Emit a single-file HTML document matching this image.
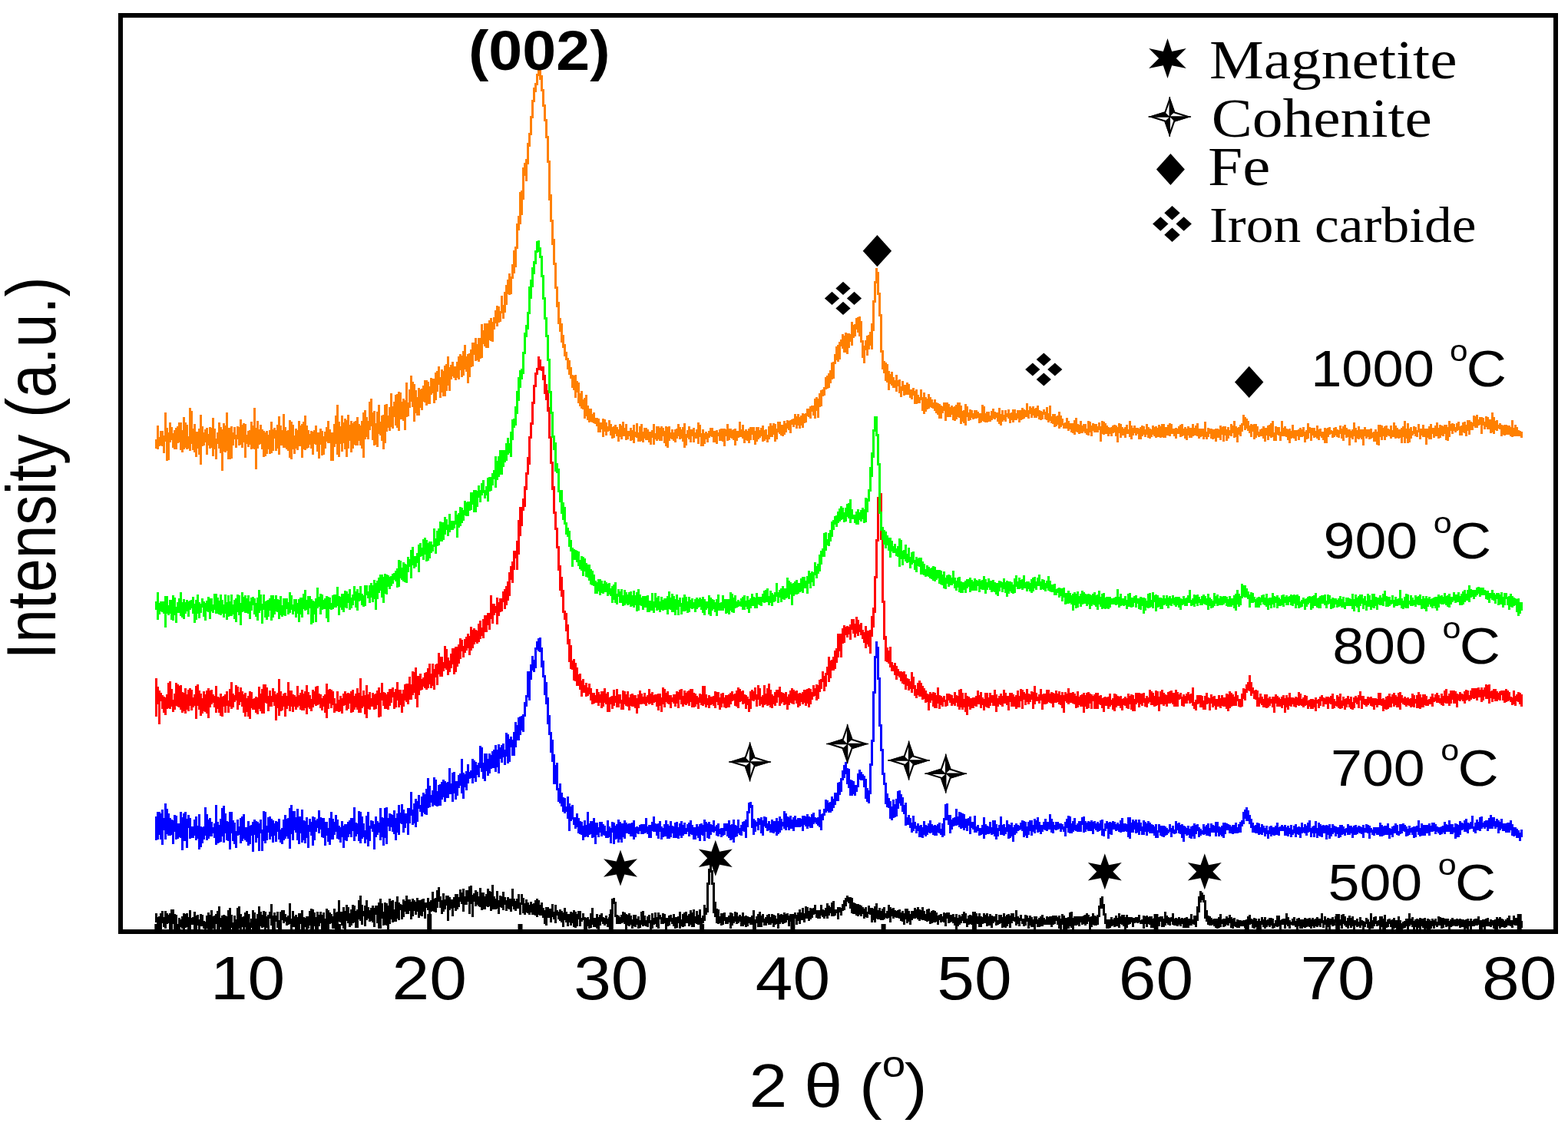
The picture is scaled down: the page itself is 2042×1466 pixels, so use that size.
<!DOCTYPE html><html><head><meta charset="utf-8"><title>XRD</title><style>html,body{margin:0;padding:0;background:#fff;width:2042px;height:1466px;overflow:hidden}svg{display:block}text{font-kerning:none}</style></head><body>
<svg width="2042" height="1466" viewBox="0 0 2042 1466">
<rect width="2042" height="1466" fill="#fff"/>
<defs><clipPath id="pc"><rect x="157" y="20" width="1869" height="1193"/></clipPath></defs><g clip-path="url(#pc)">
<path fill="#000000" shape-rendering="crispEdges" d="M201.5 1188.9H204.5V1201.1H201.5ZM203.5 1194.4H206.5V1211.6H203.5ZM205.5 1193.2H208.5V1215.6H205.5ZM207.5 1188.8H210.5V1215.3H207.5ZM209.5 1185.6H212.5V1201.8H209.5ZM211.5 1193.8H214.5V1206.9H211.5ZM213.5 1186.4H216.5V1209.1H213.5ZM215.5 1189.2H218.5V1202.6H215.5ZM217.5 1191.1H220.5V1202.3H217.5ZM219.5 1188.6H222.5V1211.8H219.5ZM221.5 1183.5H224.5V1211.2H221.5ZM223.5 1183.6H226.5V1202.8H223.5ZM225.5 1190.0H228.5V1210.1H225.5ZM227.5 1190.7H230.5V1214.0H227.5ZM229.5 1202.7H232.5V1221.8H229.5ZM231.5 1194.6H234.5V1213.2H231.5ZM233.5 1196.5H236.5V1207.3H233.5ZM235.5 1192.5H238.5V1209.2H235.5ZM237.5 1189.0H240.5V1210.1H237.5ZM239.5 1190.3H242.5V1207.9H239.5ZM241.5 1189.2H244.5V1207.3H241.5ZM243.5 1194.4H246.5V1211.7H243.5ZM245.5 1184.7H248.5V1213.0H245.5ZM247.5 1194.9H250.5V1204.4H247.5ZM249.5 1193.6H252.5V1203.6H249.5ZM251.5 1186.7H254.5V1217.4H251.5ZM253.5 1191.8H256.5V1216.1H253.5ZM255.5 1191.4H258.5V1204.7H255.5ZM257.5 1196.7H260.5V1217.2H257.5ZM259.5 1189.6H262.5V1205.5H259.5ZM261.5 1191.0H264.5V1205.7H261.5ZM263.5 1199.3H266.5V1209.1H263.5ZM265.5 1200.2H268.5V1216.7H265.5ZM267.5 1191.9H270.5V1208.5H267.5ZM269.5 1187.5H272.5V1214.5H269.5ZM271.5 1190.7H274.5V1217.6H271.5ZM273.5 1184.7H276.5V1214.8H273.5ZM275.5 1192.8H278.5V1209.2H275.5ZM277.5 1191.8H280.5V1210.6H277.5ZM279.5 1189.9H282.5V1203.0H279.5ZM281.5 1185.7H284.5V1217.5H281.5ZM283.5 1180.0H286.5V1212.7H283.5ZM285.5 1195.2H288.5V1207.1H285.5ZM287.5 1192.0H290.5V1219.1H287.5ZM289.5 1191.2H292.5V1223.3H289.5ZM291.5 1192.0H294.5V1210.1H291.5ZM293.5 1192.8H296.5V1216.8H293.5ZM295.5 1184.7H298.5V1213.4H295.5ZM297.5 1182.2H300.5V1211.3H297.5ZM299.5 1191.1H302.5V1208.1H299.5ZM301.5 1201.2H304.5V1215.8H301.5ZM303.5 1191.9H306.5V1210.8H303.5ZM305.5 1196.8H308.5V1223.7H305.5ZM307.5 1181.5H310.5V1212.2H307.5ZM309.5 1179.7H312.5V1208.5H309.5ZM311.5 1190.0H314.5V1210.1H311.5ZM313.5 1193.9H316.5V1207.4H313.5ZM315.5 1193.4H318.5V1212.1H315.5ZM317.5 1188.4H320.5V1206.8H317.5ZM319.5 1185.8H322.5V1205.5H319.5ZM321.5 1195.8H324.5V1203.8H321.5ZM323.5 1200.8H326.5V1212.1H323.5ZM325.5 1195.8H328.5V1208.0H325.5ZM327.5 1184.5H330.5V1210.6H327.5ZM329.5 1187.9H332.5V1210.9H329.5ZM331.5 1195.6H334.5V1215.1H331.5ZM333.5 1189.5H336.5V1211.4H333.5ZM335.5 1179.7H338.5V1210.2H335.5ZM337.5 1187.4H340.5V1205.5H337.5ZM339.5 1190.6H342.5V1208.0H339.5ZM341.5 1186.3H344.5V1207.1H341.5ZM343.5 1186.7H346.5V1210.7H343.5ZM345.5 1192.7H348.5V1208.2H345.5ZM347.5 1191.3H350.5V1217.6H347.5ZM349.5 1187.1H352.5V1196.0H349.5ZM351.5 1177.4H354.5V1205.2H351.5ZM353.5 1191.7H356.5V1216.9H353.5ZM355.5 1188.2H358.5V1215.0H355.5ZM357.5 1192.1H360.5V1200.4H357.5ZM359.5 1187.4H362.5V1207.8H359.5ZM361.5 1197.5H364.5V1215.5H361.5ZM363.5 1186.9H366.5V1211.2H363.5ZM365.5 1185.4H368.5V1198.2H365.5ZM367.5 1184.6H370.5V1202.4H367.5ZM369.5 1190.2H372.5V1200.2H369.5ZM371.5 1194.2H374.5V1204.7H371.5ZM373.5 1192.3H376.5V1203.9H373.5ZM375.5 1176.2H378.5V1203.1H375.5ZM377.5 1196.2H380.5V1211.4H377.5ZM379.5 1186.1H382.5V1207.3H379.5ZM381.5 1193.4H384.5V1207.3H381.5ZM383.5 1190.5H386.5V1213.3H383.5ZM385.5 1194.3H388.5V1209.5H385.5ZM387.5 1189.1H390.5V1212.6H387.5ZM389.5 1188.5H392.5V1202.5H389.5ZM391.5 1184.8H394.5V1214.0H391.5ZM393.5 1194.0H396.5V1209.5H393.5ZM395.5 1195.0H398.5V1207.1H395.5ZM397.5 1193.1H400.5V1211.0H397.5ZM399.5 1192.9H402.5V1209.4H399.5ZM401.5 1186.2H404.5V1205.2H401.5ZM403.5 1183.2H406.5V1209.5H403.5ZM405.5 1184.0H408.5V1209.9H405.5ZM407.5 1188.3H410.5V1205.7H407.5ZM409.5 1193.6H412.5V1211.4H409.5ZM411.5 1186.7H414.5V1214.9H411.5ZM413.5 1190.9H416.5V1206.1H413.5ZM415.5 1186.9H418.5V1202.2H415.5ZM417.5 1190.8H420.5V1213.1H417.5ZM419.5 1187.8H422.5V1210.5H419.5ZM421.5 1196.4H424.5V1212.6H421.5ZM423.5 1183.2H426.5V1211.3H423.5ZM425.5 1185.0H428.5V1210.1H425.5ZM427.5 1188.2H430.5V1203.4H427.5ZM429.5 1189.7H432.5V1201.8H429.5ZM431.5 1192.7H434.5V1208.5H431.5ZM433.5 1182.5H436.5V1209.3H433.5ZM435.5 1187.9H438.5V1213.7H435.5ZM437.5 1186.5H440.5V1203.7H437.5ZM439.5 1171.6H442.5V1200.0H439.5ZM441.5 1186.6H444.5V1201.1H441.5ZM443.5 1187.0H446.5V1205.1H443.5ZM445.5 1181.3H448.5V1209.0H445.5ZM447.5 1186.1H450.5V1212.7H447.5ZM449.5 1178.1H452.5V1198.9H449.5ZM451.5 1180.5H454.5V1202.1H451.5ZM453.5 1189.3H456.5V1207.2H453.5ZM455.5 1184.2H458.5V1205.2H455.5ZM457.5 1177.6H460.5V1201.6H457.5ZM459.5 1179.1H462.5V1200.7H459.5ZM461.5 1186.1H464.5V1208.3H461.5ZM463.5 1183.7H466.5V1208.4H463.5ZM465.5 1172.2H468.5V1197.2H465.5ZM467.5 1166.3H470.5V1199.3H467.5ZM469.5 1178.0H472.5V1204.3H469.5ZM471.5 1185.9H474.5V1193.2H471.5ZM473.5 1179.0H476.5V1205.5H473.5ZM475.5 1171.5H478.5V1197.6H475.5ZM477.5 1181.0H480.5V1196.2H477.5ZM479.5 1185.0H482.5V1200.0H479.5ZM481.5 1182.3H484.5V1199.1H481.5ZM483.5 1179.1H486.5V1200.5H483.5ZM485.5 1182.3H488.5V1207.0H485.5ZM487.5 1179.0H490.5V1190.6H487.5ZM489.5 1179.3H492.5V1202.2H489.5ZM491.5 1175.3H494.5V1209.1H491.5ZM493.5 1169.8H496.5V1208.5H493.5ZM495.5 1176.3H498.5V1195.6H495.5ZM497.5 1187.2H500.5V1205.0H497.5ZM499.5 1174.5H502.5V1203.7H499.5ZM501.5 1175.6H504.5V1204.8H501.5ZM503.5 1179.0H506.5V1212.3H503.5ZM505.5 1169.6H508.5V1203.4H505.5ZM507.5 1173.3H510.5V1197.1H507.5ZM509.5 1172.1H512.5V1200.7H509.5ZM511.5 1184.4H514.5V1199.7H511.5ZM513.5 1173.5H516.5V1199.7H513.5ZM515.5 1167.4H518.5V1195.5H515.5ZM517.5 1175.0H520.5V1198.4H517.5ZM519.5 1176.7H522.5V1184.9H519.5ZM521.5 1178.0H524.5V1197.2H521.5ZM523.5 1170.9H526.5V1194.3H523.5ZM525.5 1173.4H528.5V1187.0H525.5ZM527.5 1166.0H530.5V1190.0H527.5ZM529.5 1170.5H532.5V1190.2H529.5ZM531.5 1170.9H534.5V1185.5H531.5ZM533.5 1173.7H536.5V1197.0H533.5ZM535.5 1169.7H538.5V1192.5H535.5ZM537.5 1172.0H540.5V1185.8H537.5ZM539.5 1174.1H542.5V1191.4H539.5ZM541.5 1169.4H544.5V1187.0H541.5ZM543.5 1171.5H546.5V1195.0H543.5ZM545.5 1171.5H548.5V1192.1H545.5ZM547.5 1171.3H550.5V1193.4H547.5ZM549.5 1170.2H552.5V1186.9H549.5ZM551.5 1175.2H554.5V1196.1H551.5ZM553.5 1175.0H556.5V1181.9H553.5ZM555.5 1169.2H558.5V1185.0H555.5ZM557.5 1174.0H560.5V1193.5H557.5ZM559.5 1171.7H562.5V1186.5H559.5ZM561.5 1161.4H564.5V1185.8H561.5ZM563.5 1170.0H566.5V1187.0H563.5ZM565.5 1169.2H568.5V1188.2H565.5ZM567.5 1158.8H570.5V1182.3H567.5ZM569.5 1155.2H572.5V1174.4H569.5ZM571.5 1166.8H574.5V1181.6H571.5ZM573.5 1171.8H576.5V1190.4H573.5ZM575.5 1163.0H578.5V1187.4H575.5ZM577.5 1171.1H580.5V1184.2H577.5ZM579.5 1166.3H582.5V1179.0H579.5ZM581.5 1165.7H584.5V1198.6H581.5ZM583.5 1168.0H586.5V1185.4H583.5ZM585.5 1171.1H588.5V1183.4H585.5ZM587.5 1170.8H590.5V1192.9H587.5ZM589.5 1167.7H592.5V1181.8H589.5ZM591.5 1163.5H594.5V1186.4H591.5ZM593.5 1164.1H596.5V1184.2H593.5ZM595.5 1167.6H598.5V1180.6H595.5ZM597.5 1157.9H600.5V1173.5H597.5ZM599.5 1161.5H602.5V1176.6H599.5ZM601.5 1157.0H604.5V1187.2H601.5ZM603.5 1167.4H606.5V1177.5H603.5ZM605.5 1158.5H608.5V1177.6H605.5ZM607.5 1158.5H610.5V1174.3H607.5ZM609.5 1153.8H612.5V1189.8H609.5ZM611.5 1153.4H614.5V1177.0H611.5ZM613.5 1165.4H616.5V1193.5H613.5ZM615.5 1162.8H618.5V1174.2H615.5ZM617.5 1159.0H620.5V1179.7H617.5ZM619.5 1160.5H622.5V1178.1H619.5ZM621.5 1167.4H624.5V1180.1H621.5ZM623.5 1156.1H626.5V1180.8H623.5ZM625.5 1162.1H628.5V1184.7H625.5ZM627.5 1162.3H630.5V1183.7H627.5ZM629.5 1166.9H632.5V1183.9H629.5ZM631.5 1164.2H634.5V1180.0H631.5ZM633.5 1156.5H636.5V1181.2H633.5ZM635.5 1160.3H638.5V1179.5H635.5ZM637.5 1161.2H640.5V1186.2H637.5ZM639.5 1152.3H642.5V1183.9H639.5ZM641.5 1166.6H644.5V1184.1H641.5ZM643.5 1170.0H646.5V1183.6H643.5ZM645.5 1160.4H648.5V1182.8H645.5ZM647.5 1172.4H650.5V1189.7H647.5ZM649.5 1165.6H652.5V1180.9H649.5ZM651.5 1166.6H654.5V1182.2H651.5ZM653.5 1161.1H656.5V1185.1H653.5ZM655.5 1167.7H658.5V1178.2H655.5ZM657.5 1171.9H660.5V1185.5H657.5ZM659.5 1168.4H662.5V1183.3H659.5ZM661.5 1169.8H664.5V1183.9H661.5ZM663.5 1169.9H666.5V1186.8H663.5ZM665.5 1157.2H668.5V1180.0H665.5ZM667.5 1170.3H670.5V1184.1H667.5ZM669.5 1173.1H672.5V1186.0H669.5ZM671.5 1170.0H674.5V1182.6H671.5ZM673.5 1163.7H676.5V1182.6H673.5ZM675.5 1174.8H678.5V1191.1H675.5ZM677.5 1163.5H680.5V1178.4H677.5ZM679.5 1169.2H682.5V1189.1H679.5ZM681.5 1176.0H684.5V1191.0H681.5ZM683.5 1170.5H686.5V1188.1H683.5ZM685.5 1174.8H688.5V1188.6H685.5ZM687.5 1178.2H690.5V1190.9H687.5ZM689.5 1173.5H692.5V1187.9H689.5ZM691.5 1176.5H694.5V1190.8H691.5ZM693.5 1176.3H696.5V1191.1H693.5ZM695.5 1171.7H698.5V1191.7H695.5ZM697.5 1169.6H700.5V1194.4H697.5ZM699.5 1171.6H702.5V1190.6H699.5ZM701.5 1177.5H704.5V1191.6H701.5ZM703.5 1175.4H706.5V1191.9H703.5ZM705.5 1181.8H708.5V1194.5H705.5ZM707.5 1185.2H710.5V1203.4H707.5ZM709.5 1181.0H712.5V1204.6H709.5ZM711.5 1180.7H714.5V1195.1H711.5ZM713.5 1182.7H716.5V1194.7H713.5ZM715.5 1182.9H718.5V1201.3H715.5ZM717.5 1176.7H720.5V1193.9H717.5ZM719.5 1187.0H722.5V1197.3H719.5ZM721.5 1177.7H724.5V1202.3H721.5ZM723.5 1185.1H726.5V1191.5H723.5ZM725.5 1187.0H728.5V1196.8H725.5ZM727.5 1183.6H730.5V1199.3H727.5ZM729.5 1186.3H732.5V1200.8H729.5ZM731.5 1187.5H734.5V1206.8H731.5ZM733.5 1182.1H736.5V1197.6H733.5ZM735.5 1186.8H738.5V1201.0H735.5ZM737.5 1189.5H740.5V1206.2H737.5ZM739.5 1189.5H742.5V1201.2H739.5ZM741.5 1187.3H744.5V1205.1H741.5ZM743.5 1187.5H746.5V1201.9H743.5ZM745.5 1185.0H748.5V1207.1H745.5ZM747.5 1186.8H750.5V1208.0H747.5ZM749.5 1190.1H752.5V1206.3H749.5ZM751.5 1186.1H754.5V1197.1H751.5ZM753.5 1186.2H756.5V1206.1H753.5ZM755.5 1194.5H758.5V1200.1H755.5ZM757.5 1188.6H760.5V1198.0H757.5ZM759.5 1194.1H762.5V1209.8H759.5ZM761.5 1194.5H764.5V1209.7H761.5ZM763.5 1193.5H766.5V1206.2H763.5ZM765.5 1196.5H768.5V1208.6H765.5ZM767.5 1188.6H770.5V1207.5H767.5ZM769.5 1181.8H772.5V1203.8H769.5ZM771.5 1194.8H774.5V1206.5H771.5ZM773.5 1194.6H776.5V1206.6H773.5ZM775.5 1190.2H778.5V1208.5H775.5ZM777.5 1194.1H780.5V1210.4H777.5ZM779.5 1191.0H782.5V1205.4H779.5ZM781.5 1189.1H784.5V1200.3H781.5ZM783.5 1194.4H786.5V1203.2H783.5ZM785.5 1194.7H788.5V1205.0H785.5ZM787.5 1192.2H790.5V1202.6H787.5ZM789.5 1195.5H792.5V1206.9H789.5ZM791.5 1194.0H794.5V1204.9H791.5ZM793.5 1184.1H796.5V1204.0H793.5ZM795.5 1169.5H798.5V1189.8H795.5ZM797.5 1169.4H800.5V1177.3H797.5ZM799.5 1173.8H802.5V1194.2H799.5ZM801.5 1191.2H804.5V1203.4H801.5ZM803.5 1192.2H806.5V1203.0H803.5ZM805.5 1194.4H808.5V1202.9H805.5ZM807.5 1190.5H810.5V1201.7H807.5ZM809.5 1187.3H812.5V1200.9H809.5ZM811.5 1187.6H814.5V1202.8H811.5ZM813.5 1190.3H816.5V1211.6H813.5ZM815.5 1190.5H818.5V1205.4H815.5ZM817.5 1188.8H820.5V1206.4H817.5ZM819.5 1192.1H822.5V1203.6H819.5ZM821.5 1197.2H824.5V1208.9H821.5ZM823.5 1191.4H826.5V1205.8H823.5ZM825.5 1190.8H828.5V1207.3H825.5ZM827.5 1195.7H830.5V1203.7H827.5ZM829.5 1193.4H832.5V1208.9H829.5ZM831.5 1198.4H834.5V1207.9H831.5ZM833.5 1187.2H836.5V1203.9H833.5ZM835.5 1186.0H838.5V1206.0H835.5ZM837.5 1192.2H840.5V1204.7H837.5ZM839.5 1197.6H842.5V1206.1H839.5ZM841.5 1193.3H844.5V1207.1H841.5ZM843.5 1191.0H846.5V1201.7H843.5ZM845.5 1197.9H848.5V1212.6H845.5ZM847.5 1188.8H850.5V1208.7H847.5ZM849.5 1194.8H852.5V1204.3H849.5ZM851.5 1188.3H854.5V1202.5H851.5ZM853.5 1194.1H856.5V1207.0H853.5ZM855.5 1188.3H858.5V1209.3H855.5ZM857.5 1190.6H860.5V1197.1H857.5ZM859.5 1194.1H862.5V1202.5H859.5ZM861.5 1188.5H864.5V1202.5H861.5ZM863.5 1189.9H866.5V1201.7H863.5ZM865.5 1194.8H868.5V1209.9H865.5ZM867.5 1195.1H870.5V1205.7H867.5ZM869.5 1191.8H872.5V1204.6H869.5ZM871.5 1191.0H874.5V1200.4H871.5ZM873.5 1195.3H876.5V1203.4H873.5ZM875.5 1189.7H878.5V1205.5H875.5ZM877.5 1194.0H880.5V1209.0H877.5ZM879.5 1194.4H882.5V1207.5H879.5ZM881.5 1192.7H884.5V1202.0H881.5ZM883.5 1187.4H886.5V1209.4H883.5ZM885.5 1196.9H888.5V1205.6H885.5ZM887.5 1189.5H890.5V1207.2H887.5ZM889.5 1187.5H892.5V1206.3H889.5ZM891.5 1187.4H894.5V1201.8H891.5ZM893.5 1191.9H896.5V1202.0H893.5ZM895.5 1190.4H898.5V1205.8H895.5ZM897.5 1185.4H900.5V1204.0H897.5ZM899.5 1187.9H902.5V1206.5H899.5ZM901.5 1183.7H904.5V1207.3H901.5ZM903.5 1192.9H906.5V1202.1H903.5ZM905.5 1185.8H908.5V1202.8H905.5ZM907.5 1190.5H910.5V1204.0H907.5ZM909.5 1183.7H912.5V1203.3H909.5ZM911.5 1195.1H914.5V1204.5H911.5ZM913.5 1192.0H916.5V1202.2H913.5ZM915.5 1178.3H918.5V1198.5H915.5ZM917.5 1182.0H920.5V1190.9H917.5ZM919.5 1149.1H922.5V1187.8H919.5ZM921.5 1130.7H924.5V1152.1H921.5ZM923.5 1125.1H926.5V1135.7H923.5ZM925.5 1132.7H928.5V1151.9H925.5ZM927.5 1148.9H930.5V1189.0H927.5ZM929.5 1174.0H932.5V1193.5H929.5ZM931.5 1182.8H934.5V1202.1H931.5ZM933.5 1184.3H936.5V1203.0H933.5ZM935.5 1193.2H938.5V1202.0H935.5ZM937.5 1188.5H940.5V1205.2H937.5ZM939.5 1188.9H942.5V1203.7H939.5ZM941.5 1188.4H944.5V1199.1H941.5ZM943.5 1193.5H946.5V1202.9H943.5ZM945.5 1193.6H948.5V1202.9H945.5ZM947.5 1192.0H950.5V1200.8H947.5ZM949.5 1188.2H952.5V1209.3H949.5ZM951.5 1188.7H954.5V1204.9H951.5ZM953.5 1192.6H956.5V1202.4H953.5ZM955.5 1187.2H958.5V1199.7H955.5ZM957.5 1187.7H960.5V1203.0H957.5ZM959.5 1192.5H962.5V1201.5H959.5ZM961.5 1190.9H964.5V1199.9H961.5ZM963.5 1193.4H966.5V1205.5H963.5ZM965.5 1187.8H968.5V1206.3H965.5ZM967.5 1192.9H970.5V1203.5H967.5ZM969.5 1192.1H972.5V1207.1H969.5ZM971.5 1193.0H974.5V1206.3H971.5ZM973.5 1194.4H976.5V1201.5H973.5ZM975.5 1193.9H978.5V1203.5H975.5ZM977.5 1192.0H980.5V1204.0H977.5ZM979.5 1185.0H982.5V1209.9H979.5ZM981.5 1196.6H984.5V1212.0H981.5ZM983.5 1192.9H986.5V1202.4H983.5ZM985.5 1190.1H988.5V1207.4H985.5ZM987.5 1186.5H990.5V1206.5H987.5ZM989.5 1191.5H992.5V1206.6H989.5ZM991.5 1189.6H994.5V1201.4H991.5ZM993.5 1196.1H996.5V1205.4H993.5ZM995.5 1193.5H998.5V1205.0H995.5ZM997.5 1190.8H1000.5V1201.5H997.5ZM999.5 1189.7H1002.5V1203.9H999.5ZM1001.5 1194.1H1004.5V1203.9H1001.5ZM1003.5 1190.4H1006.5V1202.4H1003.5ZM1005.5 1190.9H1008.5V1207.0H1005.5ZM1007.5 1192.0H1010.5V1203.6H1007.5ZM1009.5 1195.9H1012.5V1202.9H1009.5ZM1011.5 1189.0H1014.5V1209.0H1011.5ZM1013.5 1190.6H1016.5V1202.7H1013.5ZM1015.5 1190.2H1018.5V1201.0H1015.5ZM1017.5 1190.7H1020.5V1202.9H1017.5ZM1019.5 1187.7H1022.5V1202.4H1019.5ZM1021.5 1190.0H1024.5V1200.8H1021.5ZM1023.5 1189.4H1026.5V1198.4H1023.5ZM1025.5 1191.6H1028.5V1206.4H1025.5ZM1027.5 1189.5H1030.5V1200.1H1027.5ZM1029.5 1193.2H1032.5V1206.4H1029.5ZM1031.5 1190.2H1034.5V1199.8H1031.5ZM1033.5 1188.3H1036.5V1196.4H1033.5ZM1035.5 1190.8H1038.5V1203.8H1035.5ZM1037.5 1187.9H1040.5V1198.9H1037.5ZM1039.5 1184.0H1042.5V1203.2H1039.5ZM1041.5 1187.8H1044.5V1197.6H1041.5ZM1043.5 1182.2H1046.5V1197.6H1043.5ZM1045.5 1188.8H1048.5V1201.0H1045.5ZM1047.5 1180.2H1050.5V1196.1H1047.5ZM1049.5 1180.9H1052.5V1196.1H1049.5ZM1051.5 1185.5H1054.5V1199.0H1051.5ZM1053.5 1181.6H1056.5V1197.2H1053.5ZM1055.5 1183.4H1058.5V1195.1H1055.5ZM1057.5 1181.5H1060.5V1191.0H1057.5ZM1059.5 1178.3H1062.5V1189.5H1059.5ZM1061.5 1184.9H1064.5V1195.1H1061.5ZM1063.5 1185.1H1066.5V1195.8H1063.5ZM1065.5 1184.8H1068.5V1195.5H1065.5ZM1067.5 1178.0H1070.5V1192.0H1067.5ZM1069.5 1184.2H1072.5V1193.5H1069.5ZM1071.5 1184.7H1074.5V1195.8H1071.5ZM1073.5 1182.2H1076.5V1193.0H1073.5ZM1075.5 1176.1H1078.5V1196.0H1075.5ZM1077.5 1178.8H1080.5V1191.5H1077.5ZM1079.5 1180.6H1082.5V1189.3H1079.5ZM1081.5 1174.6H1084.5V1192.5H1081.5ZM1083.5 1172.6H1086.5V1193.1H1083.5ZM1085.5 1183.8H1088.5V1191.5H1085.5ZM1087.5 1183.9H1090.5V1189.2H1087.5ZM1089.5 1180.9H1092.5V1197.1H1089.5ZM1091.5 1180.9H1094.5V1188.0H1091.5ZM1093.5 1182.3H1096.5V1191.7H1093.5ZM1095.5 1177.4H1098.5V1186.3H1095.5ZM1097.5 1172.3H1100.5V1184.5H1097.5ZM1099.5 1169.0H1102.5V1179.7H1099.5ZM1101.5 1166.1H1104.5V1173.6H1101.5ZM1103.5 1168.0H1106.5V1176.4H1103.5ZM1105.5 1168.0H1108.5V1183.4H1105.5ZM1107.5 1169.3H1110.5V1188.9H1107.5ZM1109.5 1175.0H1112.5V1190.3H1109.5ZM1111.5 1175.9H1114.5V1189.7H1111.5ZM1113.5 1177.4H1116.5V1191.9H1113.5ZM1115.5 1177.1H1118.5V1193.2H1115.5ZM1117.5 1177.7H1120.5V1191.1H1117.5ZM1119.5 1179.0H1122.5V1193.2H1119.5ZM1121.5 1180.6H1124.5V1189.5H1121.5ZM1123.5 1182.7H1126.5V1196.4H1123.5ZM1125.5 1181.2H1128.5V1193.7H1125.5ZM1127.5 1186.9H1130.5V1195.2H1127.5ZM1129.5 1179.4H1132.5V1189.9H1129.5ZM1131.5 1182.1H1134.5V1191.0H1131.5ZM1133.5 1181.7H1136.5V1200.8H1133.5ZM1135.5 1182.9H1138.5V1198.4H1135.5ZM1137.5 1180.2H1140.5V1200.8H1137.5ZM1139.5 1176.3H1142.5V1195.8H1139.5ZM1141.5 1184.8H1144.5V1196.9H1141.5ZM1143.5 1182.4H1146.5V1197.1H1143.5ZM1145.5 1185.8H1148.5V1197.7H1145.5ZM1147.5 1182.8H1150.5V1197.9H1147.5ZM1149.5 1180.8H1152.5V1197.2H1149.5ZM1151.5 1188.8H1154.5V1194.7H1151.5ZM1153.5 1186.4H1156.5V1196.0H1153.5ZM1155.5 1177.8H1158.5V1194.7H1155.5ZM1157.5 1180.6H1160.5V1200.5H1157.5ZM1159.5 1182.7H1162.5V1193.2H1159.5ZM1161.5 1182.4H1164.5V1195.8H1161.5ZM1163.5 1184.9H1166.5V1194.4H1163.5ZM1165.5 1186.0H1168.5V1194.9H1165.5ZM1167.5 1184.6H1170.5V1195.0H1167.5ZM1169.5 1183.6H1172.5V1196.3H1169.5ZM1171.5 1188.4H1174.5V1198.5H1171.5ZM1173.5 1186.1H1176.5V1199.7H1173.5ZM1175.5 1189.3H1178.5V1203.9H1175.5ZM1177.5 1182.7H1180.5V1197.4H1177.5ZM1179.5 1182.6H1182.5V1201.7H1179.5ZM1181.5 1185.8H1184.5V1200.3H1181.5ZM1183.5 1189.5H1186.5V1204.2H1183.5ZM1185.5 1186.0H1188.5V1197.7H1185.5ZM1187.5 1185.9H1190.5V1196.0H1187.5ZM1189.5 1181.8H1192.5V1195.9H1189.5ZM1191.5 1184.1H1194.5V1195.2H1191.5ZM1193.5 1181.4H1196.5V1197.2H1193.5ZM1195.5 1183.6H1198.5V1199.4H1195.5ZM1197.5 1185.1H1200.5V1197.4H1197.5ZM1199.5 1181.0H1202.5V1198.0H1199.5ZM1201.5 1186.3H1204.5V1197.8H1201.5ZM1203.5 1190.4H1206.5V1199.1H1203.5ZM1205.5 1183.6H1208.5V1199.8H1205.5ZM1207.5 1182.5H1210.5V1198.9H1207.5ZM1209.5 1187.6H1212.5V1203.0H1209.5ZM1211.5 1186.2H1214.5V1201.9H1211.5ZM1213.5 1184.6H1216.5V1200.5H1213.5ZM1215.5 1185.8H1218.5V1200.7H1215.5ZM1217.5 1188.1H1220.5V1199.9H1217.5ZM1219.5 1192.4H1222.5V1203.9H1219.5ZM1221.5 1191.4H1224.5V1197.8H1221.5ZM1223.5 1189.8H1226.5V1200.9H1223.5ZM1225.5 1192.8H1228.5V1199.7H1225.5ZM1227.5 1188.3H1230.5V1201.4H1227.5ZM1229.5 1189.3H1232.5V1206.3H1229.5ZM1231.5 1187.8H1234.5V1195.6H1231.5ZM1233.5 1187.8H1236.5V1201.7H1233.5ZM1235.5 1191.4H1238.5V1201.0H1235.5ZM1237.5 1191.4H1240.5V1199.8H1237.5ZM1239.5 1189.5H1242.5V1201.9H1239.5ZM1241.5 1193.8H1244.5V1205.4H1241.5ZM1243.5 1190.1H1246.5V1209.6H1243.5ZM1245.5 1195.2H1248.5V1205.6H1245.5ZM1247.5 1190.7H1250.5V1204.4H1247.5ZM1249.5 1192.7H1252.5V1202.3H1249.5ZM1251.5 1190.0H1254.5V1199.3H1251.5ZM1253.5 1187.2H1256.5V1202.2H1253.5ZM1255.5 1188.9H1258.5V1202.2H1255.5ZM1257.5 1196.0H1260.5V1207.2H1257.5ZM1259.5 1191.9H1262.5V1203.6H1259.5ZM1261.5 1191.4H1264.5V1203.3H1261.5ZM1263.5 1191.6H1266.5V1204.2H1263.5ZM1265.5 1187.0H1268.5V1206.9H1265.5ZM1267.5 1187.0H1270.5V1204.2H1267.5ZM1269.5 1188.9H1272.5V1202.1H1269.5ZM1271.5 1192.6H1274.5V1202.5H1271.5ZM1273.5 1189.1H1276.5V1206.5H1273.5ZM1275.5 1192.9H1278.5V1206.7H1275.5ZM1277.5 1193.5H1280.5V1202.8H1277.5ZM1279.5 1188.8H1282.5V1201.6H1279.5ZM1281.5 1191.1H1284.5V1202.1H1281.5ZM1283.5 1189.2H1286.5V1206.0H1283.5ZM1285.5 1192.7H1288.5V1204.5H1285.5ZM1287.5 1190.1H1290.5V1205.3H1287.5ZM1289.5 1191.7H1292.5V1207.8H1289.5ZM1291.5 1192.6H1294.5V1202.2H1291.5ZM1293.5 1193.4H1296.5V1199.6H1293.5ZM1295.5 1189.7H1298.5V1205.0H1295.5ZM1297.5 1197.6H1300.5V1203.6H1297.5ZM1299.5 1191.0H1302.5V1203.3H1299.5ZM1301.5 1191.1H1304.5V1201.5H1301.5ZM1303.5 1194.4H1306.5V1207.9H1303.5ZM1305.5 1189.4H1308.5V1206.8H1305.5ZM1307.5 1193.2H1310.5V1207.5H1307.5ZM1309.5 1190.8H1312.5V1205.5H1309.5ZM1311.5 1190.4H1314.5V1202.5H1311.5ZM1313.5 1192.4H1316.5V1207.8H1313.5ZM1315.5 1188.6H1318.5V1202.2H1315.5ZM1317.5 1189.0H1320.5V1199.4H1317.5ZM1319.5 1193.8H1322.5V1200.0H1319.5ZM1321.5 1185.1H1324.5V1204.8H1321.5ZM1323.5 1193.0H1326.5V1203.4H1323.5ZM1325.5 1194.7H1328.5V1205.6H1325.5ZM1327.5 1191.2H1330.5V1198.6H1327.5ZM1329.5 1195.6H1332.5V1202.7H1329.5ZM1331.5 1196.4H1334.5V1205.5H1331.5ZM1333.5 1190.9H1336.5V1204.9H1333.5ZM1335.5 1191.7H1338.5V1200.2H1335.5ZM1337.5 1194.9H1340.5V1209.0H1337.5ZM1339.5 1191.6H1342.5V1205.1H1339.5ZM1341.5 1193.5H1344.5V1206.5H1341.5ZM1343.5 1197.4H1346.5V1207.3H1343.5ZM1345.5 1192.7H1348.5V1209.5H1345.5ZM1347.5 1192.9H1350.5V1203.0H1347.5ZM1349.5 1197.0H1352.5V1207.4H1349.5ZM1351.5 1195.4H1354.5V1207.4H1351.5ZM1353.5 1192.7H1356.5V1205.5H1353.5ZM1355.5 1190.5H1358.5V1205.5H1355.5ZM1357.5 1195.4H1360.5V1204.3H1357.5ZM1359.5 1197.0H1362.5V1204.0H1359.5ZM1361.5 1193.3H1364.5V1204.2H1361.5ZM1363.5 1193.7H1366.5V1203.7H1363.5ZM1365.5 1192.8H1368.5V1204.4H1365.5ZM1367.5 1192.8H1370.5V1206.8H1367.5ZM1369.5 1191.6H1372.5V1203.7H1369.5ZM1371.5 1192.0H1374.5V1203.1H1371.5ZM1373.5 1191.6H1376.5V1198.9H1373.5ZM1375.5 1193.7H1378.5V1203.6H1375.5ZM1377.5 1191.5H1380.5V1209.4H1377.5ZM1379.5 1195.9H1382.5V1212.4H1379.5ZM1381.5 1190.4H1384.5V1204.2H1381.5ZM1383.5 1191.9H1386.5V1204.4H1383.5ZM1385.5 1194.9H1388.5V1203.3H1385.5ZM1387.5 1195.1H1390.5V1207.6H1387.5ZM1389.5 1193.8H1392.5V1208.5H1389.5ZM1391.5 1188.1H1394.5V1206.0H1391.5ZM1393.5 1187.2H1396.5V1207.8H1393.5ZM1395.5 1194.7H1398.5V1212.5H1395.5ZM1397.5 1193.0H1400.5V1204.5H1397.5ZM1399.5 1193.0H1402.5V1205.4H1399.5ZM1401.5 1192.8H1404.5V1203.7H1401.5ZM1403.5 1193.3H1406.5V1206.3H1403.5ZM1405.5 1192.7H1408.5V1200.7H1405.5ZM1407.5 1192.6H1410.5V1203.5H1407.5ZM1409.5 1192.3H1412.5V1202.9H1409.5ZM1411.5 1190.9H1414.5V1205.2H1411.5ZM1413.5 1188.7H1416.5V1203.1H1413.5ZM1415.5 1190.8H1418.5V1200.2H1415.5ZM1417.5 1193.7H1420.5V1210.3H1417.5ZM1419.5 1193.3H1422.5V1206.6H1419.5ZM1421.5 1188.9H1424.5V1204.2H1421.5ZM1423.5 1192.3H1426.5V1204.7H1423.5ZM1425.5 1192.7H1428.5V1204.9H1425.5ZM1427.5 1190.6H1430.5V1204.0H1427.5ZM1429.5 1178.9H1432.5V1193.6H1429.5ZM1431.5 1168.7H1434.5V1182.6H1431.5ZM1433.5 1167.2H1436.5V1182.9H1433.5ZM1435.5 1176.8H1438.5V1192.0H1435.5ZM1437.5 1189.0H1440.5V1202.6H1437.5ZM1439.5 1197.4H1442.5V1208.6H1439.5ZM1441.5 1196.5H1444.5V1208.8H1441.5ZM1443.5 1196.5H1446.5V1207.9H1443.5ZM1445.5 1194.4H1448.5V1206.4H1445.5ZM1447.5 1197.4H1450.5V1204.9H1447.5ZM1449.5 1194.9H1452.5V1206.6H1449.5ZM1451.5 1192.3H1454.5V1205.9H1451.5ZM1453.5 1195.1H1456.5V1205.8H1453.5ZM1455.5 1188.5H1458.5V1208.0H1455.5ZM1457.5 1193.4H1460.5V1203.3H1457.5ZM1459.5 1191.0H1462.5V1203.5H1459.5ZM1461.5 1191.3H1464.5V1206.1H1461.5ZM1463.5 1193.9H1466.5V1211.8H1463.5ZM1465.5 1190.5H1468.5V1207.7H1465.5ZM1467.5 1194.2H1470.5V1203.7H1467.5ZM1469.5 1194.1H1472.5V1202.8H1469.5ZM1471.5 1194.0H1474.5V1201.4H1471.5ZM1473.5 1195.3H1476.5V1207.4H1473.5ZM1475.5 1194.5H1478.5V1201.5H1475.5ZM1477.5 1193.5H1480.5V1200.9H1477.5ZM1479.5 1194.0H1482.5V1202.4H1479.5ZM1481.5 1190.5H1484.5V1201.1H1481.5ZM1483.5 1197.7H1486.5V1203.0H1483.5ZM1485.5 1196.7H1488.5V1202.6H1485.5ZM1487.5 1192.1H1490.5V1209.0H1487.5ZM1489.5 1192.9H1492.5V1203.3H1489.5ZM1491.5 1191.8H1494.5V1207.3H1491.5ZM1493.5 1194.3H1496.5V1202.7H1493.5ZM1495.5 1193.0H1498.5V1204.2H1495.5ZM1497.5 1193.2H1500.5V1207.7H1497.5ZM1499.5 1195.5H1502.5V1208.3H1499.5ZM1501.5 1194.7H1504.5V1206.4H1501.5ZM1503.5 1192.2H1506.5V1204.3H1503.5ZM1505.5 1195.4H1508.5V1203.7H1505.5ZM1507.5 1193.5H1510.5V1205.6H1507.5ZM1509.5 1192.8H1512.5V1199.7H1509.5ZM1511.5 1193.0H1514.5V1206.9H1511.5ZM1513.5 1195.9H1516.5V1207.0H1513.5ZM1515.5 1187.4H1518.5V1205.4H1515.5ZM1517.5 1191.9H1520.5V1201.6H1517.5ZM1519.5 1193.7H1522.5V1203.6H1519.5ZM1521.5 1195.4H1524.5V1204.6H1521.5ZM1523.5 1193.9H1526.5V1200.2H1523.5ZM1525.5 1189.1H1528.5V1203.5H1525.5ZM1527.5 1195.7H1530.5V1204.5H1527.5ZM1529.5 1195.1H1532.5V1204.6H1529.5ZM1531.5 1196.3H1534.5V1206.1H1531.5ZM1533.5 1194.2H1536.5V1203.6H1533.5ZM1535.5 1196.3H1538.5V1205.9H1535.5ZM1537.5 1195.3H1540.5V1202.9H1537.5ZM1539.5 1195.8H1542.5V1208.2H1539.5ZM1541.5 1194.5H1544.5V1207.8H1541.5ZM1543.5 1193.6H1546.5V1208.3H1543.5ZM1545.5 1196.3H1548.5V1207.5H1545.5ZM1547.5 1196.2H1550.5V1205.2H1547.5ZM1549.5 1189.7H1552.5V1205.1H1549.5ZM1551.5 1197.4H1554.5V1203.2H1551.5ZM1553.5 1191.7H1556.5V1204.1H1553.5ZM1555.5 1191.7H1558.5V1207.0H1555.5ZM1557.5 1179.5H1560.5V1198.9H1557.5ZM1559.5 1167.2H1562.5V1187.9H1559.5ZM1561.5 1159.6H1564.5V1175.3H1561.5ZM1563.5 1161.9H1566.5V1171.9H1563.5ZM1565.5 1165.1H1568.5V1175.3H1565.5ZM1567.5 1172.3H1570.5V1195.5H1567.5ZM1569.5 1185.4H1572.5V1199.6H1569.5ZM1571.5 1192.2H1574.5V1203.9H1571.5ZM1573.5 1192.8H1576.5V1204.6H1573.5ZM1575.5 1194.8H1578.5V1205.0H1575.5ZM1577.5 1197.4H1580.5V1204.0H1577.5ZM1579.5 1195.7H1582.5V1205.8H1579.5ZM1581.5 1195.7H1584.5V1207.8H1581.5ZM1583.5 1195.7H1586.5V1208.5H1583.5ZM1585.5 1194.4H1588.5V1208.0H1585.5ZM1587.5 1189.9H1590.5V1206.8H1587.5ZM1589.5 1196.9H1592.5V1203.4H1589.5ZM1591.5 1196.0H1594.5V1207.0H1591.5ZM1593.5 1195.5H1596.5V1206.0H1593.5ZM1595.5 1193.4H1598.5V1203.8H1595.5ZM1597.5 1194.8H1600.5V1205.1H1597.5ZM1599.5 1190.8H1602.5V1202.0H1599.5ZM1601.5 1194.1H1604.5V1207.9H1601.5ZM1603.5 1196.1H1606.5V1209.1H1603.5ZM1605.5 1195.3H1608.5V1206.2H1605.5ZM1607.5 1199.8H1610.5V1207.1H1607.5ZM1609.5 1197.4H1612.5V1207.9H1609.5ZM1611.5 1198.1H1614.5V1207.7H1611.5ZM1613.5 1198.0H1616.5V1206.4H1613.5ZM1615.5 1199.3H1618.5V1205.8H1615.5ZM1617.5 1197.9H1620.5V1206.4H1617.5ZM1619.5 1198.2H1622.5V1207.5H1619.5ZM1621.5 1197.0H1624.5V1207.7H1621.5ZM1623.5 1193.1H1626.5V1206.3H1623.5ZM1625.5 1191.3H1628.5V1204.3H1625.5ZM1627.5 1195.7H1630.5V1202.6H1627.5ZM1629.5 1197.1H1632.5V1207.7H1629.5ZM1631.5 1195.0H1634.5V1209.4H1631.5ZM1633.5 1196.0H1636.5V1207.4H1633.5ZM1635.5 1198.7H1638.5V1210.2H1635.5ZM1637.5 1196.0H1640.5V1210.7H1637.5ZM1639.5 1198.7H1642.5V1209.6H1639.5ZM1641.5 1194.1H1644.5V1204.1H1641.5ZM1643.5 1197.0H1646.5V1207.4H1643.5ZM1645.5 1194.1H1648.5V1208.8H1645.5ZM1647.5 1198.0H1650.5V1206.7H1647.5ZM1649.5 1196.5H1652.5V1205.1H1649.5ZM1651.5 1195.0H1654.5V1207.1H1651.5ZM1653.5 1195.4H1656.5V1205.3H1653.5ZM1655.5 1196.2H1658.5V1209.2H1655.5ZM1657.5 1201.6H1660.5V1208.4H1657.5ZM1659.5 1197.9H1662.5V1206.2H1659.5ZM1661.5 1191.8H1664.5V1207.2H1661.5ZM1663.5 1191.7H1666.5V1206.1H1663.5ZM1665.5 1198.2H1668.5V1209.5H1665.5ZM1667.5 1196.9H1670.5V1203.9H1667.5ZM1669.5 1195.5H1672.5V1203.7H1669.5ZM1671.5 1195.5H1674.5V1209.2H1671.5ZM1673.5 1189.1H1676.5V1204.0H1673.5ZM1675.5 1193.9H1678.5V1205.8H1675.5ZM1677.5 1198.4H1680.5V1209.4H1677.5ZM1679.5 1199.5H1682.5V1204.0H1679.5ZM1681.5 1196.4H1684.5V1205.1H1681.5ZM1683.5 1193.6H1686.5V1204.8H1683.5ZM1685.5 1198.8H1688.5V1207.3H1685.5ZM1687.5 1195.6H1690.5V1209.5H1687.5ZM1689.5 1194.5H1692.5V1205.6H1689.5ZM1691.5 1197.3H1694.5V1209.4H1691.5ZM1693.5 1196.7H1696.5V1208.9H1693.5ZM1695.5 1196.5H1698.5V1206.5H1695.5ZM1697.5 1194.8H1700.5V1207.6H1697.5ZM1699.5 1195.6H1702.5V1207.4H1699.5ZM1701.5 1195.8H1704.5V1206.2H1701.5ZM1703.5 1195.0H1706.5V1207.0H1703.5ZM1705.5 1196.8H1708.5V1208.7H1705.5ZM1707.5 1194.8H1710.5V1205.8H1707.5ZM1709.5 1196.5H1712.5V1207.5H1709.5ZM1711.5 1196.4H1714.5V1206.4H1711.5ZM1713.5 1194.4H1716.5V1207.3H1713.5ZM1715.5 1195.5H1718.5V1205.0H1715.5ZM1717.5 1196.2H1720.5V1207.1H1717.5ZM1719.5 1189.3H1722.5V1202.3H1719.5ZM1721.5 1198.4H1724.5V1208.0H1721.5ZM1723.5 1193.3H1726.5V1204.0H1723.5ZM1725.5 1196.5H1728.5V1212.6H1725.5ZM1727.5 1195.1H1730.5V1207.2H1727.5ZM1729.5 1196.3H1732.5V1211.3H1729.5ZM1731.5 1196.0H1734.5V1203.7H1731.5ZM1733.5 1194.4H1736.5V1206.0H1733.5ZM1735.5 1197.1H1738.5V1205.1H1735.5ZM1737.5 1193.3H1740.5V1200.5H1737.5ZM1739.5 1192.1H1742.5V1208.9H1739.5ZM1741.5 1195.8H1744.5V1207.1H1741.5ZM1743.5 1197.0H1746.5V1205.0H1743.5ZM1745.5 1191.1H1748.5V1209.0H1745.5ZM1747.5 1190.3H1750.5V1203.4H1747.5ZM1749.5 1192.9H1752.5V1205.4H1749.5ZM1751.5 1199.2H1754.5V1207.0H1751.5ZM1753.5 1194.5H1756.5V1208.5H1753.5ZM1755.5 1192.3H1758.5V1205.2H1755.5ZM1757.5 1195.0H1760.5V1208.1H1757.5ZM1759.5 1193.0H1762.5V1206.1H1759.5ZM1761.5 1197.6H1764.5V1209.8H1761.5ZM1763.5 1198.3H1766.5V1205.1H1763.5ZM1765.5 1195.8H1768.5V1206.8H1765.5ZM1767.5 1199.7H1770.5V1205.7H1767.5ZM1769.5 1194.1H1772.5V1207.6H1769.5ZM1771.5 1197.5H1774.5V1205.2H1771.5ZM1773.5 1199.1H1776.5V1209.7H1773.5ZM1775.5 1199.5H1778.5V1207.4H1775.5ZM1777.5 1194.9H1780.5V1203.0H1777.5ZM1779.5 1197.3H1782.5V1208.4H1779.5ZM1781.5 1200.0H1784.5V1210.2H1781.5ZM1783.5 1188.8H1786.5V1208.6H1783.5ZM1785.5 1198.0H1788.5V1209.3H1785.5ZM1787.5 1193.6H1790.5V1206.2H1787.5ZM1789.5 1192.8H1792.5V1203.0H1789.5ZM1791.5 1199.0H1794.5V1206.2H1791.5ZM1793.5 1197.5H1796.5V1205.1H1793.5ZM1795.5 1193.3H1798.5V1210.3H1795.5ZM1797.5 1192.7H1800.5V1207.2H1797.5ZM1799.5 1196.1H1802.5V1209.6H1799.5ZM1801.5 1191.2H1804.5V1211.0H1801.5ZM1803.5 1199.9H1806.5V1208.1H1803.5ZM1805.5 1197.2H1808.5V1207.1H1805.5ZM1807.5 1195.6H1810.5V1203.3H1807.5ZM1809.5 1198.1H1812.5V1206.6H1809.5ZM1811.5 1197.3H1814.5V1209.6H1811.5ZM1813.5 1195.0H1816.5V1209.4H1813.5ZM1815.5 1198.1H1818.5V1207.8H1815.5ZM1817.5 1197.5H1820.5V1212.5H1817.5ZM1819.5 1192.5H1822.5V1212.6H1819.5ZM1821.5 1198.1H1824.5V1210.0H1821.5ZM1823.5 1202.0H1826.5V1209.5H1823.5ZM1825.5 1200.1H1828.5V1209.0H1825.5ZM1827.5 1199.4H1830.5V1207.6H1827.5ZM1829.5 1195.8H1832.5V1205.8H1829.5ZM1831.5 1196.2H1834.5V1209.6H1831.5ZM1833.5 1189.2H1836.5V1206.1H1833.5ZM1835.5 1195.9H1838.5V1203.8H1835.5ZM1837.5 1194.2H1840.5V1207.0H1837.5ZM1839.5 1198.5H1842.5V1210.3H1839.5ZM1841.5 1197.0H1844.5V1206.5H1841.5ZM1843.5 1196.2H1846.5V1210.1H1843.5ZM1845.5 1197.4H1848.5V1207.6H1845.5ZM1847.5 1194.6H1850.5V1210.1H1847.5ZM1849.5 1195.6H1852.5V1206.3H1849.5ZM1851.5 1195.9H1854.5V1207.7H1851.5ZM1853.5 1195.3H1856.5V1209.6H1853.5ZM1855.5 1198.8H1858.5V1208.6H1855.5ZM1857.5 1196.2H1860.5V1211.4H1857.5ZM1859.5 1196.9H1862.5V1208.7H1859.5ZM1861.5 1199.0H1864.5V1209.0H1861.5ZM1863.5 1195.8H1866.5V1205.5H1863.5ZM1865.5 1198.0H1868.5V1208.6H1865.5ZM1867.5 1196.4H1870.5V1205.1H1867.5ZM1869.5 1199.9H1872.5V1207.3H1869.5ZM1871.5 1192.6H1874.5V1205.4H1871.5ZM1873.5 1194.0H1876.5V1204.5H1873.5ZM1875.5 1195.0H1878.5V1208.6H1875.5ZM1877.5 1195.2H1880.5V1207.9H1877.5ZM1879.5 1196.4H1882.5V1203.8H1879.5ZM1881.5 1196.1H1884.5V1207.2H1881.5ZM1883.5 1195.7H1886.5V1205.9H1883.5ZM1885.5 1199.0H1888.5V1209.7H1885.5ZM1887.5 1197.1H1890.5V1207.4H1887.5ZM1889.5 1195.2H1892.5V1205.5H1889.5ZM1891.5 1197.1H1894.5V1204.9H1891.5ZM1893.5 1197.4H1896.5V1206.3H1893.5ZM1895.5 1196.1H1898.5V1205.9H1895.5ZM1897.5 1196.5H1900.5V1205.3H1897.5ZM1899.5 1195.7H1902.5V1208.4H1899.5ZM1901.5 1196.8H1904.5V1207.3H1901.5ZM1903.5 1196.6H1906.5V1207.0H1903.5ZM1905.5 1198.2H1908.5V1211.5H1905.5ZM1907.5 1196.7H1910.5V1209.3H1907.5ZM1909.5 1195.5H1912.5V1209.5H1909.5ZM1911.5 1199.1H1914.5V1206.1H1911.5ZM1913.5 1196.2H1916.5V1210.2H1913.5ZM1915.5 1198.6H1918.5V1206.4H1915.5ZM1917.5 1197.3H1920.5V1206.0H1917.5ZM1919.5 1195.8H1922.5V1204.8H1919.5ZM1921.5 1195.9H1924.5V1205.3H1921.5ZM1923.5 1192.7H1926.5V1204.4H1923.5ZM1925.5 1197.8H1928.5V1210.9H1925.5ZM1927.5 1197.9H1930.5V1212.6H1927.5ZM1929.5 1196.6H1932.5V1207.4H1929.5ZM1931.5 1196.9H1934.5V1212.5H1931.5ZM1933.5 1196.4H1936.5V1206.3H1933.5ZM1935.5 1195.4H1938.5V1205.8H1935.5ZM1937.5 1200.3H1940.5V1205.7H1937.5ZM1939.5 1197.0H1942.5V1206.7H1939.5ZM1941.5 1197.5H1944.5V1205.3H1941.5ZM1943.5 1198.1H1946.5V1208.6H1943.5ZM1945.5 1196.8H1948.5V1210.5H1945.5ZM1947.5 1194.3H1950.5V1209.9H1947.5ZM1949.5 1195.8H1952.5V1206.3H1949.5ZM1951.5 1194.4H1954.5V1208.6H1951.5ZM1953.5 1195.8H1956.5V1206.6H1953.5ZM1955.5 1197.1H1958.5V1207.2H1955.5ZM1957.5 1198.5H1960.5V1208.1H1957.5ZM1959.5 1196.6H1962.5V1206.9H1959.5ZM1961.5 1194.6H1964.5V1205.4H1961.5ZM1963.5 1191.9H1966.5V1204.8H1963.5ZM1965.5 1198.2H1968.5V1206.1H1965.5ZM1967.5 1197.6H1970.5V1207.6H1967.5ZM1969.5 1192.2H1972.5V1203.8H1969.5ZM1971.5 1194.9H1974.5V1205.4H1971.5ZM1973.5 1194.8H1976.5V1204.7H1973.5ZM1975.5 1198.0H1978.5V1207.6H1975.5ZM1977.5 1199.9H1980.5V1209.7H1977.5ZM1979.5 1199.0H1982.5V1207.5H1979.5Z"/>
<path fill="#0000ff" shape-rendering="crispEdges" d="M201.5 1063.4H204.5V1093.7H201.5ZM203.5 1056.7H206.5V1092.5H203.5ZM205.5 1057.2H208.5V1087.1H205.5ZM207.5 1058.7H210.5V1093.1H207.5ZM209.5 1054.4H212.5V1100.2H209.5ZM211.5 1065.2H214.5V1081.2H211.5ZM213.5 1046.2H216.5V1092.6H213.5ZM215.5 1052.8H218.5V1085.5H215.5ZM217.5 1059.4H220.5V1088.1H217.5ZM219.5 1064.8H222.5V1087.7H219.5ZM221.5 1066.9H224.5V1086.7H221.5ZM223.5 1067.8H226.5V1099.3H223.5ZM225.5 1060.7H228.5V1083.2H225.5ZM227.5 1062.0H230.5V1092.6H227.5ZM229.5 1072.0H232.5V1091.6H229.5ZM231.5 1072.0H234.5V1089.5H231.5ZM233.5 1056.6H236.5V1091.3H233.5ZM235.5 1064.0H238.5V1107.4H235.5ZM237.5 1058.5H240.5V1095.4H237.5ZM239.5 1056.8H242.5V1094.6H239.5ZM241.5 1065.9H244.5V1104.1H241.5ZM243.5 1061.4H246.5V1077.9H243.5ZM245.5 1064.5H248.5V1092.4H245.5ZM247.5 1076.3H250.5V1091.4H247.5ZM249.5 1075.7H252.5V1090.9H249.5ZM251.5 1066.7H254.5V1088.1H251.5ZM253.5 1062.7H256.5V1093.8H253.5ZM255.5 1074.7H258.5V1092.3H255.5ZM257.5 1060.1H260.5V1105.6H257.5ZM259.5 1075.7H262.5V1103.4H259.5ZM261.5 1076.9H264.5V1097.6H261.5ZM263.5 1075.6H266.5V1093.0H263.5ZM265.5 1051.0H268.5V1088.1H265.5ZM267.5 1060.3H270.5V1094.4H267.5ZM269.5 1067.1H272.5V1091.9H269.5ZM271.5 1064.9H274.5V1089.0H271.5ZM273.5 1070.2H276.5V1089.4H273.5ZM275.5 1076.5H278.5V1084.8H275.5ZM277.5 1071.6H280.5V1090.9H277.5ZM279.5 1048.2H282.5V1100.4H279.5ZM281.5 1069.5H284.5V1098.1H281.5ZM283.5 1074.0H286.5V1096.5H283.5ZM285.5 1066.0H288.5V1095.9H285.5ZM287.5 1052.3H290.5V1089.1H287.5ZM289.5 1048.9H292.5V1097.1H289.5ZM291.5 1059.1H294.5V1084.5H291.5ZM293.5 1069.2H296.5V1093.9H293.5ZM295.5 1069.7H298.5V1094.9H295.5ZM297.5 1056.8H300.5V1105.8H297.5ZM299.5 1057.1H302.5V1085.4H299.5ZM301.5 1067.5H304.5V1095.0H301.5ZM303.5 1070.7H306.5V1099.1H303.5ZM305.5 1081.7H308.5V1103.6H305.5ZM307.5 1066.7H310.5V1088.1H307.5ZM309.5 1076.4H312.5V1086.5H309.5ZM311.5 1065.0H314.5V1098.3H311.5ZM313.5 1062.8H316.5V1094.5H313.5ZM315.5 1060.3H318.5V1092.2H315.5ZM317.5 1077.0H320.5V1093.5H317.5ZM319.5 1077.0H322.5V1096.0H319.5ZM321.5 1069.1H324.5V1100.8H321.5ZM323.5 1074.7H326.5V1099.2H323.5ZM325.5 1074.4H328.5V1087.7H325.5ZM327.5 1069.6H330.5V1109.4H327.5ZM329.5 1067.4H332.5V1086.7H329.5ZM331.5 1069.0H334.5V1097.1H331.5ZM333.5 1069.5H336.5V1091.1H333.5ZM335.5 1072.1H338.5V1108.2H335.5ZM337.5 1067.4H340.5V1084.9H337.5ZM339.5 1079.8H342.5V1107.6H339.5ZM341.5 1056.4H344.5V1095.0H341.5ZM343.5 1057.2H346.5V1098.4H343.5ZM345.5 1075.1H348.5V1094.2H345.5ZM347.5 1064.2H350.5V1083.9H347.5ZM349.5 1063.2H352.5V1092.7H349.5ZM351.5 1066.3H354.5V1088.7H351.5ZM353.5 1068.0H356.5V1097.1H353.5ZM355.5 1072.1H358.5V1088.3H355.5ZM357.5 1069.4H360.5V1095.6H357.5ZM359.5 1069.5H362.5V1083.1H359.5ZM361.5 1065.6H364.5V1092.5H361.5ZM363.5 1079.6H366.5V1097.3H363.5ZM365.5 1078.2H368.5V1099.1H365.5ZM367.5 1067.3H370.5V1093.8H367.5ZM369.5 1060.9H372.5V1092.3H369.5ZM371.5 1066.0H374.5V1089.1H371.5ZM373.5 1065.2H376.5V1092.4H373.5ZM375.5 1052.2H378.5V1105.2H375.5ZM377.5 1047.5H380.5V1086.0H377.5ZM379.5 1056.4H382.5V1094.2H379.5ZM381.5 1056.4H384.5V1080.7H381.5ZM383.5 1064.1H386.5V1084.1H383.5ZM385.5 1053.4H388.5V1094.3H385.5ZM387.5 1062.5H390.5V1099.1H387.5ZM389.5 1062.9H392.5V1084.7H389.5ZM391.5 1054.0H394.5V1096.8H391.5ZM393.5 1067.7H396.5V1093.5H393.5ZM395.5 1069.1H398.5V1097.5H395.5ZM397.5 1063.6H400.5V1091.1H397.5ZM399.5 1074.2H402.5V1103.8H399.5ZM401.5 1065.7H404.5V1083.0H401.5ZM403.5 1070.3H406.5V1087.5H403.5ZM405.5 1062.8H408.5V1101.3H405.5ZM407.5 1063.9H410.5V1093.6H407.5ZM409.5 1068.4H412.5V1083.3H409.5ZM411.5 1066.3H414.5V1078.2H411.5ZM413.5 1054.6H416.5V1084.8H413.5ZM415.5 1063.9H418.5V1080.2H415.5ZM417.5 1064.6H420.5V1090.0H417.5ZM419.5 1065.1H422.5V1090.5H419.5ZM421.5 1070.2H424.5V1101.3H421.5ZM423.5 1070.1H426.5V1088.4H423.5ZM425.5 1078.0H428.5V1095.7H425.5ZM427.5 1064.5H430.5V1099.6H427.5ZM429.5 1057.4H432.5V1093.4H429.5ZM431.5 1066.1H434.5V1093.1H431.5ZM433.5 1070.1H436.5V1087.2H433.5ZM435.5 1061.3H438.5V1082.7H435.5ZM437.5 1066.7H440.5V1091.8H437.5ZM439.5 1074.5H442.5V1092.7H439.5ZM441.5 1076.9H444.5V1096.5H441.5ZM443.5 1068.9H446.5V1089.9H443.5ZM445.5 1075.4H448.5V1104.4H445.5ZM447.5 1072.7H450.5V1093.5H447.5ZM449.5 1072.8H452.5V1094.9H449.5ZM451.5 1069.6H454.5V1089.5H451.5ZM453.5 1067.5H456.5V1086.2H453.5ZM455.5 1065.4H458.5V1090.3H455.5ZM457.5 1064.7H460.5V1082.3H457.5ZM459.5 1051.1H462.5V1094.8H459.5ZM461.5 1071.3H464.5V1089.4H461.5ZM463.5 1071.7H466.5V1086.4H463.5ZM465.5 1055.6H468.5V1094.8H465.5ZM467.5 1057.2H470.5V1098.3H467.5ZM469.5 1062.7H472.5V1092.0H469.5ZM471.5 1071.8H474.5V1089.8H471.5ZM473.5 1080.6H476.5V1097.6H473.5ZM475.5 1061.8H478.5V1092.5H475.5ZM477.5 1057.2H480.5V1101.9H477.5ZM479.5 1075.1H482.5V1095.2H479.5ZM481.5 1067.5H484.5V1079.0H481.5ZM483.5 1068.8H486.5V1082.6H483.5ZM485.5 1073.3H488.5V1105.6H485.5ZM487.5 1063.3H490.5V1090.2H487.5ZM489.5 1069.4H492.5V1086.6H489.5ZM491.5 1071.3H494.5V1084.3H491.5ZM493.5 1052.2H496.5V1093.9H493.5ZM495.5 1064.1H498.5V1089.9H495.5ZM497.5 1065.0H500.5V1100.5H497.5ZM499.5 1052.0H502.5V1090.7H499.5ZM501.5 1051.2H504.5V1099.4H501.5ZM503.5 1065.3H506.5V1075.5H503.5ZM505.5 1058.6H508.5V1081.7H505.5ZM507.5 1060.2H510.5V1076.6H507.5ZM509.5 1060.6H512.5V1083.1H509.5ZM511.5 1055.2H514.5V1086.2H511.5ZM513.5 1065.2H516.5V1094.2H513.5ZM515.5 1059.4H518.5V1084.2H515.5ZM517.5 1047.8H520.5V1087.3H517.5ZM519.5 1057.5H522.5V1072.2H519.5ZM521.5 1047.4H524.5V1072.5H521.5ZM523.5 1054.1H526.5V1084.4H523.5ZM525.5 1058.9H528.5V1077.6H525.5ZM527.5 1058.7H530.5V1071.7H527.5ZM529.5 1051.5H532.5V1087.4H529.5ZM531.5 1052.0H534.5V1072.0H531.5ZM533.5 1031.2H536.5V1062.4H533.5ZM535.5 1054.3H538.5V1073.5H535.5ZM537.5 1045.5H540.5V1072.3H537.5ZM539.5 1040.3H542.5V1077.0H539.5ZM541.5 1043.4H544.5V1069.8H541.5ZM543.5 1035.2H546.5V1052.5H543.5ZM545.5 1048.1H548.5V1057.4H545.5ZM547.5 1036.7H550.5V1062.5H547.5ZM549.5 1031.5H552.5V1058.2H549.5ZM551.5 1034.0H554.5V1059.7H551.5ZM553.5 1026.6H556.5V1061.3H553.5ZM555.5 1012.6H558.5V1051.7H555.5ZM557.5 1022.6H560.5V1051.0H557.5ZM559.5 1034.6H562.5V1044.7H559.5ZM561.5 1029.0H564.5V1050.2H561.5ZM563.5 1012.0H566.5V1048.1H563.5ZM565.5 1015.1H568.5V1049.3H565.5ZM567.5 1030.0H570.5V1050.2H567.5ZM569.5 1021.8H572.5V1048.7H569.5ZM571.5 1020.8H574.5V1049.4H571.5ZM573.5 1017.6H576.5V1040.6H573.5ZM575.5 1014.9H578.5V1038.1H575.5ZM577.5 1017.1H580.5V1043.7H577.5ZM579.5 1018.9H582.5V1039.4H579.5ZM581.5 1018.1H584.5V1038.6H581.5ZM583.5 1000.1H586.5V1034.0H583.5ZM585.5 1019.6H588.5V1034.1H585.5ZM587.5 1005.7H590.5V1043.9H587.5ZM589.5 1005.3H592.5V1032.8H589.5ZM591.5 1016.5H594.5V1041.1H591.5ZM593.5 1016.5H596.5V1036.2H593.5ZM595.5 1008.5H598.5V1026.4H595.5ZM597.5 1007.4H600.5V1023.2H597.5ZM599.5 987.6H602.5V1033.3H599.5ZM601.5 1005.6H604.5V1039.5H601.5ZM603.5 1008.0H606.5V1025.3H603.5ZM605.5 1003.6H608.5V1028.9H605.5ZM607.5 995.4H610.5V1019.8H607.5ZM609.5 1004.8H612.5V1013.9H609.5ZM611.5 1002.6H614.5V1013.3H611.5ZM613.5 988.0H616.5V1019.9H613.5ZM615.5 989.6H618.5V1013.0H615.5ZM617.5 992.4H620.5V1017.5H617.5ZM619.5 995.6H622.5V1008.6H619.5ZM621.5 992.5H624.5V1011.9H621.5ZM623.5 970.9H626.5V1000.0H623.5ZM625.5 972.7H628.5V1004.7H625.5ZM627.5 993.1H630.5V1014.3H627.5ZM629.5 981.3H632.5V1016.6H629.5ZM631.5 980.9H634.5V1003.9H631.5ZM633.5 987.8H636.5V1009.5H633.5ZM635.5 981.2H638.5V1007.3H635.5ZM637.5 982.9H640.5V1000.7H637.5ZM639.5 977.5H642.5V999.6H639.5ZM641.5 976.1H644.5V1000.1H641.5ZM643.5 970.4H646.5V1005.4H643.5ZM645.5 976.4H648.5V998.5H645.5ZM647.5 968.7H650.5V1006.8H647.5ZM649.5 972.6H652.5V987.7H649.5ZM651.5 969.5H654.5V993.2H651.5ZM653.5 968.0H656.5V986.1H653.5ZM655.5 975.6H658.5V996.0H655.5ZM657.5 954.4H660.5V984.9H657.5ZM659.5 956.1H662.5V994.1H659.5ZM661.5 961.5H664.5V991.8H661.5ZM663.5 959.1H666.5V972.5H663.5ZM665.5 962.9H668.5V983.6H665.5ZM667.5 952.6H670.5V983.7H667.5ZM669.5 940.1H672.5V973.3H669.5ZM671.5 944.3H674.5V963.9H671.5ZM673.5 934.0H676.5V963.5H673.5ZM675.5 932.6H678.5V957.2H675.5ZM677.5 932.3H680.5V951.1H677.5ZM679.5 930.1H682.5V952.7H679.5ZM681.5 914.0H684.5V933.1H681.5ZM683.5 905.0H686.5V919.8H683.5ZM685.5 873.6H688.5V908.0H685.5ZM687.5 874.4H690.5V911.6H687.5ZM689.5 865.2H692.5V885.4H689.5ZM691.5 853.5H694.5V872.9H691.5ZM693.5 858.9H696.5V875.4H693.5ZM695.5 842.5H698.5V870.4H695.5ZM697.5 835.2H700.5V845.5H697.5ZM699.5 831.1H702.5V847.5H699.5ZM701.5 829.9H704.5V848.7H701.5ZM703.5 843.2H706.5V868.6H703.5ZM705.5 859.8H708.5V881.9H705.5ZM707.5 878.9H710.5V905.4H707.5ZM709.5 887.8H712.5V916.6H709.5ZM711.5 907.7H714.5V942.8H711.5ZM713.5 930.5H716.5V956.8H713.5ZM715.5 952.8H718.5V979.5H715.5ZM717.5 962.6H720.5V992.4H717.5ZM719.5 982.0H722.5V1020.6H719.5ZM721.5 996.2H724.5V1021.4H721.5ZM723.5 993.2H726.5V1028.5H723.5ZM725.5 1025.5H728.5V1043.7H725.5ZM727.5 1019.9H730.5V1046.2H727.5ZM729.5 1032.0H732.5V1049.7H729.5ZM731.5 1037.7H734.5V1057.4H731.5ZM733.5 1038.8H736.5V1058.9H733.5ZM735.5 1050.4H738.5V1057.2H735.5ZM737.5 1037.0H740.5V1065.6H737.5ZM739.5 1045.9H742.5V1082.0H739.5ZM741.5 1049.8H744.5V1069.0H741.5ZM743.5 1048.4H746.5V1066.7H743.5ZM745.5 1063.6H748.5V1073.6H745.5ZM747.5 1063.6H750.5V1079.0H747.5ZM749.5 1058.8H752.5V1077.2H749.5ZM751.5 1065.0H754.5V1085.0H751.5ZM753.5 1069.0H756.5V1086.1H753.5ZM755.5 1070.0H758.5V1087.1H755.5ZM757.5 1075.1H760.5V1093.9H757.5ZM759.5 1068.1H762.5V1089.9H759.5ZM761.5 1073.7H764.5V1089.2H761.5ZM763.5 1056.5H766.5V1089.8H763.5ZM765.5 1071.6H768.5V1087.2H765.5ZM767.5 1069.0H770.5V1086.1H767.5ZM769.5 1068.5H772.5V1090.9H769.5ZM771.5 1064.5H774.5V1090.0H771.5ZM773.5 1071.1H776.5V1098.7H773.5ZM775.5 1070.7H778.5V1086.7H775.5ZM777.5 1076.7H780.5V1089.8H777.5ZM779.5 1070.2H782.5V1083.9H779.5ZM781.5 1070.2H784.5V1089.2H781.5ZM783.5 1072.5H786.5V1086.5H783.5ZM785.5 1074.6H788.5V1087.6H785.5ZM787.5 1081.9H790.5V1091.3H787.5ZM789.5 1067.7H792.5V1091.1H789.5ZM791.5 1075.5H794.5V1090.2H791.5ZM793.5 1077.7H796.5V1098.4H793.5ZM795.5 1070.0H798.5V1084.0H795.5ZM797.5 1070.9H800.5V1098.7H797.5ZM799.5 1074.5H802.5V1093.0H799.5ZM801.5 1072.6H804.5V1092.2H801.5ZM803.5 1066.5H806.5V1096.7H803.5ZM805.5 1069.7H808.5V1093.4H805.5ZM807.5 1071.5H810.5V1097.3H807.5ZM809.5 1071.6H812.5V1090.1H809.5ZM811.5 1068.3H814.5V1092.1H811.5ZM813.5 1071.3H816.5V1085.0H813.5ZM815.5 1072.6H818.5V1084.7H815.5ZM817.5 1072.2H820.5V1085.8H817.5ZM819.5 1071.6H822.5V1088.8H819.5ZM821.5 1070.9H824.5V1088.6H821.5ZM823.5 1067.5H826.5V1092.7H823.5ZM825.5 1076.9H828.5V1090.1H825.5ZM827.5 1075.7H830.5V1085.3H827.5ZM829.5 1076.5H832.5V1086.0H829.5ZM831.5 1074.1H834.5V1082.4H831.5ZM833.5 1072.5H836.5V1086.1H833.5ZM835.5 1073.1H838.5V1086.2H835.5ZM837.5 1072.9H840.5V1085.4H837.5ZM839.5 1065.4H842.5V1083.8H839.5ZM841.5 1075.9H844.5V1085.6H841.5ZM843.5 1073.6H846.5V1090.9H843.5ZM845.5 1074.1H848.5V1090.5H845.5ZM847.5 1069.9H850.5V1081.9H847.5ZM849.5 1063.4H852.5V1083.1H849.5ZM851.5 1071.8H854.5V1083.2H851.5ZM853.5 1073.0H856.5V1088.3H853.5ZM855.5 1072.3H858.5V1091.9H855.5ZM857.5 1068.6H860.5V1083.3H857.5ZM859.5 1075.9H862.5V1093.3H859.5ZM861.5 1077.6H864.5V1089.5H861.5ZM863.5 1073.0H866.5V1089.0H863.5ZM865.5 1067.7H868.5V1088.8H865.5ZM867.5 1072.5H870.5V1092.0H867.5ZM869.5 1074.9H872.5V1092.0H869.5ZM871.5 1069.2H874.5V1089.5H871.5ZM873.5 1075.0H876.5V1085.3H873.5ZM875.5 1075.7H878.5V1091.0H875.5ZM877.5 1070.5H880.5V1091.2H877.5ZM879.5 1069.6H882.5V1091.1H879.5ZM881.5 1076.8H884.5V1092.3H881.5ZM883.5 1072.0H886.5V1088.3H883.5ZM885.5 1069.3H888.5V1091.1H885.5ZM887.5 1074.2H890.5V1087.5H887.5ZM889.5 1070.9H892.5V1086.3H889.5ZM891.5 1078.1H894.5V1086.1H891.5ZM893.5 1073.4H896.5V1083.2H893.5ZM895.5 1071.3H898.5V1089.1H895.5ZM897.5 1068.4H900.5V1085.9H897.5ZM899.5 1074.0H902.5V1087.1H899.5ZM901.5 1076.7H904.5V1092.7H901.5ZM903.5 1076.7H906.5V1093.3H903.5ZM905.5 1073.1H908.5V1087.9H905.5ZM907.5 1076.0H910.5V1090.7H907.5ZM909.5 1073.3H912.5V1094.9H909.5ZM911.5 1072.4H914.5V1086.7H911.5ZM913.5 1073.6H916.5V1088.2H913.5ZM915.5 1066.8H918.5V1094.7H915.5ZM917.5 1070.0H920.5V1082.9H917.5ZM919.5 1072.4H922.5V1091.3H919.5ZM921.5 1069.8H924.5V1091.8H921.5ZM923.5 1073.0H926.5V1087.1H923.5ZM925.5 1073.7H928.5V1082.5H925.5ZM927.5 1068.1H930.5V1083.5H927.5ZM929.5 1076.2H932.5V1082.3H929.5ZM931.5 1073.8H934.5V1087.9H931.5ZM933.5 1071.5H936.5V1088.6H933.5ZM935.5 1079.0H938.5V1085.6H935.5ZM937.5 1078.4H940.5V1089.9H937.5ZM939.5 1078.3H942.5V1087.9H939.5ZM941.5 1072.1H944.5V1087.3H941.5ZM943.5 1071.6H946.5V1082.3H943.5ZM945.5 1071.8H948.5V1089.2H945.5ZM947.5 1067.8H950.5V1091.4H947.5ZM949.5 1074.1H952.5V1094.1H949.5ZM951.5 1073.2H954.5V1093.2H951.5ZM953.5 1067.2H956.5V1096.8H953.5ZM955.5 1074.1H958.5V1089.5H955.5ZM957.5 1075.4H960.5V1089.2H957.5ZM959.5 1067.4H962.5V1084.6H959.5ZM961.5 1077.6H964.5V1087.3H961.5ZM963.5 1074.1H966.5V1088.1H963.5ZM965.5 1070.0H968.5V1082.1H965.5ZM967.5 1069.0H970.5V1082.8H967.5ZM969.5 1066.8H972.5V1091.3H969.5ZM971.5 1056.2H974.5V1076.7H971.5ZM973.5 1044.6H976.5V1059.2H973.5ZM975.5 1044.1H978.5V1051.9H975.5ZM977.5 1048.1H980.5V1077.5H977.5ZM979.5 1065.5H982.5V1086.9H979.5ZM981.5 1067.7H984.5V1083.1H981.5ZM983.5 1069.6H986.5V1076.3H983.5ZM985.5 1064.9H988.5V1081.2H985.5ZM987.5 1066.1H990.5V1074.2H987.5ZM989.5 1063.5H992.5V1084.8H989.5ZM991.5 1068.4H994.5V1088.3H991.5ZM993.5 1063.4H996.5V1076.4H993.5ZM995.5 1063.9H998.5V1077.5H995.5ZM997.5 1071.9H1000.5V1081.5H997.5ZM999.5 1068.7H1002.5V1081.1H999.5ZM1001.5 1073.3H1004.5V1083.9H1001.5ZM1003.5 1066.7H1006.5V1083.8H1003.5ZM1005.5 1069.1H1008.5V1084.7H1005.5ZM1007.5 1068.7H1010.5V1082.9H1007.5ZM1009.5 1064.9H1012.5V1088.0H1009.5ZM1011.5 1069.2H1014.5V1085.5H1011.5ZM1013.5 1063.3H1016.5V1084.1H1013.5ZM1015.5 1065.7H1018.5V1080.6H1015.5ZM1017.5 1069.8H1020.5V1076.3H1017.5ZM1019.5 1056.2H1022.5V1079.0H1019.5ZM1021.5 1059.0H1024.5V1081.4H1021.5ZM1023.5 1063.2H1026.5V1077.1H1023.5ZM1025.5 1064.3H1028.5V1080.6H1025.5ZM1027.5 1062.0H1030.5V1078.7H1027.5ZM1029.5 1067.3H1032.5V1078.9H1029.5ZM1031.5 1063.5H1034.5V1082.2H1031.5ZM1033.5 1061.8H1036.5V1077.1H1033.5ZM1035.5 1066.5H1038.5V1077.0H1035.5ZM1037.5 1065.4H1040.5V1076.8H1037.5ZM1039.5 1065.4H1042.5V1077.4H1039.5ZM1041.5 1065.7H1044.5V1075.9H1041.5ZM1043.5 1062.0H1046.5V1082.3H1043.5ZM1045.5 1062.4H1048.5V1074.4H1045.5ZM1047.5 1062.9H1050.5V1075.7H1047.5ZM1049.5 1060.0H1052.5V1078.7H1049.5ZM1051.5 1063.0H1054.5V1076.2H1051.5ZM1053.5 1064.2H1056.5V1077.5H1053.5ZM1055.5 1059.5H1058.5V1078.1H1055.5ZM1057.5 1057.5H1060.5V1072.8H1057.5ZM1059.5 1063.5H1062.5V1071.4H1059.5ZM1061.5 1065.1H1064.5V1073.2H1061.5ZM1063.5 1064.1H1066.5V1075.1H1063.5ZM1065.5 1054.4H1068.5V1076.7H1065.5ZM1067.5 1059.8H1070.5V1081.2H1067.5ZM1069.5 1058.7H1072.5V1067.7H1069.5ZM1071.5 1052.9H1074.5V1061.7H1071.5ZM1073.5 1040.9H1076.5V1058.1H1073.5ZM1075.5 1041.6H1078.5V1056.4H1075.5ZM1077.5 1044.8H1080.5V1058.3H1077.5ZM1079.5 1043.7H1082.5V1057.9H1079.5ZM1081.5 1036.6H1084.5V1056.4H1081.5ZM1083.5 1040.2H1086.5V1051.7H1083.5ZM1085.5 1031.7H1088.5V1047.7H1085.5ZM1087.5 1031.6H1090.5V1042.6H1087.5ZM1089.5 1019.2H1092.5V1042.6H1089.5ZM1091.5 1017.9H1094.5V1034.6H1091.5ZM1093.5 1013.0H1096.5V1030.6H1093.5ZM1095.5 1002.6H1098.5V1016.0H1095.5ZM1097.5 995.6H1100.5V1012.8H1097.5ZM1099.5 991.6H1102.5V1007.9H1099.5ZM1101.5 999.6H1104.5V1020.5H1101.5ZM1103.5 1001.4H1106.5V1026.2H1103.5ZM1105.5 1015.0H1108.5V1035.6H1105.5ZM1107.5 1016.0H1110.5V1036.2H1107.5ZM1109.5 1016.5H1112.5V1034.3H1109.5ZM1111.5 1021.5H1114.5V1036.0H1111.5ZM1113.5 1021.5H1116.5V1031.0H1113.5ZM1115.5 1006.5H1118.5V1024.6H1115.5ZM1117.5 1002.1H1120.5V1014.8H1117.5ZM1119.5 1004.5H1122.5V1015.8H1119.5ZM1121.5 1007.9H1124.5V1015.5H1121.5ZM1123.5 1010.1H1126.5V1024.7H1123.5ZM1125.5 1013.6H1128.5V1040.2H1125.5ZM1127.5 1025.7H1130.5V1044.3H1127.5ZM1129.5 1028.5H1132.5V1046.0H1129.5ZM1131.5 993.7H1134.5V1033.5H1131.5ZM1133.5 963.0H1136.5V996.7H1133.5ZM1135.5 899.9H1138.5V966.0H1135.5ZM1137.5 854.3H1140.5V902.9H1137.5ZM1139.5 835.2H1142.5V857.3H1139.5ZM1141.5 842.3H1144.5V885.1H1141.5ZM1143.5 882.1H1146.5V946.4H1143.5ZM1145.5 943.4H1148.5V978.3H1145.5ZM1147.5 975.3H1150.5V1009.1H1147.5ZM1149.5 1006.1H1152.5V1021.9H1149.5ZM1151.5 1018.9H1154.5V1046.5H1151.5ZM1153.5 1032.6H1156.5V1051.0H1153.5ZM1155.5 1039.2H1158.5V1051.9H1155.5ZM1157.5 1042.9H1160.5V1065.6H1157.5ZM1159.5 1049.7H1162.5V1067.7H1159.5ZM1161.5 1040.5H1164.5V1065.4H1161.5ZM1163.5 1046.5H1166.5V1063.8H1163.5ZM1165.5 1039.7H1168.5V1062.5H1165.5ZM1167.5 1030.2H1170.5V1053.1H1167.5ZM1169.5 1028.7H1172.5V1046.3H1169.5ZM1171.5 1033.5H1174.5V1049.3H1171.5ZM1173.5 1037.6H1176.5V1056.9H1173.5ZM1175.5 1048.1H1178.5V1060.2H1175.5ZM1177.5 1045.4H1180.5V1075.3H1177.5ZM1179.5 1064.4H1182.5V1074.2H1179.5ZM1181.5 1061.2H1184.5V1074.0H1181.5ZM1183.5 1064.9H1186.5V1077.7H1183.5ZM1185.5 1070.9H1188.5V1084.2H1185.5ZM1187.5 1061.6H1190.5V1081.7H1187.5ZM1189.5 1070.0H1192.5V1078.9H1189.5ZM1191.5 1074.5H1194.5V1085.4H1191.5ZM1193.5 1072.2H1196.5V1081.9H1193.5ZM1195.5 1074.5H1198.5V1090.1H1195.5ZM1197.5 1074.1H1200.5V1090.1H1197.5ZM1199.5 1076.7H1202.5V1090.9H1199.5ZM1201.5 1068.5H1204.5V1087.0H1201.5ZM1203.5 1074.2H1206.5V1089.2H1203.5ZM1205.5 1074.8H1208.5V1086.5H1205.5ZM1207.5 1072.4H1210.5V1083.7H1207.5ZM1209.5 1067.7H1212.5V1085.2H1209.5ZM1211.5 1072.6H1214.5V1084.4H1211.5ZM1213.5 1075.4H1216.5V1087.4H1213.5ZM1215.5 1073.8H1218.5V1088.3H1215.5ZM1217.5 1074.7H1220.5V1087.8H1217.5ZM1219.5 1073.0H1222.5V1083.8H1219.5ZM1221.5 1071.3H1224.5V1084.7H1221.5ZM1223.5 1078.7H1226.5V1086.9H1223.5ZM1225.5 1072.4H1228.5V1089.5H1225.5ZM1227.5 1065.4H1230.5V1088.4H1227.5ZM1229.5 1047.4H1232.5V1068.4H1229.5ZM1231.5 1045.9H1234.5V1067.5H1231.5ZM1233.5 1060.7H1236.5V1073.7H1233.5ZM1235.5 1060.9H1238.5V1085.2H1235.5ZM1237.5 1067.3H1240.5V1080.4H1237.5ZM1239.5 1065.4H1242.5V1076.3H1239.5ZM1241.5 1063.7H1244.5V1075.1H1241.5ZM1243.5 1053.2H1246.5V1074.7H1243.5ZM1245.5 1062.6H1248.5V1074.0H1245.5ZM1247.5 1057.0H1250.5V1077.4H1247.5ZM1249.5 1058.3H1252.5V1078.7H1249.5ZM1251.5 1059.3H1254.5V1078.4H1251.5ZM1253.5 1059.6H1256.5V1080.9H1253.5ZM1255.5 1066.2H1258.5V1077.7H1255.5ZM1257.5 1066.1H1260.5V1082.3H1257.5ZM1259.5 1064.5H1262.5V1075.3H1259.5ZM1261.5 1062.8H1264.5V1086.0H1261.5ZM1263.5 1070.2H1266.5V1078.0H1263.5ZM1265.5 1070.2H1268.5V1080.2H1265.5ZM1267.5 1062.0H1270.5V1084.1H1267.5ZM1269.5 1075.5H1272.5V1084.2H1269.5ZM1271.5 1073.6H1274.5V1081.5H1271.5ZM1273.5 1078.3H1276.5V1087.8H1273.5ZM1275.5 1077.8H1278.5V1087.4H1275.5ZM1277.5 1074.1H1280.5V1086.3H1277.5ZM1279.5 1064.0H1282.5V1092.1H1279.5ZM1281.5 1073.2H1284.5V1087.4H1281.5ZM1283.5 1074.9H1286.5V1085.5H1283.5ZM1285.5 1076.3H1288.5V1085.7H1285.5ZM1287.5 1070.1H1290.5V1084.9H1287.5ZM1289.5 1077.2H1292.5V1087.4H1289.5ZM1291.5 1068.4H1294.5V1085.8H1291.5ZM1293.5 1067.9H1296.5V1088.9H1293.5ZM1295.5 1073.0H1298.5V1092.5H1295.5ZM1297.5 1078.0H1300.5V1088.5H1297.5ZM1299.5 1073.8H1302.5V1081.8H1299.5ZM1301.5 1063.3H1304.5V1086.9H1301.5ZM1303.5 1073.8H1306.5V1086.7H1303.5ZM1305.5 1073.4H1308.5V1088.4H1305.5ZM1307.5 1077.0H1310.5V1085.6H1307.5ZM1309.5 1067.7H1312.5V1082.8H1309.5ZM1311.5 1073.3H1314.5V1091.9H1311.5ZM1313.5 1073.8H1316.5V1091.3H1313.5ZM1315.5 1070.5H1318.5V1088.9H1315.5ZM1317.5 1076.5H1320.5V1095.5H1317.5ZM1319.5 1073.5H1322.5V1086.9H1319.5ZM1321.5 1072.4H1324.5V1084.8H1321.5ZM1323.5 1073.9H1326.5V1082.4H1323.5ZM1325.5 1074.5H1328.5V1081.4H1325.5ZM1327.5 1071.4H1330.5V1080.4H1327.5ZM1329.5 1067.9H1332.5V1082.0H1329.5ZM1331.5 1068.7H1334.5V1089.8H1331.5ZM1333.5 1069.6H1336.5V1088.0H1333.5ZM1335.5 1076.3H1338.5V1090.8H1335.5ZM1337.5 1069.9H1340.5V1087.3H1337.5ZM1339.5 1068.2H1342.5V1082.0H1339.5ZM1341.5 1068.4H1344.5V1087.5H1341.5ZM1343.5 1073.5H1346.5V1082.5H1343.5ZM1345.5 1066.2H1348.5V1085.2H1345.5ZM1347.5 1067.6H1350.5V1080.1H1347.5ZM1349.5 1064.3H1352.5V1084.2H1349.5ZM1351.5 1069.6H1354.5V1082.8H1351.5ZM1353.5 1073.8H1356.5V1085.5H1353.5ZM1355.5 1073.5H1358.5V1082.7H1355.5ZM1357.5 1070.1H1360.5V1079.5H1357.5ZM1359.5 1066.2H1362.5V1081.4H1359.5ZM1361.5 1069.6H1364.5V1081.9H1361.5ZM1363.5 1070.1H1366.5V1079.7H1363.5ZM1365.5 1060.3H1368.5V1079.5H1365.5ZM1367.5 1066.2H1370.5V1083.6H1367.5ZM1369.5 1069.7H1372.5V1085.1H1369.5ZM1371.5 1074.1H1374.5V1079.6H1371.5ZM1373.5 1069.6H1376.5V1081.2H1373.5ZM1375.5 1069.5H1378.5V1080.4H1375.5ZM1377.5 1071.6H1380.5V1079.1H1377.5ZM1379.5 1072.4H1382.5V1083.2H1379.5ZM1381.5 1072.8H1384.5V1080.0H1381.5ZM1383.5 1075.6H1386.5V1083.1H1383.5ZM1385.5 1070.3H1388.5V1088.9H1385.5ZM1387.5 1066.2H1390.5V1077.6H1387.5ZM1389.5 1062.3H1392.5V1083.6H1389.5ZM1391.5 1062.5H1394.5V1085.0H1391.5ZM1393.5 1072.0H1396.5V1085.1H1393.5ZM1395.5 1068.7H1398.5V1083.4H1395.5ZM1397.5 1065.1H1400.5V1081.4H1397.5ZM1399.5 1074.2H1402.5V1081.7H1399.5ZM1401.5 1071.6H1404.5V1083.0H1401.5ZM1403.5 1069.2H1406.5V1082.8H1403.5ZM1405.5 1068.8H1408.5V1083.2H1405.5ZM1407.5 1064.4H1410.5V1074.1H1407.5ZM1409.5 1063.0H1412.5V1084.2H1409.5ZM1411.5 1069.2H1414.5V1083.4H1411.5ZM1413.5 1071.3H1416.5V1080.2H1413.5ZM1415.5 1068.5H1418.5V1082.1H1415.5ZM1417.5 1069.5H1420.5V1081.5H1417.5ZM1419.5 1068.2H1422.5V1081.5H1419.5ZM1421.5 1070.1H1424.5V1085.7H1421.5ZM1423.5 1069.1H1426.5V1078.5H1423.5ZM1425.5 1072.3H1428.5V1080.8H1425.5ZM1427.5 1069.8H1430.5V1082.5H1427.5ZM1429.5 1071.9H1432.5V1081.8H1429.5ZM1431.5 1067.8H1434.5V1081.4H1431.5ZM1433.5 1067.0H1436.5V1087.7H1433.5ZM1435.5 1078.9H1438.5V1089.2H1435.5ZM1437.5 1072.3H1440.5V1081.9H1437.5ZM1439.5 1069.1H1442.5V1079.4H1439.5ZM1441.5 1070.6H1444.5V1091.7H1441.5ZM1443.5 1070.3H1446.5V1086.2H1443.5ZM1445.5 1071.2H1448.5V1086.7H1445.5ZM1447.5 1068.7H1450.5V1080.0H1447.5ZM1449.5 1069.7H1452.5V1080.3H1449.5ZM1451.5 1073.3H1454.5V1081.5H1451.5ZM1453.5 1071.1H1456.5V1080.7H1453.5ZM1455.5 1073.3H1458.5V1082.5H1455.5ZM1457.5 1067.9H1460.5V1083.5H1457.5ZM1459.5 1065.2H1462.5V1083.0H1459.5ZM1461.5 1072.1H1464.5V1082.9H1461.5ZM1463.5 1072.2H1466.5V1082.0H1463.5ZM1465.5 1072.7H1468.5V1083.2H1465.5ZM1467.5 1064.4H1470.5V1089.5H1467.5ZM1469.5 1064.4H1472.5V1092.2H1469.5ZM1471.5 1070.6H1474.5V1083.6H1471.5ZM1473.5 1067.4H1476.5V1084.0H1473.5ZM1475.5 1068.5H1478.5V1079.9H1475.5ZM1477.5 1067.0H1480.5V1084.5H1477.5ZM1479.5 1070.6H1482.5V1083.9H1479.5ZM1481.5 1067.3H1484.5V1086.6H1481.5ZM1483.5 1071.2H1486.5V1081.8H1483.5ZM1485.5 1075.7H1488.5V1087.1H1485.5ZM1487.5 1067.5H1490.5V1087.2H1487.5ZM1489.5 1070.2H1492.5V1083.1H1489.5ZM1491.5 1072.3H1494.5V1088.2H1491.5ZM1493.5 1068.6H1496.5V1083.4H1493.5ZM1495.5 1071.1H1498.5V1084.5H1495.5ZM1497.5 1073.3H1500.5V1085.3H1497.5ZM1499.5 1073.5H1502.5V1084.5H1499.5ZM1501.5 1076.0H1504.5V1087.5H1501.5ZM1503.5 1073.2H1506.5V1090.8H1503.5ZM1505.5 1080.7H1508.5V1090.9H1505.5ZM1507.5 1072.6H1510.5V1084.1H1507.5ZM1509.5 1075.0H1512.5V1088.0H1509.5ZM1511.5 1074.7H1514.5V1088.9H1511.5ZM1513.5 1075.2H1516.5V1089.5H1513.5ZM1515.5 1075.5H1518.5V1088.2H1515.5ZM1517.5 1078.4H1520.5V1086.7H1517.5ZM1519.5 1079.9H1522.5V1085.2H1519.5ZM1521.5 1072.7H1524.5V1082.9H1521.5ZM1523.5 1078.1H1526.5V1089.9H1523.5ZM1525.5 1075.4H1528.5V1084.5H1525.5ZM1527.5 1079.5H1530.5V1086.1H1527.5ZM1529.5 1068.8H1532.5V1085.3H1529.5ZM1531.5 1072.1H1534.5V1080.6H1531.5ZM1533.5 1071.4H1536.5V1085.0H1533.5ZM1535.5 1074.1H1538.5V1085.7H1535.5ZM1537.5 1072.5H1540.5V1090.9H1537.5ZM1539.5 1074.9H1542.5V1095.7H1539.5ZM1541.5 1076.3H1544.5V1085.9H1541.5ZM1543.5 1077.5H1546.5V1088.4H1543.5ZM1545.5 1074.6H1548.5V1086.9H1545.5ZM1547.5 1078.6H1550.5V1091.0H1547.5ZM1549.5 1076.0H1552.5V1091.5H1549.5ZM1551.5 1075.4H1554.5V1088.6H1551.5ZM1553.5 1072.4H1556.5V1091.9H1553.5ZM1555.5 1073.9H1558.5V1086.3H1555.5ZM1557.5 1073.3H1560.5V1082.4H1557.5ZM1559.5 1076.6H1562.5V1090.1H1559.5ZM1561.5 1078.9H1564.5V1088.1H1561.5ZM1563.5 1080.6H1566.5V1086.1H1563.5ZM1565.5 1073.0H1568.5V1087.1H1565.5ZM1567.5 1076.1H1570.5V1086.1H1567.5ZM1569.5 1074.1H1572.5V1087.5H1569.5ZM1571.5 1072.0H1574.5V1087.7H1571.5ZM1573.5 1077.5H1576.5V1089.2H1573.5ZM1575.5 1072.3H1578.5V1083.9H1575.5ZM1577.5 1073.9H1580.5V1083.6H1577.5ZM1579.5 1074.7H1582.5V1084.3H1579.5ZM1581.5 1070.4H1584.5V1088.8H1581.5ZM1583.5 1069.8H1586.5V1083.5H1583.5ZM1585.5 1076.0H1588.5V1088.5H1585.5ZM1587.5 1076.5H1590.5V1087.1H1587.5ZM1589.5 1075.3H1592.5V1089.3H1589.5ZM1591.5 1070.5H1594.5V1090.6H1591.5ZM1593.5 1071.1H1596.5V1086.4H1593.5ZM1595.5 1072.2H1598.5V1081.4H1595.5ZM1597.5 1073.2H1600.5V1081.2H1597.5ZM1599.5 1074.2H1602.5V1085.0H1599.5ZM1601.5 1076.1H1604.5V1085.4H1601.5ZM1603.5 1073.9H1606.5V1085.8H1603.5ZM1605.5 1073.5H1608.5V1084.6H1605.5ZM1607.5 1071.4H1610.5V1084.6H1607.5ZM1609.5 1077.2H1612.5V1084.6H1609.5ZM1611.5 1073.1H1614.5V1084.2H1611.5ZM1613.5 1069.9H1616.5V1083.5H1613.5ZM1615.5 1067.9H1618.5V1076.4H1615.5ZM1617.5 1056.9H1620.5V1073.0H1617.5ZM1619.5 1054.2H1622.5V1066.1H1619.5ZM1621.5 1051.4H1624.5V1068.8H1621.5ZM1623.5 1055.4H1626.5V1068.9H1623.5ZM1625.5 1060.5H1628.5V1073.2H1625.5ZM1627.5 1066.1H1630.5V1078.1H1627.5ZM1629.5 1071.1H1632.5V1083.7H1629.5ZM1631.5 1074.6H1634.5V1083.9H1631.5ZM1633.5 1074.3H1636.5V1084.6H1633.5ZM1635.5 1071.0H1638.5V1085.4H1635.5ZM1637.5 1072.1H1640.5V1087.0H1637.5ZM1639.5 1077.4H1642.5V1086.1H1639.5ZM1641.5 1072.6H1644.5V1087.0H1641.5ZM1643.5 1075.4H1646.5V1084.1H1643.5ZM1645.5 1078.2H1648.5V1089.4H1645.5ZM1647.5 1075.2H1650.5V1086.3H1647.5ZM1649.5 1080.9H1652.5V1091.8H1649.5ZM1651.5 1075.9H1654.5V1085.9H1651.5ZM1653.5 1075.4H1656.5V1089.4H1653.5ZM1655.5 1076.5H1658.5V1087.4H1655.5ZM1657.5 1076.5H1660.5V1087.5H1657.5ZM1659.5 1075.2H1662.5V1086.6H1659.5ZM1661.5 1071.0H1664.5V1087.0H1661.5ZM1663.5 1076.6H1666.5V1087.5H1663.5ZM1665.5 1075.6H1668.5V1082.1H1665.5ZM1667.5 1074.2H1670.5V1081.9H1667.5ZM1669.5 1076.0H1672.5V1082.0H1669.5ZM1671.5 1073.6H1674.5V1088.2H1671.5ZM1673.5 1076.6H1676.5V1087.7H1673.5ZM1675.5 1075.1H1678.5V1089.1H1675.5ZM1677.5 1078.1H1680.5V1086.1H1677.5ZM1679.5 1074.1H1682.5V1089.5H1679.5ZM1681.5 1080.4H1684.5V1086.8H1681.5ZM1683.5 1075.2H1686.5V1084.6H1683.5ZM1685.5 1073.0H1688.5V1089.8H1685.5ZM1687.5 1076.5H1690.5V1085.7H1687.5ZM1689.5 1076.4H1692.5V1087.2H1689.5ZM1691.5 1076.7H1694.5V1091.0H1691.5ZM1693.5 1071.3H1696.5V1085.1H1693.5ZM1695.5 1076.7H1698.5V1084.0H1695.5ZM1697.5 1072.6H1700.5V1085.3H1697.5ZM1699.5 1074.6H1702.5V1087.7H1699.5ZM1701.5 1071.2H1704.5V1083.9H1701.5ZM1703.5 1068.4H1706.5V1082.5H1703.5ZM1705.5 1077.5H1708.5V1089.9H1705.5ZM1707.5 1075.6H1710.5V1085.3H1707.5ZM1709.5 1075.1H1712.5V1090.3H1709.5ZM1711.5 1068.8H1714.5V1085.4H1711.5ZM1713.5 1077.6H1716.5V1090.5H1713.5ZM1715.5 1071.4H1718.5V1087.8H1715.5ZM1717.5 1073.1H1720.5V1089.0H1717.5ZM1719.5 1074.7H1722.5V1090.1H1719.5ZM1721.5 1074.1H1724.5V1085.4H1721.5ZM1723.5 1075.4H1726.5V1084.5H1723.5ZM1725.5 1074.2H1728.5V1092.5H1725.5ZM1727.5 1075.0H1730.5V1086.9H1727.5ZM1729.5 1072.6H1732.5V1091.5H1729.5ZM1731.5 1078.1H1734.5V1088.7H1731.5ZM1733.5 1073.4H1736.5V1086.2H1733.5ZM1735.5 1074.5H1738.5V1083.6H1735.5ZM1737.5 1075.7H1740.5V1088.6H1737.5ZM1739.5 1076.9H1742.5V1085.5H1739.5ZM1741.5 1076.9H1744.5V1090.5H1741.5ZM1743.5 1073.7H1746.5V1089.5H1743.5ZM1745.5 1074.1H1748.5V1087.0H1745.5ZM1747.5 1075.6H1750.5V1085.7H1747.5ZM1749.5 1078.5H1752.5V1088.0H1749.5ZM1751.5 1078.4H1754.5V1083.9H1751.5ZM1753.5 1073.3H1756.5V1087.1H1753.5ZM1755.5 1074.5H1758.5V1087.1H1755.5ZM1757.5 1075.2H1760.5V1085.2H1757.5ZM1759.5 1076.6H1762.5V1091.0H1759.5ZM1761.5 1074.9H1764.5V1086.5H1761.5ZM1763.5 1074.3H1766.5V1087.1H1763.5ZM1765.5 1077.2H1768.5V1086.3H1765.5ZM1767.5 1075.1H1770.5V1084.0H1767.5ZM1769.5 1076.3H1772.5V1085.2H1769.5ZM1771.5 1076.8H1774.5V1086.4H1771.5ZM1773.5 1073.8H1776.5V1090.8H1773.5ZM1775.5 1077.9H1778.5V1083.9H1775.5ZM1777.5 1072.8H1780.5V1084.0H1777.5ZM1779.5 1073.5H1782.5V1084.5H1779.5ZM1781.5 1074.9H1784.5V1092.3H1781.5ZM1783.5 1077.5H1786.5V1083.5H1783.5ZM1785.5 1079.7H1788.5V1086.8H1785.5ZM1787.5 1076.5H1790.5V1087.5H1787.5ZM1789.5 1076.7H1792.5V1085.4H1789.5ZM1791.5 1077.1H1794.5V1086.5H1791.5ZM1793.5 1077.4H1796.5V1086.9H1793.5ZM1795.5 1070.6H1798.5V1089.2H1795.5ZM1797.5 1073.9H1800.5V1089.4H1797.5ZM1799.5 1075.6H1802.5V1088.3H1799.5ZM1801.5 1074.9H1804.5V1086.5H1801.5ZM1803.5 1075.1H1806.5V1087.4H1803.5ZM1805.5 1072.1H1808.5V1086.9H1805.5ZM1807.5 1077.7H1810.5V1091.5H1807.5ZM1809.5 1078.7H1812.5V1086.6H1809.5ZM1811.5 1075.8H1814.5V1090.1H1811.5ZM1813.5 1075.1H1816.5V1084.8H1813.5ZM1815.5 1072.3H1818.5V1084.6H1815.5ZM1817.5 1074.3H1820.5V1087.2H1817.5ZM1819.5 1082.1H1822.5V1088.2H1819.5ZM1821.5 1073.3H1824.5V1085.6H1821.5ZM1823.5 1073.3H1826.5V1084.6H1823.5ZM1825.5 1071.6H1828.5V1082.4H1825.5ZM1827.5 1074.3H1830.5V1083.1H1827.5ZM1829.5 1076.3H1832.5V1088.6H1829.5ZM1831.5 1079.0H1834.5V1088.2H1831.5ZM1833.5 1074.9H1836.5V1086.8H1833.5ZM1835.5 1078.3H1838.5V1084.4H1835.5ZM1837.5 1077.2H1840.5V1087.3H1837.5ZM1839.5 1075.9H1842.5V1091.1H1839.5ZM1841.5 1076.2H1844.5V1090.2H1841.5ZM1843.5 1075.0H1846.5V1083.1H1843.5ZM1845.5 1068.0H1848.5V1086.7H1845.5ZM1847.5 1078.4H1850.5V1088.6H1847.5ZM1849.5 1072.0H1852.5V1088.2H1849.5ZM1851.5 1074.2H1854.5V1088.2H1851.5ZM1853.5 1074.1H1856.5V1087.7H1853.5ZM1855.5 1074.1H1858.5V1085.3H1855.5ZM1857.5 1073.5H1860.5V1084.6H1857.5ZM1859.5 1071.5H1862.5V1087.6H1859.5ZM1861.5 1075.1H1864.5V1083.3H1861.5ZM1863.5 1070.7H1866.5V1082.9H1863.5ZM1865.5 1071.0H1868.5V1081.6H1865.5ZM1867.5 1072.8H1870.5V1085.8H1867.5ZM1869.5 1075.6H1872.5V1083.1H1869.5ZM1871.5 1076.9H1874.5V1084.8H1871.5ZM1873.5 1076.9H1876.5V1087.3H1873.5ZM1875.5 1076.4H1878.5V1085.7H1875.5ZM1877.5 1075.1H1880.5V1083.9H1877.5ZM1879.5 1069.8H1882.5V1085.8H1879.5ZM1881.5 1073.0H1884.5V1083.1H1881.5ZM1883.5 1074.3H1886.5V1082.6H1883.5ZM1885.5 1068.0H1888.5V1083.3H1885.5ZM1887.5 1073.0H1890.5V1085.7H1887.5ZM1889.5 1073.4H1892.5V1086.3H1889.5ZM1891.5 1076.7H1894.5V1084.2H1891.5ZM1893.5 1071.5H1896.5V1091.9H1893.5ZM1895.5 1073.2H1898.5V1090.3H1895.5ZM1897.5 1074.1H1900.5V1089.6H1897.5ZM1899.5 1068.7H1902.5V1087.4H1899.5ZM1901.5 1071.1H1904.5V1080.5H1901.5ZM1903.5 1071.9H1906.5V1080.1H1903.5ZM1905.5 1067.7H1908.5V1082.9H1905.5ZM1907.5 1065.6H1910.5V1083.0H1907.5ZM1909.5 1070.5H1912.5V1085.0H1909.5ZM1911.5 1071.5H1914.5V1080.3H1911.5ZM1913.5 1069.9H1916.5V1078.8H1913.5ZM1915.5 1062.1H1918.5V1078.7H1915.5ZM1917.5 1075.7H1920.5V1082.9H1917.5ZM1919.5 1071.0H1922.5V1084.8H1919.5ZM1921.5 1067.1H1924.5V1081.1H1921.5ZM1923.5 1070.4H1926.5V1081.4H1923.5ZM1925.5 1063.5H1928.5V1081.6H1925.5ZM1927.5 1063.2H1930.5V1078.6H1927.5ZM1929.5 1070.6H1932.5V1076.8H1929.5ZM1931.5 1068.6H1934.5V1078.8H1931.5ZM1933.5 1067.6H1936.5V1077.3H1933.5ZM1935.5 1068.1H1938.5V1082.1H1935.5ZM1937.5 1065.2H1940.5V1079.4H1937.5ZM1939.5 1060.7H1942.5V1078.9H1939.5ZM1941.5 1063.6H1944.5V1079.4H1941.5ZM1943.5 1064.2H1946.5V1075.8H1943.5ZM1945.5 1069.1H1948.5V1079.1H1945.5ZM1947.5 1066.2H1950.5V1077.3H1947.5ZM1949.5 1068.1H1952.5V1084.5H1949.5ZM1951.5 1070.0H1954.5V1080.6H1951.5ZM1953.5 1066.1H1956.5V1078.8H1953.5ZM1955.5 1072.2H1958.5V1081.8H1955.5ZM1957.5 1071.8H1960.5V1082.2H1957.5ZM1959.5 1071.6H1962.5V1083.9H1959.5ZM1961.5 1071.0H1964.5V1083.7H1961.5ZM1963.5 1071.3H1966.5V1083.9H1963.5ZM1965.5 1067.9H1968.5V1080.5H1965.5ZM1967.5 1073.4H1970.5V1087.8H1967.5ZM1969.5 1076.7H1972.5V1089.1H1969.5ZM1971.5 1077.3H1974.5V1088.0H1971.5ZM1973.5 1079.0H1976.5V1091.1H1973.5ZM1975.5 1080.9H1978.5V1090.9H1975.5ZM1977.5 1084.0H1980.5V1094.9H1977.5ZM1979.5 1079.8H1982.5V1089.8H1979.5Z"/>
<path fill="#ff0000" shape-rendering="crispEdges" d="M201.5 883.3H204.5V932.5H201.5ZM203.5 893.7H206.5V917.2H203.5ZM205.5 898.7H208.5V942.6H205.5ZM207.5 902.2H210.5V912.7H207.5ZM209.5 905.4H212.5V922.8H209.5ZM211.5 906.9H214.5V928.0H211.5ZM213.5 907.7H216.5V931.4H213.5ZM215.5 903.6H218.5V923.2H215.5ZM217.5 888.6H220.5V922.1H217.5ZM219.5 886.5H222.5V923.3H219.5ZM221.5 897.1H224.5V920.4H221.5ZM223.5 910.8H226.5V926.6H223.5ZM225.5 903.1H228.5V924.0H225.5ZM227.5 889.4H230.5V919.3H227.5ZM229.5 891.2H232.5V920.3H229.5ZM231.5 893.4H234.5V920.8H231.5ZM233.5 892.3H236.5V924.3H233.5ZM235.5 900.7H238.5V928.1H235.5ZM237.5 902.0H240.5V926.4H237.5ZM239.5 896.1H242.5V928.8H239.5ZM241.5 904.1H244.5V924.0H241.5ZM243.5 898.3H246.5V926.0H243.5ZM245.5 895.9H248.5V919.1H245.5ZM247.5 897.6H250.5V924.6H247.5ZM249.5 908.2H252.5V921.1H249.5ZM251.5 904.1H254.5V918.7H251.5ZM253.5 893.1H256.5V936.2H253.5ZM255.5 891.0H258.5V918.6H255.5ZM257.5 898.5H260.5V924.2H257.5ZM259.5 903.1H262.5V931.8H259.5ZM261.5 909.2H264.5V929.2H261.5ZM263.5 900.2H266.5V925.8H263.5ZM265.5 903.9H268.5V927.0H265.5ZM267.5 898.7H270.5V928.6H267.5ZM269.5 895.5H272.5V935.3H269.5ZM271.5 898.6H274.5V921.2H271.5ZM273.5 897.5H276.5V916.5H273.5ZM275.5 903.6H278.5V914.7H275.5ZM277.5 905.8H280.5V921.1H277.5ZM279.5 892.5H282.5V928.4H279.5ZM281.5 906.5H284.5V923.1H281.5ZM283.5 908.2H286.5V927.6H283.5ZM285.5 903.4H288.5V932.4H285.5ZM287.5 907.3H290.5V932.5H287.5ZM289.5 905.5H292.5V920.0H289.5ZM291.5 904.0H294.5V927.6H291.5ZM293.5 900.2H296.5V919.2H293.5ZM295.5 912.0H298.5V927.7H295.5ZM297.5 896.6H300.5V920.1H297.5ZM299.5 887.7H302.5V923.2H299.5ZM301.5 903.2H304.5V920.7H301.5ZM303.5 904.9H306.5V913.8H303.5ZM305.5 891.9H308.5V912.1H305.5ZM307.5 893.5H310.5V924.4H307.5ZM309.5 901.3H312.5V918.0H309.5ZM311.5 895.1H314.5V914.3H311.5ZM313.5 899.7H316.5V919.7H313.5ZM315.5 903.9H318.5V928.4H315.5ZM317.5 901.5H320.5V933.1H317.5ZM319.5 908.7H322.5V926.9H319.5ZM321.5 905.6H324.5V932.9H321.5ZM323.5 900.0H326.5V936.1H323.5ZM325.5 900.7H328.5V921.7H325.5ZM327.5 910.4H330.5V923.6H327.5ZM329.5 908.8H332.5V923.6H329.5ZM331.5 907.0H334.5V928.3H331.5ZM333.5 908.3H336.5V929.5H333.5ZM335.5 894.2H338.5V923.3H335.5ZM337.5 903.3H340.5V925.9H337.5ZM339.5 896.8H342.5V928.7H339.5ZM341.5 890.7H344.5V928.9H341.5ZM343.5 890.9H346.5V914.6H343.5ZM345.5 895.3H348.5V916.1H345.5ZM347.5 905.8H350.5V926.0H347.5ZM349.5 898.7H352.5V919.9H349.5ZM351.5 906.0H354.5V920.4H351.5ZM353.5 896.3H356.5V914.4H353.5ZM355.5 899.9H358.5V918.5H355.5ZM357.5 904.3H360.5V937.8H357.5ZM359.5 901.8H362.5V922.2H359.5ZM361.5 883.5H364.5V931.8H361.5ZM363.5 899.6H366.5V926.0H363.5ZM365.5 906.2H368.5V925.1H365.5ZM367.5 902.7H370.5V919.9H367.5ZM369.5 901.8H372.5V932.6H369.5ZM371.5 906.2H374.5V922.6H371.5ZM373.5 887.7H376.5V918.6H373.5ZM375.5 899.2H378.5V925.8H375.5ZM377.5 899.4H380.5V920.0H377.5ZM379.5 904.1H382.5V927.4H379.5ZM381.5 905.1H384.5V919.9H381.5ZM383.5 907.2H386.5V924.1H383.5ZM385.5 893.2H388.5V920.5H385.5ZM387.5 905.1H390.5V919.2H387.5ZM389.5 901.5H392.5V924.2H389.5ZM391.5 898.1H394.5V924.8H391.5ZM393.5 903.3H396.5V924.7H393.5ZM395.5 899.5H398.5V922.4H395.5ZM397.5 892.1H400.5V929.8H397.5ZM399.5 901.0H402.5V920.9H399.5ZM401.5 904.9H404.5V923.2H401.5ZM403.5 910.2H406.5V925.5H403.5ZM405.5 898.2H408.5V921.4H405.5ZM407.5 900.1H410.5V916.7H407.5ZM409.5 894.4H412.5V919.4H409.5ZM411.5 893.3H414.5V918.0H411.5ZM413.5 902.8H416.5V916.6H413.5ZM415.5 903.5H418.5V921.6H415.5ZM417.5 908.7H420.5V925.3H417.5ZM419.5 906.3H422.5V919.9H419.5ZM421.5 903.8H424.5V928.2H421.5ZM423.5 890.4H426.5V934.7H423.5ZM425.5 897.5H428.5V922.8H425.5ZM427.5 896.5H430.5V916.3H427.5ZM429.5 897.9H432.5V921.8H429.5ZM431.5 899.6H434.5V917.9H431.5ZM433.5 908.7H436.5V927.9H433.5ZM435.5 915.7H438.5V926.4H435.5ZM437.5 899.6H440.5V925.8H437.5ZM439.5 910.8H442.5V927.3H439.5ZM441.5 906.3H444.5V925.5H441.5ZM443.5 908.5H446.5V929.4H443.5ZM445.5 902.7H448.5V918.8H445.5ZM447.5 900.1H450.5V917.8H447.5ZM449.5 902.9H452.5V925.4H449.5ZM451.5 902.3H454.5V922.7H451.5ZM453.5 902.6H456.5V915.8H453.5ZM455.5 900.0H458.5V927.6H455.5ZM457.5 897.8H460.5V927.0H457.5ZM459.5 906.4H462.5V924.0H459.5ZM461.5 903.1H464.5V921.0H461.5ZM463.5 895.9H466.5V924.4H463.5ZM465.5 902.4H468.5V928.0H465.5ZM467.5 883.4H470.5V927.8H467.5ZM469.5 906.4H472.5V922.4H469.5ZM471.5 899.3H474.5V920.2H471.5ZM473.5 905.4H476.5V930.1H473.5ZM475.5 892.2H478.5V935.2H475.5ZM477.5 903.9H480.5V922.6H477.5ZM479.5 901.3H482.5V924.2H479.5ZM481.5 908.6H484.5V920.3H481.5ZM483.5 902.1H486.5V920.3H483.5ZM485.5 904.1H488.5V923.7H485.5ZM487.5 903.3H490.5V922.8H487.5ZM489.5 898.8H492.5V918.4H489.5ZM491.5 895.0H494.5V933.5H491.5ZM493.5 901.9H496.5V932.8H493.5ZM495.5 889.3H498.5V912.2H495.5ZM497.5 901.0H500.5V918.5H497.5ZM499.5 902.0H502.5V923.1H499.5ZM501.5 903.7H504.5V923.3H501.5ZM503.5 901.1H506.5V923.8H503.5ZM505.5 897.3H508.5V919.3H505.5ZM507.5 897.2H510.5V914.5H507.5ZM509.5 895.3H512.5V908.4H509.5ZM511.5 901.2H514.5V922.9H511.5ZM513.5 897.0H516.5V921.1H513.5ZM515.5 888.0H518.5V912.0H515.5ZM517.5 897.6H520.5V921.3H517.5ZM519.5 897.9H522.5V917.5H519.5ZM521.5 903.0H524.5V928.2H521.5ZM523.5 898.4H526.5V920.3H523.5ZM525.5 890.8H528.5V912.4H525.5ZM527.5 889.9H530.5V913.7H527.5ZM529.5 889.6H532.5V917.2H529.5ZM531.5 880.9H534.5V911.4H531.5ZM533.5 891.0H536.5V911.2H533.5ZM535.5 874.1H538.5V904.9H535.5ZM537.5 874.5H540.5V901.9H537.5ZM539.5 869.2H542.5V910.4H539.5ZM541.5 879.6H544.5V920.5H541.5ZM543.5 880.0H546.5V904.8H543.5ZM545.5 876.8H548.5V899.4H545.5ZM547.5 884.1H550.5V897.9H547.5ZM549.5 882.4H552.5V893.6H549.5ZM551.5 875.8H554.5V895.5H551.5ZM553.5 874.6H556.5V898.4H553.5ZM555.5 869.8H558.5V896.2H555.5ZM557.5 863.9H560.5V891.0H557.5ZM559.5 877.2H562.5V896.0H559.5ZM561.5 863.5H564.5V892.9H561.5ZM563.5 871.2H566.5V898.2H563.5ZM565.5 864.5H568.5V882.4H565.5ZM567.5 863.7H570.5V891.6H567.5ZM569.5 850.3H572.5V878.4H569.5ZM571.5 855.1H574.5V881.3H571.5ZM573.5 855.4H576.5V881.0H573.5ZM575.5 862.2H578.5V874.0H575.5ZM577.5 841.2H580.5V870.0H577.5ZM579.5 844.9H582.5V872.1H579.5ZM581.5 856.2H584.5V878.9H581.5ZM583.5 859.8H586.5V874.8H583.5ZM585.5 851.1H588.5V870.1H585.5ZM587.5 844.3H590.5V864.7H587.5ZM589.5 843.8H592.5V877.6H589.5ZM591.5 841.5H594.5V874.6H591.5ZM593.5 841.5H596.5V867.8H593.5ZM595.5 838.7H598.5V863.9H595.5ZM597.5 831.4H600.5V857.8H597.5ZM599.5 832.8H602.5V847.8H599.5ZM601.5 841.4H604.5V856.3H601.5ZM603.5 831.5H606.5V850.1H603.5ZM605.5 828.5H608.5V847.0H605.5ZM607.5 825.2H610.5V843.7H607.5ZM609.5 828.3H612.5V852.7H609.5ZM611.5 815.8H614.5V847.0H611.5ZM613.5 820.4H616.5V843.8H613.5ZM615.5 818.1H618.5V838.6H615.5ZM617.5 819.8H620.5V836.2H617.5ZM619.5 820.7H622.5V837.5H619.5ZM621.5 811.7H624.5V836.1H621.5ZM623.5 807.9H626.5V831.6H623.5ZM625.5 816.8H628.5V827.5H625.5ZM627.5 805.7H630.5V831.3H627.5ZM629.5 800.7H632.5V823.4H629.5ZM631.5 800.8H634.5V822.9H631.5ZM633.5 797.8H636.5V814.2H633.5ZM635.5 798.4H638.5V820.3H635.5ZM637.5 775.0H640.5V806.3H637.5ZM639.5 786.0H642.5V811.7H639.5ZM641.5 785.7H644.5V800.6H641.5ZM643.5 789.1H646.5V798.3H643.5ZM645.5 778.4H648.5V813.0H645.5ZM647.5 783.7H650.5V802.0H647.5ZM649.5 779.0H652.5V796.7H649.5ZM651.5 779.0H654.5V796.4H651.5ZM653.5 770.4H656.5V784.1H653.5ZM655.5 767.0H658.5V793.1H655.5ZM657.5 763.3H660.5V788.0H657.5ZM659.5 756.7H662.5V782.2H659.5ZM661.5 745.4H664.5V775.8H661.5ZM663.5 736.7H666.5V755.4H663.5ZM665.5 730.6H668.5V759.2H665.5ZM667.5 716.7H670.5V742.3H667.5ZM669.5 717.1H672.5V727.3H669.5ZM671.5 704.2H674.5V742.3H671.5ZM673.5 677.4H676.5V721.7H673.5ZM675.5 660.2H678.5V697.8H675.5ZM677.5 659.9H680.5V684.9H677.5ZM679.5 649.0H682.5V664.8H679.5ZM681.5 632.9H684.5V660.3H681.5ZM683.5 615.4H686.5V638.3H683.5ZM685.5 595.0H688.5V618.4H685.5ZM687.5 567.6H690.5V605.1H687.5ZM689.5 549.5H692.5V570.6H689.5ZM691.5 522.6H694.5V552.5H691.5ZM693.5 500.8H696.5V525.6H693.5ZM695.5 485.2H698.5V503.8H695.5ZM697.5 478.5H700.5V488.2H697.5ZM699.5 463.6H702.5V482.2H699.5ZM701.5 467.6H704.5V481.5H701.5ZM703.5 476.5H706.5V483.2H703.5ZM705.5 477.3H708.5V494.5H705.5ZM707.5 487.7H710.5V513.0H707.5ZM709.5 499.9H712.5V520.5H709.5ZM711.5 507.9H714.5V536.1H711.5ZM713.5 529.8H716.5V570.7H713.5ZM715.5 567.7H718.5V604.3H715.5ZM717.5 601.3H720.5V638.2H717.5ZM719.5 633.4H722.5V669.3H719.5ZM721.5 666.3H724.5V689.7H721.5ZM723.5 686.7H726.5V714.0H723.5ZM725.5 711.0H728.5V742.9H725.5ZM727.5 735.9H730.5V768.7H727.5ZM729.5 751.1H732.5V777.3H729.5ZM731.5 767.7H734.5V797.9H731.5ZM733.5 794.9H736.5V806.9H733.5ZM735.5 797.8H738.5V822.2H735.5ZM737.5 812.7H740.5V838.8H737.5ZM739.5 831.5H742.5V862.3H739.5ZM741.5 839.7H744.5V871.3H741.5ZM743.5 860.1H746.5V872.3H743.5ZM745.5 857.7H748.5V885.8H745.5ZM747.5 862.7H750.5V887.3H747.5ZM749.5 869.4H752.5V893.3H749.5ZM751.5 878.1H754.5V892.5H751.5ZM753.5 876.7H756.5V897.5H753.5ZM755.5 885.6H758.5V906.5H755.5ZM757.5 883.5H760.5V901.7H757.5ZM759.5 892.4H762.5V901.8H759.5ZM761.5 888.9H764.5V906.9H761.5ZM763.5 894.6H766.5V905.6H763.5ZM765.5 890.0H768.5V903.7H765.5ZM767.5 896.2H770.5V912.4H767.5ZM769.5 902.3H772.5V917.4H769.5ZM771.5 901.6H774.5V915.7H771.5ZM773.5 904.6H776.5V915.3H773.5ZM775.5 896.9H778.5V914.7H775.5ZM777.5 901.2H780.5V919.1H777.5ZM779.5 903.5H782.5V915.1H779.5ZM781.5 899.7H784.5V921.7H781.5ZM783.5 899.7H786.5V920.1H783.5ZM785.5 896.3H788.5V915.4H785.5ZM787.5 903.1H790.5V917.0H787.5ZM789.5 900.5H792.5V927.2H789.5ZM791.5 907.5H794.5V927.4H791.5ZM793.5 906.7H796.5V917.0H793.5ZM795.5 905.8H798.5V922.8H795.5ZM797.5 897.5H800.5V918.7H797.5ZM799.5 906.0H802.5V915.2H799.5ZM801.5 897.2H804.5V920.6H801.5ZM803.5 904.4H806.5V921.4H803.5ZM805.5 903.8H808.5V916.1H805.5ZM807.5 910.5H810.5V923.9H807.5ZM809.5 899.2H812.5V924.1H809.5ZM811.5 899.8H814.5V917.1H811.5ZM813.5 904.2H816.5V919.3H813.5ZM815.5 900.2H818.5V920.3H815.5ZM817.5 908.4H820.5V924.6H817.5ZM819.5 903.7H822.5V919.2H819.5ZM821.5 903.1H824.5V920.3H821.5ZM823.5 905.0H826.5V919.8H823.5ZM825.5 904.9H828.5V921.7H825.5ZM827.5 909.3H830.5V928.5H827.5ZM829.5 903.6H832.5V921.8H829.5ZM831.5 898.9H834.5V917.2H831.5ZM833.5 903.0H836.5V917.4H833.5ZM835.5 907.0H838.5V916.4H835.5ZM837.5 901.7H840.5V916.9H837.5ZM839.5 907.2H842.5V919.0H839.5ZM841.5 904.7H844.5V915.1H841.5ZM843.5 896.6H846.5V917.4H843.5ZM845.5 902.8H848.5V916.1H845.5ZM847.5 901.2H850.5V918.4H847.5ZM849.5 904.7H852.5V915.3H849.5ZM851.5 903.7H854.5V913.7H851.5ZM853.5 903.5H856.5V920.1H853.5ZM855.5 902.7H858.5V925.1H855.5ZM857.5 903.4H860.5V918.7H857.5ZM859.5 907.8H862.5V927.1H859.5ZM861.5 894.7H864.5V916.9H861.5ZM863.5 896.9H866.5V920.6H863.5ZM865.5 901.5H868.5V914.3H865.5ZM867.5 899.9H870.5V915.5H867.5ZM869.5 904.9H872.5V917.4H869.5ZM871.5 904.9H874.5V921.7H871.5ZM873.5 908.2H876.5V914.3H873.5ZM875.5 903.6H878.5V915.5H875.5ZM877.5 903.7H880.5V919.9H877.5ZM879.5 899.6H882.5V916.4H879.5ZM881.5 900.9H884.5V921.5H881.5ZM883.5 897.8H886.5V910.5H883.5ZM885.5 897.1H888.5V917.3H885.5ZM887.5 906.3H890.5V920.1H887.5ZM889.5 899.2H892.5V916.9H889.5ZM891.5 901.8H894.5V918.4H891.5ZM893.5 900.1H896.5V916.4H893.5ZM895.5 898.6H898.5V918.5H895.5ZM897.5 897.2H900.5V914.1H897.5ZM899.5 897.4H902.5V921.3H899.5ZM901.5 902.4H904.5V921.0H901.5ZM903.5 903.0H906.5V920.3H903.5ZM905.5 906.2H908.5V917.4H905.5ZM907.5 907.8H910.5V923.3H907.5ZM909.5 902.9H912.5V915.1H909.5ZM911.5 903.8H914.5V918.3H911.5ZM913.5 893.2H916.5V918.7H913.5ZM915.5 893.3H918.5V916.7H915.5ZM917.5 904.2H920.5V921.1H917.5ZM919.5 908.7H922.5V917.9H919.5ZM921.5 905.0H924.5V922.1H921.5ZM923.5 906.5H926.5V918.3H923.5ZM925.5 907.1H928.5V917.2H925.5ZM927.5 905.8H930.5V919.2H927.5ZM929.5 899.9H932.5V921.7H929.5ZM931.5 901.2H934.5V914.3H931.5ZM933.5 900.6H936.5V917.6H933.5ZM935.5 907.8H938.5V923.6H935.5ZM937.5 903.4H940.5V920.5H937.5ZM939.5 902.1H942.5V915.6H939.5ZM941.5 908.4H944.5V921.2H941.5ZM943.5 905.2H946.5V921.8H943.5ZM945.5 904.5H948.5V921.1H945.5ZM947.5 904.2H950.5V921.0H947.5ZM949.5 902.2H952.5V917.2H949.5ZM951.5 900.1H954.5V913.0H951.5ZM953.5 903.8H956.5V911.8H953.5ZM955.5 902.6H958.5V918.8H955.5ZM957.5 899.0H960.5V919.7H957.5ZM959.5 894.8H962.5V922.1H959.5ZM961.5 897.2H964.5V913.6H961.5ZM963.5 900.2H966.5V913.2H963.5ZM965.5 899.4H968.5V917.2H965.5ZM967.5 904.0H970.5V915.9H967.5ZM969.5 904.9H972.5V923.0H969.5ZM971.5 906.5H974.5V918.0H971.5ZM973.5 909.5H976.5V926.6H973.5ZM975.5 900.1H978.5V922.6H975.5ZM977.5 898.2H980.5V911.7H977.5ZM979.5 900.2H982.5V913.0H979.5ZM981.5 894.6H984.5V910.9H981.5ZM983.5 903.7H986.5V920.2H983.5ZM985.5 891.6H988.5V911.1H985.5ZM987.5 896.2H990.5V919.4H987.5ZM989.5 907.3H992.5V916.5H989.5ZM991.5 904.9H994.5V921.4H991.5ZM993.5 891.6H996.5V917.5H993.5ZM995.5 903.2H998.5V917.4H995.5ZM997.5 895.5H1000.5V919.0H997.5ZM999.5 890.3H1002.5V918.4H999.5ZM1001.5 897.7H1004.5V921.2H1001.5ZM1003.5 904.2H1006.5V922.3H1003.5ZM1005.5 905.9H1008.5V917.3H1005.5ZM1007.5 901.3H1010.5V919.0H1007.5ZM1009.5 898.3H1012.5V914.7H1009.5ZM1011.5 897.5H1014.5V907.6H1011.5ZM1013.5 893.7H1016.5V919.3H1013.5ZM1015.5 901.2H1018.5V915.5H1015.5ZM1017.5 901.7H1020.5V913.5H1017.5ZM1019.5 903.2H1022.5V917.5H1019.5ZM1021.5 900.9H1024.5V917.2H1021.5ZM1023.5 907.3H1026.5V923.7H1023.5ZM1025.5 904.1H1028.5V917.9H1025.5ZM1027.5 899.1H1030.5V914.6H1027.5ZM1029.5 896.2H1032.5V916.2H1029.5ZM1031.5 897.8H1034.5V917.3H1031.5ZM1033.5 899.9H1036.5V911.9H1033.5ZM1035.5 899.3H1038.5V916.4H1035.5ZM1037.5 902.6H1040.5V920.5H1037.5ZM1039.5 901.9H1042.5V919.3H1039.5ZM1041.5 902.9H1044.5V914.1H1041.5ZM1043.5 900.7H1046.5V916.6H1043.5ZM1045.5 897.5H1048.5V914.6H1045.5ZM1047.5 897.5H1050.5V919.1H1047.5ZM1049.5 896.5H1052.5V916.2H1049.5ZM1051.5 895.9H1054.5V921.2H1051.5ZM1053.5 896.6H1056.5V916.6H1053.5ZM1055.5 900.8H1058.5V911.3H1055.5ZM1057.5 891.5H1060.5V907.2H1057.5ZM1059.5 895.5H1062.5V905.5H1059.5ZM1061.5 890.7H1064.5V912.4H1061.5ZM1063.5 892.2H1066.5V909.6H1063.5ZM1065.5 885.1H1068.5V901.1H1065.5ZM1067.5 883.7H1070.5V897.2H1067.5ZM1069.5 873.8H1072.5V887.8H1069.5ZM1071.5 879.9H1074.5V899.7H1071.5ZM1073.5 875.5H1076.5V894.1H1073.5ZM1075.5 868.1H1078.5V878.9H1075.5ZM1077.5 855.1H1080.5V887.6H1077.5ZM1079.5 859.6H1082.5V883.0H1079.5ZM1081.5 858.9H1084.5V872.6H1081.5ZM1083.5 855.1H1086.5V872.9H1083.5ZM1085.5 847.4H1088.5V870.8H1085.5ZM1087.5 844.0H1090.5V862.6H1087.5ZM1089.5 824.5H1092.5V856.4H1089.5ZM1091.5 824.5H1094.5V847.8H1091.5ZM1093.5 824.5H1096.5V855.9H1093.5ZM1095.5 817.6H1098.5V837.9H1095.5ZM1097.5 813.5H1100.5V837.4H1097.5ZM1099.5 815.6H1102.5V827.0H1099.5ZM1101.5 815.1H1104.5V829.6H1101.5ZM1103.5 815.6H1106.5V826.2H1103.5ZM1105.5 812.6H1108.5V832.8H1105.5ZM1107.5 805.8H1110.5V820.2H1107.5ZM1109.5 806.0H1112.5V824.8H1109.5ZM1111.5 811.5H1114.5V829.5H1111.5ZM1113.5 802.8H1116.5V824.8H1113.5ZM1115.5 807.2H1118.5V827.9H1115.5ZM1117.5 812.5H1120.5V822.5H1117.5ZM1119.5 810.7H1122.5V826.5H1119.5ZM1121.5 819.5H1124.5V832.3H1121.5ZM1123.5 823.1H1126.5V836.5H1123.5ZM1125.5 815.4H1128.5V843.9H1125.5ZM1127.5 820.8H1130.5V838.8H1127.5ZM1129.5 820.8H1132.5V842.1H1129.5ZM1131.5 820.1H1134.5V850.6H1131.5ZM1133.5 802.0H1136.5V829.3H1133.5ZM1135.5 791.0H1138.5V816.9H1135.5ZM1137.5 749.9H1140.5V798.4H1137.5ZM1139.5 701.8H1142.5V752.9H1139.5ZM1141.5 646.5H1144.5V704.8H1141.5ZM1143.5 633.6H1146.5V649.5H1143.5ZM1145.5 642.1H1148.5V703.3H1145.5ZM1147.5 700.3H1150.5V785.2H1147.5ZM1149.5 782.2H1152.5V832.7H1149.5ZM1151.5 827.8H1154.5V861.3H1151.5ZM1153.5 842.6H1156.5V862.1H1153.5ZM1155.5 847.3H1158.5V864.4H1155.5ZM1157.5 842.0H1160.5V868.7H1157.5ZM1159.5 862.4H1162.5V874.1H1159.5ZM1161.5 866.1H1164.5V873.5H1161.5ZM1163.5 863.1H1166.5V878.6H1163.5ZM1165.5 866.6H1168.5V885.2H1165.5ZM1167.5 870.9H1170.5V880.3H1167.5ZM1169.5 873.8H1172.5V881.6H1169.5ZM1171.5 874.1H1174.5V886.9H1171.5ZM1173.5 874.5H1176.5V889.8H1173.5ZM1175.5 873.9H1178.5V891.2H1175.5ZM1177.5 878.1H1180.5V897.9H1177.5ZM1179.5 882.5H1182.5V893.4H1179.5ZM1181.5 883.8H1184.5V899.1H1181.5ZM1183.5 887.3H1186.5V896.8H1183.5ZM1185.5 875.1H1188.5V902.3H1185.5ZM1187.5 880.9H1190.5V897.0H1187.5ZM1189.5 892.1H1192.5V906.0H1189.5ZM1191.5 897.1H1194.5V909.2H1191.5ZM1193.5 889.3H1196.5V904.7H1193.5ZM1195.5 886.4H1198.5V907.4H1195.5ZM1197.5 889.3H1200.5V906.8H1197.5ZM1199.5 892.6H1202.5V910.5H1199.5ZM1201.5 896.0H1204.5V910.4H1201.5ZM1203.5 899.4H1206.5V915.0H1203.5ZM1205.5 902.7H1208.5V914.1H1205.5ZM1207.5 903.9H1210.5V924.9H1207.5ZM1209.5 901.4H1212.5V914.7H1209.5ZM1211.5 902.8H1214.5V911.6H1211.5ZM1213.5 900.6H1216.5V920.4H1213.5ZM1215.5 902.2H1218.5V922.3H1215.5ZM1217.5 905.1H1220.5V921.8H1217.5ZM1219.5 895.0H1222.5V916.0H1219.5ZM1221.5 904.9H1224.5V923.4H1221.5ZM1223.5 905.5H1226.5V917.6H1223.5ZM1225.5 907.6H1228.5V919.8H1225.5ZM1227.5 905.5H1230.5V913.9H1227.5ZM1229.5 910.9H1232.5V919.9H1229.5ZM1231.5 903.0H1234.5V919.2H1231.5ZM1233.5 902.6H1236.5V911.6H1233.5ZM1235.5 903.7H1238.5V915.2H1235.5ZM1237.5 905.1H1240.5V918.8H1237.5ZM1239.5 908.6H1242.5V917.2H1239.5ZM1241.5 901.1H1244.5V919.3H1241.5ZM1243.5 905.4H1246.5V914.9H1243.5ZM1245.5 905.7H1248.5V919.6H1245.5ZM1247.5 897.5H1250.5V923.8H1247.5ZM1249.5 896.9H1252.5V920.9H1249.5ZM1251.5 901.5H1254.5V924.3H1251.5ZM1253.5 910.0H1256.5V920.6H1253.5ZM1255.5 902.1H1258.5V926.7H1255.5ZM1257.5 906.2H1260.5V930.7H1257.5ZM1259.5 906.5H1262.5V919.8H1259.5ZM1261.5 908.9H1264.5V923.8H1261.5ZM1263.5 909.4H1266.5V922.4H1263.5ZM1265.5 908.1H1268.5V921.9H1265.5ZM1267.5 908.1H1270.5V918.5H1267.5ZM1269.5 905.8H1272.5V919.6H1269.5ZM1271.5 898.9H1274.5V917.4H1271.5ZM1273.5 905.2H1276.5V916.5H1273.5ZM1275.5 900.8H1278.5V921.8H1275.5ZM1277.5 908.0H1280.5V918.1H1277.5ZM1279.5 910.0H1282.5V924.9H1279.5ZM1281.5 901.5H1284.5V919.6H1281.5ZM1283.5 901.5H1286.5V920.7H1283.5ZM1285.5 907.5H1288.5V921.9H1285.5ZM1287.5 902.2H1290.5V918.5H1287.5ZM1289.5 905.2H1292.5V915.3H1289.5ZM1291.5 905.3H1294.5V919.3H1291.5ZM1293.5 897.6H1296.5V918.8H1293.5ZM1295.5 903.7H1298.5V926.8H1295.5ZM1297.5 909.4H1300.5V920.0H1297.5ZM1299.5 906.4H1302.5V916.7H1299.5ZM1301.5 903.0H1304.5V917.9H1301.5ZM1303.5 906.4H1306.5V920.0H1303.5ZM1305.5 898.2H1308.5V916.2H1305.5ZM1307.5 901.6H1310.5V916.1H1307.5ZM1309.5 906.1H1312.5V918.3H1309.5ZM1311.5 906.1H1314.5V925.4H1311.5ZM1313.5 902.2H1316.5V914.2H1313.5ZM1315.5 901.9H1318.5V920.1H1315.5ZM1317.5 903.8H1320.5V919.8H1317.5ZM1319.5 907.1H1322.5V920.4H1319.5ZM1321.5 904.8H1324.5V922.8H1321.5ZM1323.5 899.2H1326.5V920.5H1323.5ZM1325.5 905.8H1328.5V920.5H1325.5ZM1327.5 896.9H1330.5V912.8H1327.5ZM1329.5 897.6H1332.5V922.8H1329.5ZM1331.5 901.2H1334.5V911.3H1331.5ZM1333.5 902.9H1336.5V917.7H1333.5ZM1335.5 897.0H1338.5V914.0H1335.5ZM1337.5 902.5H1340.5V917.0H1337.5ZM1339.5 903.5H1342.5V914.1H1339.5ZM1341.5 900.4H1344.5V911.3H1341.5ZM1343.5 901.1H1346.5V922.8H1343.5ZM1345.5 893.1H1348.5V917.4H1345.5ZM1347.5 901.7H1350.5V912.8H1347.5ZM1349.5 907.0H1352.5V913.0H1349.5ZM1351.5 903.9H1354.5V915.6H1351.5ZM1353.5 897.2H1356.5V911.6H1353.5ZM1355.5 903.5H1358.5V924.4H1355.5ZM1357.5 903.0H1360.5V916.9H1357.5ZM1359.5 903.4H1362.5V917.0H1359.5ZM1361.5 897.9H1364.5V915.5H1361.5ZM1363.5 897.9H1366.5V913.8H1363.5ZM1365.5 902.5H1368.5V914.9H1365.5ZM1367.5 900.8H1370.5V915.6H1367.5ZM1369.5 901.8H1372.5V921.1H1369.5ZM1371.5 903.0H1374.5V915.0H1371.5ZM1373.5 899.4H1376.5V915.3H1373.5ZM1375.5 903.4H1378.5V914.1H1375.5ZM1377.5 900.4H1380.5V916.5H1377.5ZM1379.5 904.9H1382.5V918.4H1379.5ZM1381.5 901.0H1384.5V922.2H1381.5ZM1383.5 904.9H1386.5V927.5H1383.5ZM1385.5 901.1H1388.5V912.8H1385.5ZM1387.5 903.2H1390.5V915.3H1387.5ZM1389.5 895.5H1392.5V917.1H1389.5ZM1391.5 902.3H1394.5V914.8H1391.5ZM1393.5 901.6H1396.5V914.5H1393.5ZM1395.5 900.7H1398.5V915.9H1395.5ZM1397.5 902.8H1400.5V916.6H1397.5ZM1399.5 906.3H1402.5V921.6H1399.5ZM1401.5 899.9H1404.5V920.5H1401.5ZM1403.5 906.5H1406.5V917.8H1403.5ZM1405.5 904.8H1408.5V919.8H1405.5ZM1407.5 903.5H1410.5V920.1H1407.5ZM1409.5 902.4H1412.5V928.0H1409.5ZM1411.5 905.3H1414.5V919.8H1411.5ZM1413.5 901.8H1416.5V922.9H1413.5ZM1415.5 900.5H1418.5V922.2H1415.5ZM1417.5 903.1H1420.5V915.8H1417.5ZM1419.5 903.5H1422.5V923.4H1419.5ZM1421.5 905.8H1424.5V913.2H1421.5ZM1423.5 903.8H1426.5V922.5H1423.5ZM1425.5 901.8H1428.5V923.4H1425.5ZM1427.5 901.8H1430.5V922.6H1427.5ZM1429.5 905.7H1432.5V916.6H1429.5ZM1431.5 904.8H1434.5V917.6H1431.5ZM1433.5 909.2H1436.5V921.5H1433.5ZM1435.5 907.5H1438.5V926.6H1435.5ZM1437.5 906.8H1440.5V918.5H1437.5ZM1439.5 907.5H1442.5V919.1H1439.5ZM1441.5 907.1H1444.5V922.9H1441.5ZM1443.5 903.1H1446.5V920.4H1443.5ZM1445.5 910.7H1448.5V918.2H1445.5ZM1447.5 909.0H1450.5V924.3H1447.5ZM1449.5 903.1H1452.5V925.9H1449.5ZM1451.5 904.4H1454.5V920.7H1451.5ZM1453.5 905.5H1456.5V919.2H1453.5ZM1455.5 906.9H1458.5V919.4H1455.5ZM1457.5 906.2H1460.5V922.0H1457.5ZM1459.5 909.6H1462.5V925.3H1459.5ZM1461.5 909.4H1464.5V917.7H1461.5ZM1463.5 907.2H1466.5V919.3H1463.5ZM1465.5 908.9H1468.5V922.2H1465.5ZM1467.5 903.0H1470.5V923.4H1467.5ZM1469.5 906.3H1472.5V917.1H1469.5ZM1471.5 904.2H1474.5V923.5H1471.5ZM1473.5 904.5H1476.5V925.8H1473.5ZM1475.5 909.6H1478.5V925.6H1475.5ZM1477.5 901.7H1480.5V916.8H1477.5ZM1479.5 901.8H1482.5V915.1H1479.5ZM1481.5 901.6H1484.5V920.5H1481.5ZM1483.5 902.9H1486.5V916.7H1483.5ZM1485.5 903.2H1488.5V919.1H1485.5ZM1487.5 902.2H1490.5V915.2H1487.5ZM1489.5 909.3H1492.5V919.9H1489.5ZM1491.5 905.9H1494.5V921.0H1491.5ZM1493.5 907.8H1496.5V915.8H1493.5ZM1495.5 897.8H1498.5V913.7H1495.5ZM1497.5 900.0H1500.5V918.1H1497.5ZM1499.5 901.5H1502.5V917.9H1499.5ZM1501.5 905.6H1504.5V919.9H1501.5ZM1503.5 898.9H1506.5V918.5H1503.5ZM1505.5 899.5H1508.5V918.0H1505.5ZM1507.5 907.4H1510.5V925.9H1507.5ZM1509.5 899.6H1512.5V917.2H1509.5ZM1511.5 897.8H1514.5V917.4H1511.5ZM1513.5 901.5H1516.5V918.5H1513.5ZM1515.5 903.9H1518.5V917.3H1515.5ZM1517.5 904.5H1520.5V919.9H1517.5ZM1519.5 900.8H1522.5V915.8H1519.5ZM1521.5 899.7H1524.5V916.2H1521.5ZM1523.5 899.0H1526.5V915.1H1523.5ZM1525.5 901.9H1528.5V916.8H1525.5ZM1527.5 901.8H1530.5V920.1H1527.5ZM1529.5 897.7H1532.5V920.4H1529.5ZM1531.5 901.1H1534.5V920.3H1531.5ZM1533.5 903.5H1536.5V911.0H1533.5ZM1535.5 902.1H1538.5V910.0H1535.5ZM1537.5 907.0H1540.5V919.2H1537.5ZM1539.5 903.6H1542.5V920.3H1539.5ZM1541.5 905.5H1544.5V916.0H1541.5ZM1543.5 903.0H1546.5V916.1H1543.5ZM1545.5 901.0H1548.5V912.0H1545.5ZM1547.5 903.9H1550.5V915.5H1547.5ZM1549.5 902.6H1552.5V914.8H1549.5ZM1551.5 895.1H1554.5V918.9H1551.5ZM1553.5 913.8H1556.5V923.1H1553.5ZM1555.5 911.3H1558.5V925.3H1555.5ZM1557.5 904.9H1560.5V917.3H1557.5ZM1559.5 904.7H1562.5V916.3H1559.5ZM1561.5 905.0H1564.5V920.9H1561.5ZM1563.5 905.5H1566.5V921.2H1563.5ZM1565.5 911.9H1568.5V923.6H1565.5ZM1567.5 905.5H1570.5V923.5H1567.5ZM1569.5 902.4H1572.5V916.5H1569.5ZM1571.5 908.3H1574.5V916.2H1571.5ZM1573.5 909.3H1576.5V924.8H1573.5ZM1575.5 903.5H1578.5V916.2H1575.5ZM1577.5 906.7H1580.5V921.3H1577.5ZM1579.5 905.6H1582.5V919.2H1579.5ZM1581.5 910.4H1584.5V923.7H1581.5ZM1583.5 910.3H1586.5V919.9H1583.5ZM1585.5 905.0H1588.5V920.2H1585.5ZM1587.5 909.2H1590.5V922.0H1587.5ZM1589.5 905.1H1592.5V918.5H1589.5ZM1591.5 907.7H1594.5V920.4H1591.5ZM1593.5 907.7H1596.5V920.4H1593.5ZM1595.5 903.2H1598.5V923.4H1595.5ZM1597.5 903.7H1600.5V925.5H1597.5ZM1599.5 899.8H1602.5V922.0H1599.5ZM1601.5 902.4H1604.5V920.3H1601.5ZM1603.5 904.3H1606.5V918.6H1603.5ZM1605.5 907.2H1608.5V918.9H1605.5ZM1607.5 900.3H1610.5V918.7H1607.5ZM1609.5 905.2H1612.5V913.3H1609.5ZM1611.5 910.3H1614.5V920.2H1611.5ZM1613.5 910.1H1616.5V921.2H1613.5ZM1615.5 902.6H1618.5V919.7H1615.5ZM1617.5 895.8H1620.5V910.0H1617.5ZM1619.5 897.4H1622.5V912.2H1619.5ZM1621.5 890.7H1624.5V902.4H1621.5ZM1623.5 887.9H1626.5V898.5H1623.5ZM1625.5 879.1H1628.5V899.8H1625.5ZM1627.5 888.2H1630.5V905.8H1627.5ZM1629.5 894.9H1632.5V902.5H1629.5ZM1631.5 899.0H1634.5V910.2H1631.5ZM1633.5 898.0H1636.5V911.1H1633.5ZM1635.5 898.8H1638.5V920.0H1635.5ZM1637.5 907.8H1640.5V920.3H1637.5ZM1639.5 903.2H1642.5V915.7H1639.5ZM1641.5 907.3H1644.5V917.8H1641.5ZM1643.5 909.8H1646.5V921.1H1643.5ZM1645.5 903.6H1648.5V921.0H1645.5ZM1647.5 904.1H1650.5V922.4H1647.5ZM1649.5 908.6H1652.5V920.8H1649.5ZM1651.5 906.5H1654.5V918.9H1651.5ZM1653.5 909.8H1656.5V916.3H1653.5ZM1655.5 906.5H1658.5V920.5H1655.5ZM1657.5 907.1H1660.5V928.3H1657.5ZM1659.5 904.2H1662.5V915.7H1659.5ZM1661.5 905.9H1664.5V919.9H1661.5ZM1663.5 908.3H1666.5V919.6H1663.5ZM1665.5 909.7H1668.5V920.2H1665.5ZM1667.5 906.9H1670.5V921.7H1667.5ZM1669.5 904.7H1672.5V917.7H1669.5ZM1671.5 909.3H1674.5V928.1H1671.5ZM1673.5 904.9H1676.5V921.2H1673.5ZM1675.5 907.8H1678.5V923.5H1675.5ZM1677.5 901.8H1680.5V919.4H1677.5ZM1679.5 908.0H1682.5V919.8H1679.5ZM1681.5 908.3H1684.5V917.3H1681.5ZM1683.5 908.8H1686.5V920.2H1683.5ZM1685.5 907.4H1688.5V921.0H1685.5ZM1687.5 908.2H1690.5V918.2H1687.5ZM1689.5 901.3H1692.5V918.8H1689.5ZM1691.5 903.4H1694.5V918.2H1691.5ZM1693.5 909.5H1696.5V918.5H1693.5ZM1695.5 907.8H1698.5V920.6H1695.5ZM1697.5 905.3H1700.5V918.8H1697.5ZM1699.5 905.6H1702.5V918.1H1699.5ZM1701.5 912.1H1704.5V922.5H1701.5ZM1703.5 910.8H1706.5V920.1H1703.5ZM1705.5 910.0H1708.5V922.6H1705.5ZM1707.5 910.4H1710.5V922.7H1707.5ZM1709.5 911.0H1712.5V921.4H1709.5ZM1711.5 907.9H1714.5V925.6H1711.5ZM1713.5 910.6H1716.5V916.3H1713.5ZM1715.5 909.5H1718.5V921.6H1715.5ZM1717.5 907.2H1720.5V918.6H1717.5ZM1719.5 904.9H1722.5V912.7H1719.5ZM1721.5 907.7H1724.5V920.0H1721.5ZM1723.5 908.5H1726.5V917.4H1723.5ZM1725.5 907.0H1728.5V917.3H1725.5ZM1727.5 907.1H1730.5V922.7H1727.5ZM1729.5 907.9H1732.5V915.7H1729.5ZM1731.5 906.2H1734.5V917.2H1731.5ZM1733.5 903.1H1736.5V922.5H1733.5ZM1735.5 909.9H1738.5V921.7H1735.5ZM1737.5 912.5H1740.5V918.6H1737.5ZM1739.5 905.0H1742.5V919.9H1739.5ZM1741.5 906.7H1744.5V922.0H1741.5ZM1743.5 903.4H1746.5V922.6H1743.5ZM1745.5 911.9H1748.5V921.8H1745.5ZM1747.5 907.4H1750.5V918.6H1747.5ZM1749.5 909.8H1752.5V923.5H1749.5ZM1751.5 909.0H1754.5V920.7H1751.5ZM1753.5 906.0H1756.5V917.4H1753.5ZM1755.5 909.5H1758.5V921.2H1755.5ZM1757.5 907.1H1760.5V922.8H1757.5ZM1759.5 913.8H1762.5V923.5H1759.5ZM1761.5 907.8H1764.5V922.1H1761.5ZM1763.5 905.6H1766.5V914.9H1763.5ZM1765.5 907.6H1768.5V917.0H1765.5ZM1767.5 905.3H1770.5V922.1H1767.5ZM1769.5 900.4H1772.5V911.9H1769.5ZM1771.5 905.5H1774.5V922.5H1771.5ZM1773.5 905.7H1776.5V917.0H1773.5ZM1775.5 909.7H1778.5V917.8H1775.5ZM1777.5 910.1H1780.5V919.7H1777.5ZM1779.5 906.7H1782.5V917.7H1779.5ZM1781.5 907.5H1784.5V916.2H1781.5ZM1783.5 906.7H1786.5V918.5H1783.5ZM1785.5 908.6H1788.5V920.2H1785.5ZM1787.5 909.3H1790.5V923.9H1787.5ZM1789.5 909.1H1792.5V917.8H1789.5ZM1791.5 909.8H1794.5V920.8H1791.5ZM1793.5 902.3H1796.5V918.3H1793.5ZM1795.5 902.1H1798.5V917.9H1795.5ZM1797.5 909.8H1800.5V919.3H1797.5ZM1799.5 908.6H1802.5V925.7H1799.5ZM1801.5 911.2H1804.5V922.6H1801.5ZM1803.5 906.5H1806.5V923.7H1803.5ZM1805.5 905.8H1808.5V922.9H1805.5ZM1807.5 902.9H1810.5V921.4H1807.5ZM1809.5 906.7H1812.5V920.6H1809.5ZM1811.5 903.9H1814.5V916.4H1811.5ZM1813.5 902.0H1816.5V920.3H1813.5ZM1815.5 905.3H1818.5V917.9H1815.5ZM1817.5 907.3H1820.5V920.9H1817.5ZM1819.5 901.7H1822.5V921.0H1819.5ZM1821.5 900.7H1824.5V924.1H1821.5ZM1823.5 905.0H1826.5V915.3H1823.5ZM1825.5 908.8H1828.5V916.9H1825.5ZM1827.5 906.9H1830.5V918.3H1827.5ZM1829.5 908.5H1832.5V920.3H1829.5ZM1831.5 908.0H1834.5V918.4H1831.5ZM1833.5 909.8H1836.5V919.1H1833.5ZM1835.5 908.8H1838.5V920.5H1835.5ZM1837.5 902.9H1840.5V920.4H1837.5ZM1839.5 904.8H1842.5V921.2H1839.5ZM1841.5 909.5H1844.5V915.9H1841.5ZM1843.5 905.2H1846.5V921.7H1843.5ZM1845.5 901.4H1848.5V922.4H1845.5ZM1847.5 904.0H1850.5V923.2H1847.5ZM1849.5 907.8H1852.5V920.6H1849.5ZM1851.5 904.0H1854.5V920.6H1851.5ZM1853.5 903.6H1856.5V917.6H1853.5ZM1855.5 905.7H1858.5V919.2H1855.5ZM1857.5 911.0H1860.5V919.1H1857.5ZM1859.5 910.1H1862.5V916.6H1859.5ZM1861.5 906.7H1864.5V917.0H1861.5ZM1863.5 903.1H1866.5V919.6H1863.5ZM1865.5 907.6H1868.5V913.9H1865.5ZM1867.5 904.3H1870.5V913.2H1867.5ZM1869.5 902.3H1872.5V914.6H1869.5ZM1871.5 904.5H1874.5V914.9H1871.5ZM1873.5 908.6H1876.5V916.2H1873.5ZM1875.5 902.7H1878.5V917.8H1875.5ZM1877.5 905.7H1880.5V919.3H1877.5ZM1879.5 898.6H1882.5V915.2H1879.5ZM1881.5 896.5H1884.5V916.0H1881.5ZM1883.5 905.9H1886.5V916.4H1883.5ZM1885.5 902.7H1888.5V919.3H1885.5ZM1887.5 899.3H1890.5V915.8H1887.5ZM1889.5 899.4H1892.5V910.5H1889.5ZM1891.5 898.8H1894.5V915.6H1891.5ZM1893.5 900.1H1896.5V916.2H1893.5ZM1895.5 902.5H1898.5V921.4H1895.5ZM1897.5 903.8H1900.5V912.2H1897.5ZM1899.5 901.2H1902.5V913.2H1899.5ZM1901.5 902.8H1904.5V911.4H1901.5ZM1903.5 903.9H1906.5V913.1H1903.5ZM1905.5 899.9H1908.5V915.9H1905.5ZM1907.5 898.3H1910.5V911.7H1907.5ZM1909.5 899.3H1912.5V910.7H1909.5ZM1911.5 905.0H1914.5V913.0H1911.5ZM1913.5 899.1H1916.5V911.0H1913.5ZM1915.5 896.3H1918.5V909.4H1915.5ZM1917.5 895.5H1920.5V910.1H1917.5ZM1919.5 895.9H1922.5V908.6H1919.5ZM1921.5 896.2H1924.5V911.9H1921.5ZM1923.5 894.8H1926.5V907.8H1923.5ZM1925.5 898.3H1928.5V907.9H1925.5ZM1927.5 894.9H1930.5V914.0H1927.5ZM1929.5 898.3H1932.5V911.6H1929.5ZM1931.5 894.7H1934.5V906.7H1931.5ZM1933.5 890.9H1936.5V910.4H1933.5ZM1935.5 891.5H1938.5V909.6H1935.5ZM1937.5 890.9H1940.5V915.8H1937.5ZM1939.5 900.2H1942.5V909.1H1939.5ZM1941.5 899.0H1944.5V913.7H1941.5ZM1943.5 896.9H1946.5V909.7H1943.5ZM1945.5 897.1H1948.5V913.4H1945.5ZM1947.5 899.9H1950.5V912.5H1947.5ZM1949.5 902.4H1952.5V910.9H1949.5ZM1951.5 899.8H1954.5V912.0H1951.5ZM1953.5 899.1H1956.5V905.3H1953.5ZM1955.5 899.4H1958.5V912.1H1955.5ZM1957.5 899.3H1960.5V914.5H1957.5ZM1959.5 896.6H1962.5V913.9H1959.5ZM1961.5 899.2H1964.5V912.7H1961.5ZM1963.5 900.7H1966.5V912.2H1963.5ZM1965.5 906.8H1968.5V914.2H1965.5ZM1967.5 907.5H1970.5V917.6H1967.5ZM1969.5 899.4H1972.5V916.6H1969.5ZM1971.5 906.4H1974.5V918.5H1971.5ZM1973.5 903.5H1976.5V912.9H1973.5ZM1975.5 900.7H1978.5V914.2H1975.5ZM1977.5 902.3H1980.5V916.8H1977.5ZM1979.5 904.4H1982.5V920.4H1979.5Z"/>
<path fill="#00ff00" shape-rendering="crispEdges" d="M201.5 783.4H204.5V794.0H201.5ZM203.5 770.5H206.5V806.5H203.5ZM205.5 785.2H208.5V800.1H205.5ZM207.5 783.3H210.5V796.0H207.5ZM209.5 782.5H212.5V796.7H209.5ZM211.5 782.8H214.5V799.0H211.5ZM213.5 776.4H216.5V816.5H213.5ZM215.5 776.0H218.5V799.0H215.5ZM217.5 788.4H220.5V800.9H217.5ZM219.5 780.7H222.5V799.2H219.5ZM221.5 781.1H224.5V806.5H221.5ZM223.5 774.9H226.5V807.9H223.5ZM225.5 778.4H228.5V801.2H225.5ZM227.5 790.1H230.5V810.9H227.5ZM229.5 783.5H232.5V797.5H229.5ZM231.5 779.3H234.5V797.5H231.5ZM233.5 770.6H236.5V801.7H233.5ZM235.5 783.7H238.5V804.1H235.5ZM237.5 779.7H240.5V806.1H237.5ZM239.5 784.1H242.5V799.3H239.5ZM241.5 780.6H244.5V796.0H241.5ZM243.5 782.9H246.5V803.4H243.5ZM245.5 781.6H248.5V793.6H245.5ZM247.5 781.0H250.5V792.3H247.5ZM249.5 777.2H252.5V799.4H249.5ZM251.5 785.8H254.5V811.3H251.5ZM253.5 781.2H256.5V806.8H253.5ZM255.5 774.1H258.5V799.3H255.5ZM257.5 783.5H260.5V805.3H257.5ZM259.5 786.1H262.5V798.4H259.5ZM261.5 778.9H264.5V790.5H261.5ZM263.5 783.0H266.5V802.5H263.5ZM265.5 784.7H268.5V808.3H265.5ZM267.5 782.0H270.5V796.1H267.5ZM269.5 777.2H272.5V797.3H269.5ZM271.5 778.5H274.5V805.5H271.5ZM273.5 779.4H276.5V795.5H273.5ZM275.5 786.7H278.5V797.9H275.5ZM277.5 773.4H280.5V794.2H277.5ZM279.5 772.8H282.5V799.2H279.5ZM281.5 777.6H284.5V799.4H281.5ZM283.5 782.3H286.5V800.1H283.5ZM285.5 774.0H288.5V800.8H285.5ZM287.5 780.6H290.5V799.2H287.5ZM289.5 786.9H292.5V803.8H289.5ZM291.5 773.5H294.5V798.7H291.5ZM293.5 783.6H296.5V807.1H293.5ZM295.5 774.6H298.5V803.1H295.5ZM297.5 782.5H300.5V802.2H297.5ZM299.5 773.9H302.5V801.9H299.5ZM301.5 787.2H304.5V799.7H301.5ZM303.5 781.4H306.5V805.6H303.5ZM305.5 779.0H308.5V809.6H305.5ZM307.5 774.3H310.5V797.0H307.5ZM309.5 775.2H312.5V800.5H309.5ZM311.5 785.4H314.5V813.7H311.5ZM313.5 771.4H316.5V796.8H313.5ZM315.5 776.7H318.5V795.9H315.5ZM317.5 775.2H320.5V798.3H317.5ZM319.5 778.5H322.5V797.6H319.5ZM321.5 774.5H324.5V798.7H321.5ZM323.5 782.9H326.5V806.0H323.5ZM325.5 777.7H328.5V795.1H325.5ZM327.5 776.7H330.5V788.0H327.5ZM329.5 778.7H332.5V799.5H329.5ZM331.5 784.6H334.5V803.3H331.5ZM333.5 778.3H336.5V808.2H333.5ZM335.5 768.1H338.5V797.8H335.5ZM337.5 773.9H340.5V795.4H337.5ZM339.5 785.5H342.5V811.5H339.5ZM341.5 773.9H344.5V793.8H341.5ZM343.5 782.9H346.5V803.5H343.5ZM345.5 782.1H348.5V806.7H345.5ZM347.5 780.8H350.5V802.5H347.5ZM349.5 779.4H352.5V794.7H349.5ZM351.5 775.1H354.5V808.1H351.5ZM353.5 775.4H356.5V803.5H353.5ZM355.5 779.9H358.5V800.3H355.5ZM357.5 774.6H360.5V796.4H357.5ZM359.5 779.9H362.5V796.9H359.5ZM361.5 780.5H364.5V805.6H361.5ZM363.5 775.8H366.5V800.9H363.5ZM365.5 787.6H368.5V803.3H365.5ZM367.5 779.0H370.5V801.3H367.5ZM369.5 778.6H372.5V801.9H369.5ZM371.5 779.4H374.5V793.2H371.5ZM373.5 784.1H376.5V799.7H373.5ZM375.5 771.4H378.5V797.8H375.5ZM377.5 775.2H380.5V794.0H377.5ZM379.5 786.8H382.5V800.1H379.5ZM381.5 780.2H384.5V795.9H381.5ZM383.5 780.1H386.5V804.0H383.5ZM385.5 784.8H388.5V798.7H385.5ZM387.5 780.2H390.5V810.0H387.5ZM389.5 777.9H392.5V799.8H389.5ZM391.5 777.9H394.5V803.7H391.5ZM393.5 772.5H396.5V793.1H393.5ZM395.5 767.7H398.5V794.7H395.5ZM397.5 780.7H400.5V793.5H397.5ZM399.5 776.0H402.5V800.2H399.5ZM401.5 776.3H404.5V791.5H401.5ZM403.5 779.7H406.5V812.7H403.5ZM405.5 782.4H408.5V811.0H405.5ZM407.5 782.9H410.5V799.5H407.5ZM409.5 778.5H412.5V809.8H409.5ZM411.5 764.5H414.5V792.3H411.5ZM413.5 776.6H416.5V789.7H413.5ZM415.5 772.9H418.5V799.6H415.5ZM417.5 774.1H420.5V793.7H417.5ZM419.5 781.2H422.5V792.7H419.5ZM421.5 778.7H424.5V792.5H421.5ZM423.5 775.5H426.5V804.7H423.5ZM425.5 777.0H428.5V810.3H425.5ZM427.5 778.0H430.5V793.3H427.5ZM429.5 784.6H432.5V794.3H429.5ZM431.5 774.9H434.5V792.7H431.5ZM433.5 773.6H436.5V791.2H433.5ZM435.5 774.1H438.5V790.6H435.5ZM437.5 764.4H440.5V789.1H437.5ZM439.5 775.7H442.5V800.5H439.5ZM441.5 776.6H444.5V790.7H441.5ZM443.5 772.9H446.5V794.1H443.5ZM445.5 772.6H448.5V797.4H445.5ZM447.5 769.2H450.5V790.7H447.5ZM449.5 769.8H452.5V791.9H449.5ZM451.5 772.9H454.5V785.2H451.5ZM453.5 767.4H456.5V793.6H453.5ZM455.5 777.6H458.5V791.8H455.5ZM457.5 774.1H460.5V787.6H457.5ZM459.5 763.2H462.5V781.8H459.5ZM461.5 770.4H464.5V790.7H461.5ZM463.5 766.9H466.5V794.7H463.5ZM465.5 771.5H468.5V783.0H465.5ZM467.5 762.8H470.5V782.0H467.5ZM469.5 772.9H472.5V787.9H469.5ZM471.5 774.8H474.5V790.2H471.5ZM473.5 761.7H476.5V789.0H473.5ZM475.5 761.8H478.5V775.0H475.5ZM477.5 770.3H480.5V779.4H477.5ZM479.5 762.4H482.5V785.0H479.5ZM481.5 758.9H484.5V778.2H481.5ZM483.5 761.9H486.5V784.0H483.5ZM485.5 754.7H488.5V780.0H485.5ZM487.5 758.6H490.5V794.0H487.5ZM489.5 755.8H492.5V780.2H489.5ZM491.5 751.7H494.5V771.5H491.5ZM493.5 747.5H496.5V768.6H493.5ZM495.5 748.4H498.5V778.3H495.5ZM497.5 751.0H500.5V784.9H497.5ZM499.5 747.4H502.5V773.3H499.5ZM501.5 747.6H504.5V774.0H501.5ZM503.5 748.6H506.5V763.5H503.5ZM505.5 750.5H508.5V767.4H505.5ZM507.5 749.7H510.5V763.3H507.5ZM509.5 746.6H512.5V759.7H509.5ZM511.5 745.9H514.5V755.3H511.5ZM513.5 743.3H516.5V757.0H513.5ZM515.5 739.7H518.5V764.5H515.5ZM517.5 729.4H520.5V763.9H517.5ZM519.5 729.6H522.5V753.4H519.5ZM521.5 738.7H524.5V755.4H521.5ZM523.5 731.7H526.5V756.9H523.5ZM525.5 733.6H528.5V757.7H525.5ZM527.5 734.9H530.5V759.4H527.5ZM529.5 725.3H532.5V745.3H529.5ZM531.5 728.4H534.5V737.9H531.5ZM533.5 716.2H536.5V752.6H533.5ZM535.5 712.0H538.5V736.4H535.5ZM537.5 724.4H540.5V740.2H537.5ZM539.5 724.0H542.5V738.0H539.5ZM541.5 720.0H544.5V732.5H541.5ZM543.5 708.5H546.5V745.4H543.5ZM545.5 707.4H548.5V725.2H545.5ZM547.5 713.0H550.5V723.8H547.5ZM549.5 701.5H552.5V728.6H549.5ZM551.5 700.1H554.5V721.9H551.5ZM553.5 702.8H556.5V730.9H553.5ZM555.5 706.6H558.5V730.3H555.5ZM557.5 705.2H560.5V726.5H557.5ZM559.5 705.4H562.5V719.6H559.5ZM561.5 708.7H564.5V718.0H561.5ZM563.5 688.2H566.5V711.7H563.5ZM565.5 700.6H568.5V721.1H565.5ZM567.5 691.0H570.5V711.2H567.5ZM569.5 687.5H572.5V709.7H569.5ZM571.5 679.2H574.5V704.9H571.5ZM573.5 680.3H576.5V705.4H573.5ZM575.5 679.7H578.5V702.7H575.5ZM577.5 673.3H580.5V696.2H577.5ZM579.5 675.7H582.5V689.6H579.5ZM581.5 683.1H584.5V698.0H581.5ZM583.5 669.0H586.5V693.2H583.5ZM585.5 678.1H588.5V689.8H585.5ZM587.5 677.8H590.5V690.0H587.5ZM589.5 678.3H592.5V688.2H589.5ZM591.5 664.5H594.5V682.8H591.5ZM593.5 670.2H596.5V699.7H593.5ZM595.5 667.7H598.5V687.1H595.5ZM597.5 660.3H600.5V684.7H597.5ZM599.5 660.5H602.5V681.2H599.5ZM601.5 664.2H604.5V678.2H601.5ZM603.5 651.9H606.5V671.4H603.5ZM605.5 653.5H608.5V672.1H605.5ZM607.5 652.7H610.5V671.8H607.5ZM609.5 652.8H612.5V665.4H609.5ZM611.5 641.2H614.5V663.8H611.5ZM613.5 641.1H616.5V657.1H613.5ZM615.5 637.9H618.5V667.3H615.5ZM617.5 638.3H620.5V667.0H617.5ZM619.5 639.2H622.5V659.8H619.5ZM621.5 632.4H624.5V647.5H621.5ZM623.5 638.0H626.5V653.5H623.5ZM625.5 628.9H628.5V645.0H625.5ZM627.5 624.7H630.5V642.4H627.5ZM629.5 637.8H632.5V648.9H629.5ZM631.5 632.6H634.5V645.4H631.5ZM633.5 622.2H636.5V653.4H633.5ZM635.5 621.2H638.5V639.5H635.5ZM637.5 621.1H640.5V638.7H637.5ZM639.5 616.4H642.5V632.3H639.5ZM641.5 612.3H644.5V624.2H641.5ZM643.5 594.3H646.5V634.9H643.5ZM645.5 599.6H648.5V624.6H645.5ZM647.5 593.7H650.5V621.0H647.5ZM649.5 586.0H652.5V617.7H649.5ZM651.5 586.2H654.5V617.9H651.5ZM653.5 586.1H656.5V607.6H653.5ZM655.5 585.9H658.5V601.9H655.5ZM657.5 577.3H660.5V599.6H657.5ZM659.5 570.0H662.5V591.5H659.5ZM661.5 576.9H664.5V589.9H661.5ZM663.5 561.7H666.5V594.9H663.5ZM665.5 546.1H668.5V572.8H665.5ZM667.5 545.0H670.5V557.3H667.5ZM669.5 529.3H672.5V554.2H669.5ZM671.5 509.3H674.5V538.8H671.5ZM673.5 491.1H676.5V521.7H673.5ZM675.5 482.2H678.5V505.0H675.5ZM677.5 479.5H680.5V493.8H677.5ZM679.5 458.0H682.5V487.0H679.5ZM681.5 433.4H684.5V461.0H681.5ZM683.5 423.4H686.5V439.1H683.5ZM685.5 405.5H688.5V428.6H685.5ZM687.5 372.8H690.5V409.2H687.5ZM689.5 364.2H692.5V389.1H689.5ZM691.5 348.0H694.5V374.0H691.5ZM693.5 340.4H696.5V357.0H693.5ZM695.5 326.3H698.5V344.2H695.5ZM697.5 314.3H700.5V329.3H697.5ZM699.5 312.9H702.5V327.9H699.5ZM701.5 321.9H704.5V335.9H701.5ZM703.5 332.9H706.5V360.7H703.5ZM705.5 357.7H708.5V390.2H705.5ZM707.5 387.2H710.5V416.2H707.5ZM709.5 413.2H712.5V438.5H709.5ZM711.5 435.5H714.5V469.8H711.5ZM713.5 466.8H716.5V512.4H713.5ZM715.5 509.4H718.5V538.6H715.5ZM717.5 535.6H720.5V570.1H717.5ZM719.5 567.1H722.5V586.2H719.5ZM721.5 576.0H724.5V613.5H721.5ZM723.5 602.9H726.5V616.1H723.5ZM725.5 610.4H728.5V641.3H725.5ZM727.5 638.3H730.5V654.4H727.5ZM729.5 637.7H732.5V668.9H729.5ZM731.5 653.7H734.5V677.0H731.5ZM733.5 659.9H736.5V682.6H733.5ZM735.5 679.6H738.5V696.3H735.5ZM737.5 687.4H740.5V698.7H737.5ZM739.5 690.9H742.5V711.7H739.5ZM741.5 702.9H744.5V718.3H741.5ZM743.5 713.4H746.5V737.7H743.5ZM745.5 714.8H748.5V728.6H745.5ZM747.5 716.3H750.5V728.9H747.5ZM749.5 717.4H752.5V731.7H749.5ZM751.5 717.5H754.5V736.7H751.5ZM753.5 728.7H756.5V740.8H753.5ZM755.5 723.8H758.5V743.0H755.5ZM757.5 725.0H760.5V750.0H757.5ZM759.5 727.1H762.5V744.4H759.5ZM761.5 733.3H764.5V751.0H761.5ZM763.5 735.0H766.5V751.6H763.5ZM765.5 734.6H768.5V755.9H765.5ZM767.5 741.4H770.5V761.3H767.5ZM769.5 743.3H772.5V761.6H769.5ZM771.5 747.8H774.5V762.8H771.5ZM773.5 756.1H776.5V772.7H773.5ZM775.5 758.3H778.5V773.3H775.5ZM777.5 754.1H780.5V769.5H777.5ZM779.5 753.8H782.5V774.6H779.5ZM781.5 755.9H784.5V772.0H781.5ZM783.5 760.0H786.5V772.6H783.5ZM785.5 755.9H788.5V770.6H785.5ZM787.5 757.5H790.5V771.3H787.5ZM789.5 760.3H792.5V775.7H789.5ZM791.5 758.6H794.5V774.0H791.5ZM793.5 765.5H796.5V775.8H793.5ZM795.5 762.9H798.5V784.8H795.5ZM797.5 761.0H800.5V781.3H797.5ZM799.5 757.8H802.5V785.0H799.5ZM801.5 772.8H804.5V786.6H801.5ZM803.5 767.4H806.5V777.2H803.5ZM805.5 770.4H808.5V784.6H805.5ZM807.5 766.6H810.5V784.9H807.5ZM809.5 775.3H812.5V788.9H809.5ZM811.5 768.1H814.5V787.6H811.5ZM813.5 771.0H816.5V786.3H813.5ZM815.5 774.3H818.5V787.7H815.5ZM817.5 770.9H820.5V787.4H817.5ZM819.5 770.4H822.5V789.7H819.5ZM821.5 774.6H824.5V789.3H821.5ZM823.5 769.1H826.5V790.7H823.5ZM825.5 775.4H828.5V788.2H825.5ZM827.5 770.7H830.5V796.4H827.5ZM829.5 766.7H832.5V794.9H829.5ZM831.5 773.9H834.5V788.4H831.5ZM833.5 777.6H836.5V789.4H833.5ZM835.5 776.3H838.5V794.4H835.5ZM837.5 775.8H840.5V790.5H837.5ZM839.5 776.3H842.5V791.1H839.5ZM841.5 775.4H844.5V797.2H841.5ZM843.5 781.5H846.5V797.4H843.5ZM845.5 781.9H848.5V794.8H845.5ZM847.5 772.1H850.5V794.6H847.5ZM849.5 782.6H852.5V797.5H849.5ZM851.5 771.5H854.5V791.4H851.5ZM853.5 777.5H856.5V794.8H853.5ZM855.5 775.6H858.5V793.5H855.5ZM857.5 783.4H860.5V797.0H857.5ZM859.5 777.0H862.5V794.4H859.5ZM861.5 781.3H864.5V795.4H861.5ZM863.5 778.5H866.5V794.0H863.5ZM865.5 778.6H868.5V794.1H865.5ZM867.5 775.7H870.5V799.8H867.5ZM869.5 769.8H872.5V792.5H869.5ZM871.5 777.6H874.5V794.2H871.5ZM873.5 773.4H876.5V796.6H873.5ZM875.5 775.7H878.5V796.8H875.5ZM877.5 779.5H880.5V801.1H877.5ZM879.5 774.1H882.5V794.4H879.5ZM881.5 781.2H884.5V801.2H881.5ZM883.5 778.4H886.5V790.4H883.5ZM885.5 784.9H888.5V799.8H885.5ZM887.5 777.6H890.5V796.4H887.5ZM889.5 773.8H892.5V796.1H889.5ZM891.5 777.3H894.5V794.8H891.5ZM893.5 783.4H896.5V798.3H893.5ZM895.5 777.0H898.5V796.6H895.5ZM897.5 780.7H900.5V792.2H897.5ZM899.5 779.3H902.5V793.0H899.5ZM901.5 783.8H904.5V791.8H901.5ZM903.5 780.3H906.5V797.0H903.5ZM905.5 778.2H908.5V792.6H905.5ZM907.5 779.6H910.5V790.5H907.5ZM909.5 777.9H912.5V790.3H909.5ZM911.5 779.5H914.5V793.5H911.5ZM913.5 777.3H916.5V797.9H913.5ZM915.5 779.9H918.5V801.3H915.5ZM917.5 782.5H920.5V794.0H917.5ZM919.5 783.4H922.5V791.8H919.5ZM921.5 774.5H924.5V800.2H921.5ZM923.5 778.0H926.5V801.6H923.5ZM925.5 780.0H928.5V795.0H925.5ZM927.5 781.4H930.5V793.2H927.5ZM929.5 784.0H932.5V796.5H929.5ZM931.5 779.5H934.5V801.6H931.5ZM933.5 773.9H936.5V795.2H933.5ZM935.5 785.0H938.5V794.8H935.5ZM937.5 784.1H940.5V794.6H937.5ZM939.5 775.1H942.5V795.0H939.5ZM941.5 780.2H944.5V792.4H941.5ZM943.5 780.4H946.5V799.3H943.5ZM945.5 779.9H948.5V798.3H945.5ZM947.5 779.9H950.5V800.0H947.5ZM949.5 770.8H952.5V795.2H949.5ZM951.5 773.0H954.5V796.7H951.5ZM953.5 778.0H956.5V798.4H953.5ZM955.5 775.2H958.5V791.6H955.5ZM957.5 783.3H960.5V790.5H957.5ZM959.5 781.1H962.5V789.7H959.5ZM961.5 783.0H964.5V788.6H961.5ZM963.5 778.6H966.5V790.4H963.5ZM965.5 776.8H968.5V793.6H965.5ZM967.5 775.1H970.5V793.8H967.5ZM969.5 782.0H972.5V789.9H969.5ZM971.5 776.2H974.5V793.2H971.5ZM973.5 780.8H976.5V797.5H973.5ZM975.5 779.2H978.5V792.0H975.5ZM977.5 772.7H980.5V788.7H977.5ZM979.5 776.9H982.5V788.6H979.5ZM981.5 777.5H984.5V791.7H981.5ZM983.5 772.0H986.5V791.5H983.5ZM985.5 776.6H988.5V787.0H985.5ZM987.5 777.4H990.5V787.6H987.5ZM989.5 776.7H992.5V788.9H989.5ZM991.5 772.6H994.5V783.9H991.5ZM993.5 769.4H996.5V784.8H993.5ZM995.5 767.8H998.5V783.8H995.5ZM997.5 766.2H1000.5V784.1H997.5ZM999.5 776.2H1002.5V787.5H999.5ZM1001.5 769.2H1004.5V784.9H1001.5ZM1003.5 771.9H1006.5V789.3H1003.5ZM1005.5 774.2H1008.5V783.5H1005.5ZM1007.5 771.0H1010.5V782.8H1007.5ZM1009.5 758.5H1012.5V776.6H1009.5ZM1011.5 770.9H1014.5V785.2H1011.5ZM1013.5 768.1H1016.5V778.1H1013.5ZM1015.5 766.0H1018.5V784.3H1015.5ZM1017.5 763.1H1020.5V779.6H1017.5ZM1019.5 765.5H1022.5V780.5H1019.5ZM1021.5 765.8H1024.5V779.1H1021.5ZM1023.5 751.8H1026.5V778.2H1023.5ZM1025.5 756.2H1028.5V779.9H1025.5ZM1027.5 757.9H1030.5V774.2H1027.5ZM1029.5 759.7H1032.5V788.3H1029.5ZM1031.5 758.5H1034.5V776.0H1031.5ZM1033.5 756.8H1036.5V774.4H1033.5ZM1035.5 754.9H1038.5V773.8H1035.5ZM1037.5 758.6H1040.5V772.5H1037.5ZM1039.5 759.2H1042.5V770.7H1039.5ZM1041.5 753.1H1044.5V770.1H1041.5ZM1043.5 751.4H1046.5V771.9H1043.5ZM1045.5 751.2H1048.5V766.1H1045.5ZM1047.5 756.2H1050.5V765.9H1047.5ZM1049.5 750.4H1052.5V772.5H1049.5ZM1051.5 743.1H1054.5V759.9H1051.5ZM1053.5 746.0H1056.5V766.3H1053.5ZM1055.5 744.0H1058.5V757.8H1055.5ZM1057.5 744.9H1060.5V763.2H1057.5ZM1059.5 731.6H1062.5V749.1H1059.5ZM1061.5 736.7H1064.5V752.7H1061.5ZM1063.5 733.8H1066.5V747.2H1063.5ZM1065.5 722.1H1068.5V743.7H1065.5ZM1067.5 716.6H1070.5V735.4H1067.5ZM1069.5 714.0H1072.5V725.0H1069.5ZM1071.5 694.2H1074.5V724.9H1071.5ZM1073.5 693.4H1076.5V717.2H1073.5ZM1075.5 702.4H1078.5V710.2H1075.5ZM1077.5 694.3H1080.5V711.3H1077.5ZM1079.5 690.1H1082.5V704.8H1079.5ZM1081.5 678.5H1084.5V699.3H1081.5ZM1083.5 677.0H1086.5V690.0H1083.5ZM1085.5 672.4H1088.5V683.2H1085.5ZM1087.5 671.2H1090.5V685.8H1087.5ZM1089.5 666.0H1092.5V680.5H1089.5ZM1091.5 662.0H1094.5V679.2H1091.5ZM1093.5 659.3H1096.5V676.9H1093.5ZM1095.5 661.4H1098.5V675.5H1095.5ZM1097.5 666.5H1100.5V679.6H1097.5ZM1099.5 661.2H1102.5V678.7H1099.5ZM1101.5 656.1H1104.5V672.8H1101.5ZM1103.5 655.3H1106.5V675.1H1103.5ZM1105.5 650.0H1108.5V680.9H1105.5ZM1107.5 662.6H1110.5V676.3H1107.5ZM1109.5 669.6H1112.5V675.7H1109.5ZM1111.5 670.3H1114.5V681.4H1111.5ZM1113.5 666.2H1116.5V682.9H1113.5ZM1115.5 662.8H1118.5V682.7H1115.5ZM1117.5 667.2H1120.5V676.6H1117.5ZM1119.5 664.1H1122.5V678.5H1119.5ZM1121.5 661.3H1124.5V676.2H1121.5ZM1123.5 663.3H1126.5V680.6H1123.5ZM1125.5 647.8H1128.5V679.5H1125.5ZM1127.5 649.2H1130.5V666.9H1127.5ZM1129.5 637.1H1132.5V652.9H1129.5ZM1131.5 607.7H1134.5V640.1H1131.5ZM1133.5 588.7H1136.5V621.1H1133.5ZM1135.5 559.3H1138.5V596.1H1135.5ZM1137.5 542.1H1140.5V562.3H1137.5ZM1139.5 541.9H1142.5V567.6H1139.5ZM1141.5 564.6H1144.5V605.9H1141.5ZM1143.5 602.9H1146.5V668.7H1143.5ZM1145.5 665.7H1148.5V691.0H1145.5ZM1147.5 685.6H1150.5V703.3H1147.5ZM1149.5 689.6H1152.5V708.8H1149.5ZM1151.5 692.1H1154.5V714.4H1151.5ZM1153.5 697.1H1156.5V710.0H1153.5ZM1155.5 700.4H1158.5V716.8H1155.5ZM1157.5 700.2H1160.5V726.3H1157.5ZM1159.5 703.7H1162.5V718.4H1159.5ZM1161.5 710.6H1164.5V720.4H1161.5ZM1163.5 708.2H1166.5V720.0H1163.5ZM1165.5 713.9H1168.5V723.8H1165.5ZM1167.5 711.3H1170.5V724.7H1167.5ZM1169.5 700.5H1172.5V738.4H1169.5ZM1171.5 702.7H1174.5V727.8H1171.5ZM1173.5 717.0H1176.5V735.7H1173.5ZM1175.5 715.7H1178.5V728.0H1175.5ZM1177.5 709.4H1180.5V731.2H1177.5ZM1179.5 720.7H1182.5V733.1H1179.5ZM1181.5 712.6H1184.5V732.2H1181.5ZM1183.5 724.9H1186.5V739.6H1183.5ZM1185.5 719.2H1188.5V734.6H1185.5ZM1187.5 718.4H1190.5V733.4H1187.5ZM1189.5 729.3H1192.5V742.4H1189.5ZM1191.5 725.0H1194.5V745.4H1191.5ZM1193.5 726.6H1196.5V736.9H1193.5ZM1195.5 725.6H1198.5V737.5H1195.5ZM1197.5 726.3H1200.5V748.0H1197.5ZM1199.5 730.6H1202.5V748.1H1199.5ZM1201.5 733.6H1204.5V748.6H1201.5ZM1203.5 741.0H1206.5V751.0H1203.5ZM1205.5 736.2H1208.5V749.8H1205.5ZM1207.5 737.5H1210.5V750.7H1207.5ZM1209.5 740.3H1212.5V752.9H1209.5ZM1211.5 739.4H1214.5V754.4H1211.5ZM1213.5 736.7H1216.5V755.8H1213.5ZM1215.5 738.1H1218.5V756.8H1215.5ZM1217.5 742.2H1220.5V754.7H1217.5ZM1219.5 742.3H1222.5V752.6H1219.5ZM1221.5 741.6H1224.5V760.3H1221.5ZM1223.5 742.7H1226.5V761.2H1223.5ZM1225.5 748.3H1228.5V761.7H1225.5ZM1227.5 743.6H1230.5V765.6H1227.5ZM1229.5 752.1H1232.5V767.0H1229.5ZM1231.5 749.2H1234.5V760.3H1231.5ZM1233.5 748.0H1236.5V763.6H1233.5ZM1235.5 749.2H1238.5V761.8H1235.5ZM1237.5 752.0H1240.5V762.1H1237.5ZM1239.5 742.5H1242.5V760.3H1239.5ZM1241.5 752.0H1244.5V766.0H1241.5ZM1243.5 755.9H1246.5V769.2H1243.5ZM1245.5 752.1H1248.5V765.1H1245.5ZM1247.5 751.0H1250.5V771.3H1247.5ZM1249.5 757.4H1252.5V771.8H1249.5ZM1251.5 757.5H1254.5V771.6H1251.5ZM1253.5 757.6H1256.5V767.6H1253.5ZM1255.5 756.1H1258.5V771.7H1255.5ZM1257.5 753.9H1260.5V765.8H1257.5ZM1259.5 754.1H1262.5V764.4H1259.5ZM1261.5 751.6H1264.5V770.8H1261.5ZM1263.5 755.1H1266.5V769.3H1263.5ZM1265.5 756.6H1268.5V768.8H1265.5ZM1267.5 753.0H1270.5V769.4H1267.5ZM1269.5 755.2H1272.5V768.5H1269.5ZM1271.5 755.6H1274.5V763.1H1271.5ZM1273.5 754.4H1276.5V770.8H1273.5ZM1275.5 756.3H1278.5V766.7H1275.5ZM1277.5 754.6H1280.5V768.0H1277.5ZM1279.5 750.3H1282.5V768.2H1279.5ZM1281.5 753.9H1284.5V773.1H1281.5ZM1283.5 758.0H1286.5V768.3H1283.5ZM1285.5 753.3H1288.5V765.2H1285.5ZM1287.5 756.2H1290.5V768.4H1287.5ZM1289.5 756.0H1292.5V771.4H1289.5ZM1291.5 754.7H1294.5V769.8H1291.5ZM1293.5 758.3H1296.5V771.3H1293.5ZM1295.5 758.8H1298.5V773.8H1295.5ZM1297.5 759.1H1300.5V775.5H1297.5ZM1299.5 755.8H1302.5V770.3H1299.5ZM1301.5 756.5H1304.5V765.3H1301.5ZM1303.5 758.1H1306.5V771.4H1303.5ZM1305.5 752.8H1308.5V767.4H1305.5ZM1307.5 758.1H1310.5V771.5H1307.5ZM1309.5 755.7H1312.5V776.5H1309.5ZM1311.5 756.5H1314.5V772.5H1311.5ZM1313.5 757.2H1316.5V769.7H1313.5ZM1315.5 757.5H1318.5V771.9H1315.5ZM1317.5 761.0H1320.5V772.8H1317.5ZM1319.5 752.8H1322.5V771.5H1319.5ZM1321.5 749.4H1324.5V763.9H1321.5ZM1323.5 757.0H1326.5V767.2H1323.5ZM1325.5 751.9H1328.5V767.4H1325.5ZM1327.5 755.3H1330.5V766.2H1327.5ZM1329.5 754.0H1332.5V767.9H1329.5ZM1331.5 749.4H1334.5V765.9H1331.5ZM1333.5 757.8H1336.5V765.9H1333.5ZM1335.5 756.7H1338.5V769.5H1335.5ZM1337.5 757.2H1340.5V766.7H1337.5ZM1339.5 758.9H1342.5V769.6H1339.5ZM1341.5 754.1H1344.5V772.4H1341.5ZM1343.5 752.4H1346.5V770.4H1343.5ZM1345.5 750.5H1348.5V765.7H1345.5ZM1347.5 756.8H1350.5V768.1H1347.5ZM1349.5 752.3H1352.5V763.0H1349.5ZM1351.5 747.8H1354.5V763.1H1351.5ZM1353.5 757.4H1356.5V768.2H1353.5ZM1355.5 753.7H1358.5V766.9H1355.5ZM1357.5 754.6H1360.5V768.0H1357.5ZM1359.5 758.5H1362.5V770.0H1359.5ZM1361.5 756.3H1364.5V766.4H1361.5ZM1363.5 750.4H1366.5V769.2H1363.5ZM1365.5 756.4H1368.5V769.6H1365.5ZM1367.5 760.8H1370.5V771.2H1367.5ZM1369.5 761.2H1372.5V770.8H1369.5ZM1371.5 760.3H1374.5V775.0H1371.5ZM1373.5 766.9H1376.5V774.9H1373.5ZM1375.5 765.8H1378.5V772.3H1375.5ZM1377.5 764.7H1380.5V778.2H1377.5ZM1379.5 765.9H1382.5V776.2H1379.5ZM1381.5 765.7H1384.5V783.1H1381.5ZM1383.5 764.5H1386.5V778.3H1383.5ZM1385.5 772.4H1388.5V786.9H1385.5ZM1387.5 771.8H1390.5V785.5H1387.5ZM1389.5 769.0H1392.5V786.3H1389.5ZM1391.5 772.3H1394.5V784.8H1391.5ZM1393.5 774.9H1396.5V787.3H1393.5ZM1395.5 772.7H1398.5V794.7H1395.5ZM1397.5 770.7H1400.5V788.2H1397.5ZM1399.5 772.8H1402.5V791.5H1399.5ZM1401.5 770.0H1404.5V791.3H1401.5ZM1403.5 775.6H1406.5V786.3H1403.5ZM1405.5 773.1H1408.5V790.0H1405.5ZM1407.5 768.5H1410.5V787.3H1407.5ZM1409.5 770.8H1412.5V786.1H1409.5ZM1411.5 773.3H1414.5V785.7H1411.5ZM1413.5 774.1H1416.5V789.0H1413.5ZM1415.5 773.4H1418.5V787.1H1415.5ZM1417.5 774.3H1420.5V792.8H1417.5ZM1419.5 775.2H1422.5V789.4H1419.5ZM1421.5 772.8H1424.5V787.4H1421.5ZM1423.5 770.5H1426.5V787.5H1423.5ZM1425.5 774.5H1428.5V789.8H1425.5ZM1427.5 774.4H1430.5V794.0H1427.5ZM1429.5 768.8H1432.5V787.2H1429.5ZM1431.5 777.1H1434.5V790.3H1431.5ZM1433.5 773.2H1436.5V793.2H1433.5ZM1435.5 771.5H1438.5V791.8H1435.5ZM1437.5 777.9H1440.5V792.9H1437.5ZM1439.5 776.9H1442.5V791.5H1439.5ZM1441.5 776.8H1444.5V792.8H1441.5ZM1443.5 776.8H1446.5V790.6H1443.5ZM1445.5 779.3H1448.5V787.0H1445.5ZM1447.5 778.9H1450.5V786.6H1447.5ZM1449.5 777.5H1452.5V787.1H1449.5ZM1451.5 776.9H1454.5V787.6H1451.5ZM1453.5 767.4H1456.5V787.3H1453.5ZM1455.5 777.2H1458.5V790.5H1455.5ZM1457.5 773.4H1460.5V788.6H1457.5ZM1459.5 778.6H1462.5V788.0H1459.5ZM1461.5 778.6H1464.5V789.3H1461.5ZM1463.5 776.0H1466.5V788.2H1463.5ZM1465.5 781.0H1468.5V793.4H1465.5ZM1467.5 772.8H1470.5V789.9H1467.5ZM1469.5 772.1H1472.5V789.9H1469.5ZM1471.5 778.2H1474.5V791.2H1471.5ZM1473.5 778.4H1476.5V790.2H1473.5ZM1475.5 775.6H1478.5V784.6H1475.5ZM1477.5 774.5H1480.5V791.4H1477.5ZM1479.5 778.6H1482.5V785.6H1479.5ZM1481.5 779.0H1484.5V793.0H1481.5ZM1483.5 777.1H1486.5V793.9H1483.5ZM1485.5 778.0H1488.5V788.5H1485.5ZM1487.5 777.8H1490.5V798.5H1487.5ZM1489.5 778.5H1492.5V795.1H1489.5ZM1491.5 782.1H1494.5V790.5H1491.5ZM1493.5 773.4H1496.5V792.0H1493.5ZM1495.5 771.6H1498.5V791.1H1495.5ZM1497.5 780.5H1500.5V789.7H1497.5ZM1499.5 770.8H1502.5V792.0H1499.5ZM1501.5 774.7H1504.5V784.3H1501.5ZM1503.5 773.6H1506.5V796.4H1503.5ZM1505.5 775.0H1508.5V791.4H1505.5ZM1507.5 778.0H1510.5V789.7H1507.5ZM1509.5 778.1H1512.5V792.5H1509.5ZM1511.5 779.0H1514.5V792.5H1511.5ZM1513.5 775.4H1516.5V787.9H1513.5ZM1515.5 779.4H1518.5V786.8H1515.5ZM1517.5 774.6H1520.5V788.5H1517.5ZM1519.5 778.3H1522.5V792.0H1519.5ZM1521.5 776.0H1524.5V787.8H1521.5ZM1523.5 778.7H1526.5V788.7H1523.5ZM1525.5 774.8H1528.5V785.5H1525.5ZM1527.5 777.7H1530.5V788.2H1527.5ZM1529.5 777.1H1532.5V789.5H1529.5ZM1531.5 777.2H1534.5V787.7H1531.5ZM1533.5 776.5H1536.5V791.2H1533.5ZM1535.5 778.7H1538.5V794.3H1535.5ZM1537.5 779.5H1540.5V787.9H1537.5ZM1539.5 775.8H1542.5V787.4H1539.5ZM1541.5 778.9H1544.5V789.0H1541.5ZM1543.5 777.6H1546.5V788.6H1543.5ZM1545.5 775.4H1548.5V784.6H1545.5ZM1547.5 767.8H1550.5V785.1H1547.5ZM1549.5 780.6H1552.5V789.1H1549.5ZM1551.5 779.4H1554.5V787.5H1551.5ZM1553.5 774.3H1556.5V790.2H1553.5ZM1555.5 774.7H1558.5V786.2H1555.5ZM1557.5 774.4H1560.5V788.5H1557.5ZM1559.5 777.3H1562.5V784.9H1559.5ZM1561.5 779.9H1564.5V787.9H1561.5ZM1563.5 775.7H1566.5V788.3H1563.5ZM1565.5 774.2H1568.5V786.2H1565.5ZM1567.5 775.5H1570.5V786.8H1567.5ZM1569.5 779.0H1572.5V787.9H1569.5ZM1571.5 772.9H1574.5V793.7H1571.5ZM1573.5 777.8H1576.5V788.7H1573.5ZM1575.5 779.9H1578.5V791.5H1575.5ZM1577.5 782.1H1580.5V790.6H1577.5ZM1579.5 771.7H1582.5V788.8H1579.5ZM1581.5 775.7H1584.5V786.1H1581.5ZM1583.5 774.4H1586.5V788.5H1583.5ZM1585.5 778.7H1588.5V787.9H1585.5ZM1587.5 776.3H1590.5V787.5H1587.5ZM1589.5 776.8H1592.5V788.2H1589.5ZM1591.5 775.9H1594.5V786.8H1591.5ZM1593.5 776.2H1596.5V784.6H1593.5ZM1595.5 776.9H1598.5V788.6H1595.5ZM1597.5 780.1H1600.5V789.7H1597.5ZM1599.5 776.0H1602.5V789.8H1599.5ZM1601.5 778.7H1604.5V789.7H1601.5ZM1603.5 779.3H1606.5V788.3H1603.5ZM1605.5 775.4H1608.5V791.9H1605.5ZM1607.5 773.2H1610.5V795.1H1607.5ZM1609.5 767.7H1612.5V787.1H1609.5ZM1611.5 772.6H1614.5V790.2H1611.5ZM1613.5 775.7H1616.5V787.6H1613.5ZM1615.5 759.5H1618.5V778.7H1615.5ZM1617.5 762.3H1620.5V776.8H1617.5ZM1619.5 762.1H1622.5V777.6H1619.5ZM1621.5 765.8H1624.5V777.7H1621.5ZM1623.5 770.1H1626.5V780.0H1623.5ZM1625.5 774.4H1628.5V791.3H1625.5ZM1627.5 770.5H1630.5V784.6H1627.5ZM1629.5 771.9H1632.5V784.5H1629.5ZM1631.5 777.1H1634.5V784.4H1631.5ZM1633.5 780.3H1636.5V791.1H1633.5ZM1635.5 777.7H1638.5V791.2H1635.5ZM1637.5 776.7H1640.5V791.4H1637.5ZM1639.5 777.7H1642.5V788.3H1639.5ZM1641.5 775.2H1644.5V783.9H1641.5ZM1643.5 774.0H1646.5V787.3H1643.5ZM1645.5 777.5H1648.5V788.4H1645.5ZM1647.5 773.1H1650.5V790.3H1647.5ZM1649.5 779.1H1652.5V793.5H1649.5ZM1651.5 778.1H1654.5V788.1H1651.5ZM1653.5 777.6H1656.5V792.3H1653.5ZM1655.5 771.6H1658.5V787.4H1655.5ZM1657.5 776.3H1660.5V791.4H1657.5ZM1659.5 776.8H1662.5V785.3H1659.5ZM1661.5 774.6H1664.5V791.8H1661.5ZM1663.5 778.2H1666.5V788.9H1663.5ZM1665.5 779.7H1668.5V788.6H1665.5ZM1667.5 775.0H1670.5V787.7H1667.5ZM1669.5 774.1H1672.5V790.0H1669.5ZM1671.5 776.6H1674.5V785.2H1671.5ZM1673.5 775.4H1676.5V787.5H1673.5ZM1675.5 777.0H1678.5V788.4H1675.5ZM1677.5 775.6H1680.5V784.3H1677.5ZM1679.5 773.8H1682.5V787.8H1679.5ZM1681.5 775.3H1684.5V789.0H1681.5ZM1683.5 773.5H1686.5V785.9H1683.5ZM1685.5 775.3H1688.5V791.7H1685.5ZM1687.5 773.8H1690.5V787.9H1687.5ZM1689.5 775.8H1692.5V791.9H1689.5ZM1691.5 782.7H1694.5V791.1H1691.5ZM1693.5 780.5H1696.5V789.5H1693.5ZM1695.5 778.4H1698.5V785.9H1695.5ZM1697.5 779.7H1700.5V794.0H1697.5ZM1699.5 779.3H1702.5V789.8H1699.5ZM1701.5 777.2H1704.5V787.1H1701.5ZM1703.5 776.3H1706.5V784.5H1703.5ZM1705.5 776.5H1708.5V794.2H1705.5ZM1707.5 776.2H1710.5V792.0H1707.5ZM1709.5 775.2H1712.5V789.4H1709.5ZM1711.5 772.1H1714.5V789.1H1711.5ZM1713.5 779.4H1716.5V790.7H1713.5ZM1715.5 777.8H1718.5V791.7H1715.5ZM1717.5 776.1H1720.5V791.9H1717.5ZM1719.5 774.8H1722.5V786.3H1719.5ZM1721.5 775.1H1724.5V786.1H1721.5ZM1723.5 774.4H1726.5V787.5H1723.5ZM1725.5 782.2H1728.5V792.0H1725.5ZM1727.5 773.7H1730.5V787.0H1727.5ZM1729.5 775.1H1732.5V785.7H1729.5ZM1731.5 779.6H1734.5V792.7H1731.5ZM1733.5 777.6H1736.5V792.4H1733.5ZM1735.5 779.0H1738.5V790.7H1735.5ZM1737.5 779.4H1740.5V787.2H1737.5ZM1739.5 780.9H1742.5V791.2H1739.5ZM1741.5 778.8H1744.5V790.1H1741.5ZM1743.5 776.0H1746.5V788.9H1743.5ZM1745.5 780.3H1748.5V791.3H1745.5ZM1747.5 776.9H1750.5V790.7H1747.5ZM1749.5 784.0H1752.5V793.0H1749.5ZM1751.5 777.6H1754.5V788.8H1751.5ZM1753.5 778.3H1756.5V789.3H1753.5ZM1755.5 779.0H1758.5V788.9H1755.5ZM1757.5 779.6H1760.5V788.7H1757.5ZM1759.5 772.8H1762.5V793.2H1759.5ZM1761.5 780.3H1764.5V795.7H1761.5ZM1763.5 773.8H1766.5V789.1H1763.5ZM1765.5 778.0H1768.5V790.5H1765.5ZM1767.5 776.4H1770.5V796.7H1767.5ZM1769.5 774.4H1772.5V788.7H1769.5ZM1771.5 773.5H1774.5V786.0H1771.5ZM1773.5 778.6H1776.5V793.1H1773.5ZM1775.5 776.0H1778.5V787.7H1775.5ZM1777.5 781.5H1780.5V795.0H1777.5ZM1779.5 772.5H1782.5V790.1H1779.5ZM1781.5 774.8H1784.5V790.0H1781.5ZM1783.5 780.8H1786.5V793.5H1783.5ZM1785.5 772.6H1788.5V790.9H1785.5ZM1787.5 772.9H1790.5V792.0H1787.5ZM1789.5 777.3H1792.5V789.3H1789.5ZM1791.5 777.5H1794.5V793.8H1791.5ZM1793.5 777.7H1796.5V787.1H1793.5ZM1795.5 774.9H1798.5V788.0H1795.5ZM1797.5 778.4H1800.5V788.4H1797.5ZM1799.5 773.3H1802.5V788.5H1799.5ZM1801.5 768.8H1804.5V783.1H1801.5ZM1803.5 776.0H1806.5V790.1H1803.5ZM1805.5 777.2H1808.5V790.0H1805.5ZM1807.5 777.1H1810.5V789.1H1807.5ZM1809.5 780.5H1812.5V786.8H1809.5ZM1811.5 775.4H1814.5V786.1H1811.5ZM1813.5 780.9H1816.5V791.3H1813.5ZM1815.5 777.4H1818.5V789.0H1815.5ZM1817.5 779.7H1820.5V788.6H1817.5ZM1819.5 778.6H1822.5V788.2H1819.5ZM1821.5 768.4H1824.5V787.7H1821.5ZM1823.5 779.0H1826.5V792.0H1823.5ZM1825.5 782.0H1828.5V793.1H1825.5ZM1827.5 777.2H1830.5V790.5H1827.5ZM1829.5 773.2H1832.5V792.1H1829.5ZM1831.5 773.7H1834.5V791.5H1831.5ZM1833.5 781.6H1836.5V787.0H1833.5ZM1835.5 775.1H1838.5V788.7H1835.5ZM1837.5 778.4H1840.5V788.9H1837.5ZM1839.5 780.9H1842.5V788.2H1839.5ZM1841.5 775.4H1844.5V789.5H1841.5ZM1843.5 777.2H1846.5V786.9H1843.5ZM1845.5 776.0H1848.5V788.1H1845.5ZM1847.5 774.3H1850.5V788.3H1847.5ZM1849.5 779.9H1852.5V793.2H1849.5ZM1851.5 776.1H1854.5V792.2H1851.5ZM1853.5 779.2H1856.5V793.3H1853.5ZM1855.5 776.4H1858.5V795.7H1855.5ZM1857.5 778.8H1860.5V790.4H1857.5ZM1859.5 777.1H1862.5V786.7H1859.5ZM1861.5 780.2H1864.5V789.7H1861.5ZM1863.5 778.5H1866.5V791.7H1863.5ZM1865.5 777.9H1868.5V788.8H1865.5ZM1867.5 777.2H1870.5V791.7H1867.5ZM1869.5 776.7H1872.5V795.0H1869.5ZM1871.5 773.9H1874.5V790.7H1871.5ZM1873.5 775.5H1876.5V785.7H1873.5ZM1875.5 775.4H1878.5V786.7H1875.5ZM1877.5 777.3H1880.5V786.7H1877.5ZM1879.5 772.0H1882.5V786.3H1879.5ZM1881.5 775.8H1884.5V787.7H1881.5ZM1883.5 774.7H1886.5V790.3H1883.5ZM1885.5 773.2H1888.5V791.0H1885.5ZM1887.5 776.8H1890.5V786.7H1887.5ZM1889.5 776.7H1892.5V783.5H1889.5ZM1891.5 770.8H1894.5V781.5H1891.5ZM1893.5 773.9H1896.5V784.7H1893.5ZM1895.5 774.4H1898.5V784.1H1895.5ZM1897.5 770.7H1900.5V783.9H1897.5ZM1899.5 775.6H1902.5V787.7H1899.5ZM1901.5 772.7H1904.5V787.6H1901.5ZM1903.5 770.0H1906.5V786.7H1903.5ZM1905.5 767.9H1908.5V784.0H1905.5ZM1907.5 772.6H1910.5V782.4H1907.5ZM1909.5 767.8H1912.5V781.8H1909.5ZM1911.5 761.7H1914.5V783.9H1911.5ZM1913.5 766.9H1916.5V778.1H1913.5ZM1915.5 767.7H1918.5V776.8H1915.5ZM1917.5 767.5H1920.5V779.6H1917.5ZM1919.5 768.1H1922.5V777.4H1919.5ZM1921.5 764.7H1924.5V775.2H1921.5ZM1923.5 764.2H1926.5V773.1H1923.5ZM1925.5 764.7H1928.5V777.0H1925.5ZM1927.5 764.5H1930.5V774.6H1927.5ZM1929.5 764.9H1932.5V774.7H1929.5ZM1931.5 767.6H1934.5V775.2H1931.5ZM1933.5 769.2H1936.5V780.4H1933.5ZM1935.5 768.5H1938.5V781.4H1935.5ZM1937.5 771.8H1940.5V785.0H1937.5ZM1939.5 771.8H1942.5V778.5H1939.5ZM1941.5 767.9H1944.5V781.1H1941.5ZM1943.5 771.7H1946.5V782.3H1943.5ZM1945.5 773.7H1948.5V786.2H1945.5ZM1947.5 772.4H1950.5V780.1H1947.5ZM1949.5 772.4H1952.5V788.3H1949.5ZM1951.5 774.4H1954.5V786.6H1951.5ZM1953.5 771.3H1956.5V787.1H1953.5ZM1955.5 776.8H1958.5V790.7H1955.5ZM1957.5 772.3H1960.5V787.5H1957.5ZM1959.5 772.2H1962.5V780.2H1959.5ZM1961.5 777.2H1964.5V788.4H1961.5ZM1963.5 775.6H1966.5V793.9H1963.5ZM1965.5 773.2H1968.5V789.5H1965.5ZM1967.5 776.0H1970.5V790.7H1967.5ZM1969.5 777.7H1972.5V789.1H1969.5ZM1971.5 778.5H1974.5V787.5H1971.5ZM1973.5 780.1H1976.5V796.6H1973.5ZM1975.5 779.1H1978.5V801.6H1975.5ZM1977.5 784.0H1980.5V798.5H1977.5ZM1979.5 784.4H1982.5V795.3H1979.5Z"/>
<path fill="#ff8000" shape-rendering="crispEdges" d="M201.5 572.3H204.5V583.8H201.5ZM203.5 554.2H206.5V584.8H203.5ZM205.5 568.6H208.5V580.8H205.5ZM207.5 561.3H210.5V580.3H207.5ZM209.5 560.7H212.5V581.0H209.5ZM211.5 567.1H214.5V589.7H211.5ZM213.5 536.7H216.5V574.5H213.5ZM215.5 556.6H218.5V599.9H215.5ZM217.5 563.1H220.5V599.0H217.5ZM219.5 549.9H222.5V575.6H219.5ZM221.5 556.3H224.5V573.4H221.5ZM223.5 564.2H226.5V583.2H223.5ZM225.5 560.3H228.5V584.6H225.5ZM227.5 557.1H230.5V584.9H227.5ZM229.5 554.9H232.5V576.9H229.5ZM231.5 549.8H234.5V576.0H231.5ZM233.5 550.0H236.5V585.7H233.5ZM235.5 560.4H238.5V588.7H235.5ZM237.5 542.9H240.5V584.6H237.5ZM239.5 550.2H242.5V583.1H239.5ZM241.5 552.6H244.5V584.5H241.5ZM243.5 567.8H246.5V584.4H243.5ZM245.5 530.7H248.5V586.6H245.5ZM247.5 535.0H250.5V577.6H247.5ZM249.5 558.4H252.5V585.7H249.5ZM251.5 551.7H254.5V588.6H251.5ZM253.5 562.0H256.5V595.3H253.5ZM255.5 561.6H258.5V584.1H255.5ZM257.5 557.7H260.5V592.4H257.5ZM259.5 539.9H262.5V605.1H259.5ZM261.5 555.0H264.5V580.8H261.5ZM263.5 563.0H266.5V580.1H263.5ZM265.5 558.7H268.5V576.1H265.5ZM267.5 556.6H270.5V591.5H267.5ZM269.5 565.3H272.5V580.1H269.5ZM271.5 556.1H274.5V583.8H271.5ZM273.5 557.4H276.5V582.6H273.5ZM275.5 544.0H278.5V593.6H275.5ZM277.5 557.8H280.5V584.6H277.5ZM279.5 570.7H282.5V597.9H279.5ZM281.5 563.2H284.5V577.9H281.5ZM283.5 549.8H286.5V583.8H283.5ZM285.5 556.0H288.5V589.8H285.5ZM287.5 559.0H290.5V613.0H287.5ZM289.5 551.3H292.5V587.7H289.5ZM291.5 553.7H294.5V588.6H291.5ZM293.5 537.0H296.5V587.2H293.5ZM295.5 557.4H298.5V597.9H295.5ZM297.5 557.4H300.5V598.4H297.5ZM299.5 554.9H302.5V596.5H299.5ZM301.5 562.5H304.5V579.7H301.5ZM303.5 556.1H306.5V571.8H303.5ZM305.5 566.4H308.5V582.8H305.5ZM307.5 554.9H310.5V571.8H307.5ZM309.5 556.4H312.5V579.9H309.5ZM311.5 545.6H314.5V578.6H311.5ZM313.5 553.1H316.5V582.9H313.5ZM315.5 550.7H318.5V575.9H315.5ZM317.5 551.5H320.5V595.7H317.5ZM319.5 566.0H322.5V577.5H319.5ZM321.5 560.9H324.5V581.7H321.5ZM323.5 559.7H326.5V578.8H323.5ZM325.5 548.7H328.5V584.8H325.5ZM327.5 553.6H330.5V584.3H327.5ZM329.5 531.0H332.5V584.7H329.5ZM331.5 557.4H334.5V611.3H331.5ZM333.5 548.4H336.5V583.7H333.5ZM335.5 559.0H338.5V579.1H335.5ZM337.5 553.1H340.5V577.6H337.5ZM339.5 559.4H342.5V585.4H339.5ZM341.5 560.5H344.5V594.9H341.5ZM343.5 562.8H346.5V594.4H343.5ZM345.5 561.4H348.5V590.6H345.5ZM347.5 566.3H350.5V584.6H347.5ZM349.5 560.0H352.5V590.5H349.5ZM351.5 549.4H354.5V589.9H351.5ZM353.5 558.7H356.5V587.1H353.5ZM355.5 557.0H358.5V570.5H355.5ZM357.5 560.2H360.5V586.6H357.5ZM359.5 553.4H362.5V584.4H359.5ZM361.5 541.7H364.5V592.2H361.5ZM363.5 553.5H366.5V579.8H363.5ZM365.5 559.8H368.5V580.0H365.5ZM367.5 538.6H370.5V583.3H367.5ZM369.5 556.4H372.5V583.1H369.5ZM371.5 561.1H374.5V584.6H371.5ZM373.5 560.3H376.5V586.8H373.5ZM375.5 546.9H378.5V596.1H375.5ZM377.5 548.7H380.5V598.1H377.5ZM379.5 552.8H382.5V584.5H379.5ZM381.5 567.0H384.5V590.6H381.5ZM383.5 558.0H386.5V584.1H383.5ZM385.5 559.8H388.5V585.8H385.5ZM387.5 548.2H390.5V581.1H387.5ZM389.5 553.8H392.5V580.8H389.5ZM391.5 552.0H394.5V595.9H391.5ZM393.5 549.2H396.5V585.3H393.5ZM395.5 540.8H398.5V586.0H395.5ZM397.5 554.2H400.5V584.3H397.5ZM399.5 559.7H402.5V582.5H399.5ZM401.5 565.4H404.5V578.9H401.5ZM403.5 560.9H406.5V583.6H403.5ZM405.5 562.1H408.5V592.4H405.5ZM407.5 559.9H410.5V578.2H407.5ZM409.5 554.3H412.5V578.7H409.5ZM411.5 562.8H414.5V587.6H411.5ZM413.5 562.6H416.5V596.6H413.5ZM415.5 558.0H418.5V578.8H415.5ZM417.5 561.1H420.5V592.7H417.5ZM419.5 568.2H422.5V591.7H419.5ZM421.5 562.1H424.5V584.0H421.5ZM423.5 556.1H426.5V575.2H423.5ZM425.5 548.3H428.5V577.3H425.5ZM427.5 558.5H430.5V576.7H427.5ZM429.5 562.5H432.5V600.2H429.5ZM431.5 562.5H434.5V599.7H431.5ZM433.5 551.7H436.5V582.4H433.5ZM435.5 540.7H438.5V577.6H435.5ZM437.5 527.0H440.5V591.6H437.5ZM439.5 548.7H442.5V594.8H439.5ZM441.5 554.5H444.5V578.0H441.5ZM443.5 541.4H446.5V588.1H443.5ZM445.5 549.5H448.5V577.4H445.5ZM447.5 545.0H450.5V584.5H447.5ZM449.5 547.3H452.5V594.8H449.5ZM451.5 539.7H454.5V583.8H451.5ZM453.5 552.5H456.5V573.7H453.5ZM455.5 548.2H458.5V588.7H455.5ZM457.5 551.0H460.5V583.5H457.5ZM459.5 549.0H462.5V579.0H459.5ZM461.5 548.2H464.5V579.6H461.5ZM463.5 543.4H466.5V580.0H463.5ZM465.5 551.7H468.5V574.4H465.5ZM467.5 553.5H470.5V579.9H467.5ZM469.5 547.9H472.5V584.0H469.5ZM471.5 536.5H474.5V595.8H471.5ZM473.5 534.4H476.5V572.1H473.5ZM475.5 543.1H478.5V568.7H475.5ZM477.5 548.3H480.5V571.6H477.5ZM479.5 523.4H482.5V560.1H479.5ZM481.5 518.7H484.5V554.5H481.5ZM483.5 537.3H486.5V572.8H483.5ZM485.5 535.4H488.5V579.7H485.5ZM487.5 550.7H490.5V578.7H487.5ZM489.5 535.9H492.5V581.7H489.5ZM491.5 526.6H494.5V565.3H491.5ZM493.5 548.5H496.5V567.4H493.5ZM495.5 540.7H498.5V574.2H495.5ZM497.5 539.7H500.5V584.9H497.5ZM499.5 526.8H502.5V576.8H499.5ZM501.5 525.5H504.5V561.8H501.5ZM503.5 541.4H506.5V557.2H503.5ZM505.5 530.1H508.5V560.9H505.5ZM507.5 512.2H510.5V555.6H507.5ZM509.5 529.0H512.5V557.8H509.5ZM511.5 523.4H514.5V542.9H511.5ZM513.5 513.6H516.5V554.3H513.5ZM515.5 513.0H518.5V556.5H515.5ZM517.5 510.2H520.5V560.7H517.5ZM519.5 510.6H522.5V546.0H519.5ZM521.5 522.6H524.5V545.9H521.5ZM523.5 518.7H526.5V548.1H523.5ZM525.5 520.6H528.5V559.7H525.5ZM527.5 497.8H530.5V543.3H527.5ZM529.5 524.0H532.5V542.2H529.5ZM531.5 507.1H534.5V531.0H531.5ZM533.5 488.9H536.5V522.5H533.5ZM535.5 497.2H538.5V530.3H535.5ZM537.5 500.1H540.5V548.5H537.5ZM539.5 507.8H542.5V538.2H539.5ZM541.5 516.5H544.5V540.6H541.5ZM543.5 505.0H546.5V541.4H543.5ZM545.5 506.5H548.5V530.9H545.5ZM547.5 506.4H550.5V533.5H547.5ZM549.5 502.2H552.5V522.9H549.5ZM551.5 494.7H554.5V523.5H551.5ZM553.5 494.8H556.5V527.5H553.5ZM555.5 496.9H558.5V526.3H555.5ZM557.5 502.5H560.5V525.7H557.5ZM559.5 492.4H562.5V513.5H559.5ZM561.5 492.6H564.5V512.4H561.5ZM563.5 492.6H566.5V525.3H563.5ZM565.5 484.7H568.5V521.1H565.5ZM567.5 482.8H570.5V510.1H567.5ZM569.5 477.4H572.5V500.7H569.5ZM571.5 490.6H574.5V518.0H571.5ZM573.5 481.3H576.5V510.5H573.5ZM575.5 483.0H578.5V515.8H575.5ZM577.5 475.6H580.5V515.7H577.5ZM579.5 474.4H582.5V509.0H579.5ZM581.5 464.0H584.5V502.3H581.5ZM583.5 478.1H586.5V508.9H583.5ZM585.5 474.6H588.5V494.3H585.5ZM587.5 471.0H590.5V490.2H587.5ZM589.5 476.5H592.5V492.4H589.5ZM591.5 476.9H594.5V495.4H591.5ZM593.5 471.4H596.5V492.0H593.5ZM595.5 464.0H598.5V494.1H595.5ZM597.5 461.3H600.5V482.3H597.5ZM599.5 462.7H602.5V490.5H599.5ZM601.5 456.7H604.5V488.7H601.5ZM603.5 449.2H606.5V480.5H603.5ZM605.5 464.0H608.5V484.0H605.5ZM607.5 461.4H610.5V499.0H607.5ZM609.5 459.6H612.5V491.3H609.5ZM611.5 454.5H614.5V477.6H611.5ZM613.5 445.5H616.5V477.0H613.5ZM615.5 446.4H618.5V461.5H615.5ZM617.5 439.6H620.5V469.5H617.5ZM619.5 448.0H622.5V469.2H619.5ZM621.5 440.2H624.5V471.2H621.5ZM623.5 439.8H626.5V466.9H623.5ZM625.5 421.7H628.5V465.9H625.5ZM627.5 429.6H630.5V448.4H627.5ZM629.5 420.5H632.5V451.4H629.5ZM631.5 421.4H634.5V452.5H631.5ZM633.5 421.4H636.5V453.4H633.5ZM635.5 416.5H638.5V442.7H635.5ZM637.5 414.0H640.5V443.8H637.5ZM639.5 418.9H642.5V444.5H639.5ZM641.5 413.4H644.5V428.6H641.5ZM643.5 403.6H646.5V420.9H643.5ZM645.5 397.6H648.5V424.6H645.5ZM647.5 398.6H650.5V420.1H647.5ZM649.5 404.5H652.5V418.5H649.5ZM651.5 385.3H654.5V407.9H651.5ZM653.5 396.9H656.5V414.6H653.5ZM655.5 380.1H658.5V406.8H655.5ZM657.5 370.5H660.5V396.8H657.5ZM659.5 363.6H662.5V382.5H659.5ZM661.5 356.4H664.5V383.7H661.5ZM663.5 360.2H666.5V382.9H663.5ZM665.5 343.7H668.5V363.2H665.5ZM667.5 325.8H670.5V355.7H667.5ZM669.5 321.1H672.5V348.2H669.5ZM671.5 290.5H674.5V324.2H671.5ZM673.5 280.6H676.5V299.7H673.5ZM675.5 249.6H678.5V291.7H675.5ZM677.5 248.4H680.5V280.1H677.5ZM679.5 218.1H682.5V260.2H679.5ZM681.5 212.4H684.5V228.6H681.5ZM683.5 206.9H686.5V236.0H683.5ZM685.5 186.3H688.5V213.7H685.5ZM687.5 173.0H690.5V191.1H687.5ZM689.5 150.8H692.5V176.0H689.5ZM691.5 129.6H694.5V153.8H691.5ZM693.5 114.2H696.5V132.6H693.5ZM695.5 107.7H698.5V120.1H695.5ZM697.5 96.2H700.5V111.1H697.5ZM699.5 89.6H702.5V99.2H699.5ZM701.5 87.2H704.5V104.2H701.5ZM703.5 98.0H706.5V119.0H703.5ZM705.5 116.0H708.5V139.2H705.5ZM707.5 136.2H710.5V158.0H707.5ZM709.5 155.0H712.5V180.1H709.5ZM711.5 177.1H714.5V211.7H711.5ZM713.5 208.7H716.5V261.2H713.5ZM715.5 253.2H718.5V289.4H715.5ZM717.5 286.4H720.5V319.3H717.5ZM719.5 310.6H722.5V344.5H719.5ZM721.5 341.5H724.5V376.1H721.5ZM723.5 373.1H726.5V400.4H723.5ZM725.5 392.9H728.5V422.1H725.5ZM727.5 413.9H730.5V432.0H727.5ZM729.5 421.3H732.5V445.8H729.5ZM731.5 435.5H734.5V452.6H731.5ZM733.5 447.8H736.5V463.8H733.5ZM735.5 458.3H738.5V468.6H735.5ZM737.5 465.6H740.5V481.2H737.5ZM739.5 468.7H742.5V487.9H739.5ZM741.5 477.8H744.5V492.8H741.5ZM743.5 487.7H746.5V504.7H743.5ZM745.5 489.4H748.5V508.0H745.5ZM747.5 488.4H750.5V518.0H747.5ZM749.5 495.6H752.5V510.5H749.5ZM751.5 498.4H754.5V524.7H751.5ZM753.5 512.4H756.5V529.2H753.5ZM755.5 509.4H758.5V531.9H755.5ZM757.5 519.6H760.5V533.1H757.5ZM759.5 518.1H762.5V544.9H759.5ZM761.5 513.9H764.5V541.7H761.5ZM763.5 527.8H766.5V546.5H763.5ZM765.5 532.2H768.5V549.7H765.5ZM767.5 531.6H770.5V549.0H767.5ZM769.5 539.4H772.5V550.4H769.5ZM771.5 536.7H774.5V551.0H771.5ZM773.5 544.1H776.5V551.6H773.5ZM775.5 543.6H778.5V555.0H775.5ZM777.5 545.3H780.5V563.2H777.5ZM779.5 550.3H782.5V562.7H779.5ZM781.5 550.1H784.5V559.2H781.5ZM783.5 545.3H786.5V568.7H783.5ZM785.5 546.4H788.5V561.6H785.5ZM787.5 549.9H790.5V566.6H787.5ZM789.5 555.4H792.5V562.1H789.5ZM791.5 547.4H794.5V560.6H791.5ZM793.5 551.7H796.5V566.7H793.5ZM795.5 555.9H798.5V571.2H795.5ZM797.5 554.9H800.5V570.3H797.5ZM799.5 553.1H802.5V565.4H799.5ZM801.5 556.1H804.5V567.8H801.5ZM803.5 559.2H806.5V575.2H803.5ZM805.5 551.8H808.5V569.3H805.5ZM807.5 554.1H810.5V572.0H807.5ZM809.5 549.0H812.5V568.4H809.5ZM811.5 556.6H814.5V567.8H811.5ZM813.5 552.1H816.5V573.2H813.5ZM815.5 561.0H818.5V572.4H815.5ZM817.5 560.6H820.5V568.4H817.5ZM819.5 557.0H822.5V574.1H819.5ZM821.5 560.1H824.5V573.2H821.5ZM823.5 552.9H826.5V576.7H823.5ZM825.5 562.0H828.5V568.8H825.5ZM827.5 551.1H830.5V569.7H827.5ZM829.5 563.3H832.5V574.8H829.5ZM831.5 554.6H834.5V574.5H831.5ZM833.5 552.2H836.5V573.6H833.5ZM835.5 562.0H838.5V576.0H835.5ZM837.5 557.1H840.5V571.1H837.5ZM839.5 556.9H842.5V572.5H839.5ZM841.5 558.5H844.5V573.2H841.5ZM843.5 561.9H846.5V575.8H843.5ZM845.5 561.9H848.5V579.0H845.5ZM847.5 560.4H850.5V570.4H847.5ZM849.5 551.5H852.5V579.1H849.5ZM851.5 563.5H854.5V571.8H851.5ZM853.5 555.2H856.5V573.5H853.5ZM855.5 554.6H858.5V572.2H855.5ZM857.5 556.8H860.5V574.0H857.5ZM859.5 555.1H862.5V574.2H859.5ZM861.5 557.0H864.5V567.5H861.5ZM863.5 561.0H866.5V577.0H863.5ZM865.5 555.1H868.5V580.6H865.5ZM867.5 556.4H870.5V583.3H867.5ZM869.5 555.2H872.5V573.9H869.5ZM871.5 563.2H874.5V570.7H871.5ZM873.5 559.3H876.5V571.7H873.5ZM875.5 563.0H878.5V574.0H875.5ZM877.5 558.6H880.5V575.8H877.5ZM879.5 557.9H882.5V570.9H879.5ZM881.5 552.4H884.5V567.8H881.5ZM883.5 555.7H886.5V572.3H883.5ZM885.5 558.7H888.5V571.3H885.5ZM887.5 556.2H890.5V574.6H887.5ZM889.5 551.1H892.5V583.2H889.5ZM891.5 564.7H894.5V580.0H891.5ZM893.5 559.9H896.5V569.5H893.5ZM895.5 555.1H898.5V571.7H895.5ZM897.5 559.2H900.5V575.5H897.5ZM899.5 559.1H902.5V567.7H899.5ZM901.5 556.9H904.5V576.4H901.5ZM903.5 563.4H906.5V570.7H903.5ZM905.5 559.1H908.5V571.2H905.5ZM907.5 549.7H910.5V577.8H907.5ZM909.5 553.1H912.5V569.1H909.5ZM911.5 564.0H914.5V580.7H911.5ZM913.5 558.8H916.5V581.4H913.5ZM915.5 563.6H918.5V577.6H915.5ZM917.5 562.2H920.5V571.9H917.5ZM919.5 563.7H922.5V575.5H919.5ZM921.5 561.4H924.5V570.3H921.5ZM923.5 556.9H926.5V568.2H923.5ZM925.5 557.4H928.5V569.1H925.5ZM927.5 561.0H930.5V575.5H927.5ZM929.5 561.2H932.5V575.8H929.5ZM931.5 560.4H934.5V577.6H931.5ZM933.5 562.6H936.5V568.4H933.5ZM935.5 559.4H938.5V573.9H935.5ZM937.5 557.8H940.5V574.1H937.5ZM939.5 557.8H942.5V574.5H939.5ZM941.5 557.6H944.5V581.0H941.5ZM943.5 559.3H946.5V567.8H943.5ZM945.5 551.8H948.5V574.2H945.5ZM947.5 557.6H950.5V572.6H947.5ZM949.5 557.5H952.5V570.1H949.5ZM951.5 560.3H954.5V571.3H951.5ZM953.5 559.1H956.5V573.3H953.5ZM955.5 557.6H958.5V579.6H955.5ZM957.5 560.7H960.5V573.5H957.5ZM959.5 561.2H962.5V570.2H959.5ZM961.5 548.6H964.5V568.9H961.5ZM963.5 558.5H966.5V569.4H963.5ZM965.5 553.4H968.5V571.1H965.5ZM967.5 560.7H970.5V577.4H967.5ZM969.5 558.5H972.5V573.0H969.5ZM971.5 561.4H974.5V573.6H971.5ZM973.5 558.1H976.5V577.1H973.5ZM975.5 555.9H978.5V572.5H975.5ZM977.5 556.1H980.5V566.3H977.5ZM979.5 556.4H982.5V573.1H979.5ZM981.5 561.3H984.5V579.0H981.5ZM983.5 556.0H986.5V574.9H983.5ZM985.5 556.1H988.5V572.3H985.5ZM987.5 560.2H990.5V569.9H987.5ZM989.5 557.4H992.5V568.4H989.5ZM991.5 554.3H994.5V574.8H991.5ZM993.5 560.4H996.5V573.6H993.5ZM995.5 558.5H998.5V571.8H995.5ZM997.5 565.8H1000.5V575.8H997.5ZM999.5 554.9H1002.5V571.8H999.5ZM1001.5 550.9H1004.5V569.2H1001.5ZM1003.5 553.8H1006.5V569.2H1003.5ZM1005.5 550.8H1008.5V566.3H1005.5ZM1007.5 552.1H1010.5V575.1H1007.5ZM1009.5 557.5H1012.5V571.5H1009.5ZM1011.5 549.4H1014.5V562.6H1011.5ZM1013.5 548.6H1016.5V564.7H1013.5ZM1015.5 553.1H1018.5V566.5H1015.5ZM1017.5 552.8H1020.5V567.7H1017.5ZM1019.5 548.3H1022.5V565.9H1019.5ZM1021.5 550.5H1024.5V563.1H1021.5ZM1023.5 547.2H1026.5V557.6H1023.5ZM1025.5 547.6H1028.5V560.0H1025.5ZM1027.5 547.2H1030.5V563.5H1027.5ZM1029.5 546.0H1032.5V553.0H1029.5ZM1031.5 545.1H1034.5V555.5H1031.5ZM1033.5 539.3H1036.5V553.3H1033.5ZM1035.5 542.2H1038.5V557.9H1035.5ZM1037.5 539.3H1040.5V554.1H1037.5ZM1039.5 543.3H1042.5V557.6H1039.5ZM1041.5 541.0H1044.5V553.8H1041.5ZM1043.5 537.7H1046.5V557.4H1043.5ZM1045.5 538.8H1048.5V551.0H1045.5ZM1047.5 538.2H1050.5V549.6H1047.5ZM1049.5 532.3H1052.5V542.1H1049.5ZM1051.5 531.7H1054.5V542.5H1051.5ZM1053.5 529.4H1056.5V545.2H1053.5ZM1055.5 528.1H1058.5V535.6H1055.5ZM1057.5 528.0H1060.5V541.4H1057.5ZM1059.5 519.1H1062.5V545.1H1059.5ZM1061.5 517.4H1064.5V534.9H1061.5ZM1063.5 519.0H1066.5V544.4H1063.5ZM1065.5 512.2H1068.5V529.6H1065.5ZM1067.5 507.9H1070.5V528.8H1067.5ZM1069.5 506.5H1072.5V515.9H1069.5ZM1071.5 503.7H1074.5V515.4H1071.5ZM1073.5 491.2H1076.5V506.8H1073.5ZM1075.5 488.9H1078.5V505.9H1075.5ZM1077.5 485.6H1080.5V504.8H1077.5ZM1079.5 482.2H1082.5V498.5H1079.5ZM1081.5 471.7H1084.5V493.9H1081.5ZM1083.5 470.7H1086.5V492.9H1083.5ZM1085.5 461.2H1088.5V473.9H1085.5ZM1087.5 451.2H1090.5V469.2H1087.5ZM1089.5 449.3H1092.5V471.4H1089.5ZM1091.5 445.4H1094.5V467.8H1091.5ZM1093.5 442.3H1096.5V451.2H1093.5ZM1095.5 434.9H1098.5V453.5H1095.5ZM1097.5 436.9H1100.5V458.6H1097.5ZM1099.5 432.7H1102.5V459.0H1099.5ZM1101.5 434.2H1104.5V461.2H1101.5ZM1103.5 434.4H1106.5V452.5H1103.5ZM1105.5 435.0H1108.5V444.9H1105.5ZM1107.5 419.4H1110.5V449.8H1107.5ZM1109.5 423.1H1112.5V439.8H1109.5ZM1111.5 422.3H1114.5V438.2H1111.5ZM1113.5 414.0H1116.5V429.3H1113.5ZM1115.5 412.7H1118.5V432.7H1115.5ZM1117.5 412.2H1120.5V438.1H1117.5ZM1119.5 417.7H1122.5V445.6H1119.5ZM1121.5 442.6H1124.5V465.5H1121.5ZM1123.5 449.7H1126.5V473.0H1123.5ZM1125.5 443.1H1128.5V456.0H1125.5ZM1127.5 437.3H1130.5V462.6H1127.5ZM1129.5 436.0H1132.5V455.3H1129.5ZM1131.5 432.1H1134.5V450.3H1131.5ZM1133.5 421.4H1136.5V454.8H1133.5ZM1135.5 390.6H1138.5V431.1H1135.5ZM1137.5 365.8H1140.5V393.6H1137.5ZM1139.5 348.5H1142.5V368.8H1139.5ZM1141.5 354.2H1144.5V384.4H1141.5ZM1143.5 381.4H1146.5V412.3H1143.5ZM1145.5 409.3H1148.5V459.3H1145.5ZM1147.5 456.3H1150.5V480.6H1147.5ZM1149.5 470.3H1152.5V485.8H1149.5ZM1151.5 472.0H1154.5V496.0H1151.5ZM1153.5 474.4H1156.5V498.3H1153.5ZM1155.5 483.4H1158.5V508.2H1155.5ZM1157.5 486.5H1160.5V500.1H1157.5ZM1159.5 483.9H1162.5V501.8H1159.5ZM1161.5 491.4H1164.5V504.8H1161.5ZM1163.5 495.2H1166.5V505.4H1163.5ZM1165.5 488.3H1168.5V509.6H1165.5ZM1167.5 494.6H1170.5V502.8H1167.5ZM1169.5 493.8H1172.5V512.3H1169.5ZM1171.5 503.4H1174.5V517.1H1171.5ZM1173.5 496.2H1176.5V509.0H1173.5ZM1175.5 501.1H1178.5V514.7H1175.5ZM1177.5 500.6H1180.5V514.3H1177.5ZM1179.5 497.8H1182.5V514.4H1179.5ZM1181.5 499.6H1184.5V513.7H1181.5ZM1183.5 506.6H1186.5V518.4H1183.5ZM1185.5 506.6H1188.5V519.6H1185.5ZM1187.5 505.3H1190.5V514.6H1187.5ZM1189.5 508.7H1192.5V526.0H1189.5ZM1191.5 506.7H1194.5V525.5H1191.5ZM1193.5 513.6H1196.5V524.5H1193.5ZM1195.5 516.9H1198.5V524.7H1195.5ZM1197.5 507.0H1200.5V521.3H1197.5ZM1199.5 516.7H1202.5V534.9H1199.5ZM1201.5 511.4H1204.5V539.1H1201.5ZM1203.5 516.5H1206.5V535.5H1203.5ZM1205.5 519.3H1208.5V532.7H1205.5ZM1207.5 512.9H1210.5V532.3H1207.5ZM1209.5 516.9H1212.5V530.2H1209.5ZM1211.5 520.4H1214.5V531.3H1211.5ZM1213.5 524.0H1216.5V532.3H1213.5ZM1215.5 520.0H1218.5V535.3H1215.5ZM1217.5 524.2H1220.5V537.7H1217.5ZM1219.5 525.3H1222.5V540.1H1219.5ZM1221.5 525.8H1224.5V544.9H1221.5ZM1223.5 527.8H1226.5V544.9H1223.5ZM1225.5 528.7H1228.5V537.6H1225.5ZM1227.5 524.0H1230.5V534.9H1227.5ZM1229.5 524.4H1232.5V547.5H1229.5ZM1231.5 523.6H1234.5V542.9H1231.5ZM1233.5 525.8H1236.5V543.3H1233.5ZM1235.5 529.5H1238.5V543.1H1235.5ZM1237.5 528.2H1240.5V539.8H1237.5ZM1239.5 530.4H1242.5V546.6H1239.5ZM1241.5 529.2H1244.5V547.8H1241.5ZM1243.5 527.3H1246.5V545.5H1243.5ZM1245.5 523.8H1248.5V542.9H1245.5ZM1247.5 523.7H1250.5V544.4H1247.5ZM1249.5 528.2H1252.5V552.0H1249.5ZM1251.5 534.5H1254.5V549.4H1251.5ZM1253.5 534.2H1256.5V550.8H1253.5ZM1255.5 526.2H1258.5V553.7H1255.5ZM1257.5 529.2H1260.5V542.6H1257.5ZM1259.5 536.6H1262.5V548.2H1259.5ZM1261.5 533.2H1264.5V547.1H1261.5ZM1263.5 534.3H1266.5V544.1H1263.5ZM1265.5 538.4H1268.5V546.2H1265.5ZM1267.5 534.2H1270.5V544.7H1267.5ZM1269.5 533.7H1272.5V545.0H1269.5ZM1271.5 536.0H1274.5V544.0H1271.5ZM1273.5 537.5H1276.5V550.7H1273.5ZM1275.5 537.5H1278.5V549.6H1275.5ZM1277.5 526.8H1280.5V547.7H1277.5ZM1279.5 529.2H1282.5V548.6H1279.5ZM1281.5 537.8H1284.5V549.5H1281.5ZM1283.5 536.0H1286.5V550.4H1283.5ZM1285.5 536.4H1288.5V549.0H1285.5ZM1287.5 540.6H1290.5V548.7H1287.5ZM1289.5 535.0H1292.5V546.7H1289.5ZM1291.5 532.4H1294.5V545.0H1291.5ZM1293.5 536.2H1296.5V545.7H1293.5ZM1295.5 537.0H1298.5V543.6H1295.5ZM1297.5 537.4H1300.5V549.4H1297.5ZM1299.5 530.7H1302.5V552.3H1299.5ZM1301.5 538.9H1304.5V553.8H1301.5ZM1303.5 533.8H1306.5V548.8H1303.5ZM1305.5 539.8H1308.5V546.7H1305.5ZM1307.5 533.7H1310.5V548.6H1307.5ZM1309.5 538.3H1312.5V542.8H1309.5ZM1311.5 533.3H1314.5V544.9H1311.5ZM1313.5 537.6H1316.5V550.9H1313.5ZM1315.5 536.5H1318.5V546.7H1315.5ZM1317.5 532.9H1320.5V550.2H1317.5ZM1319.5 533.3H1322.5V547.3H1319.5ZM1321.5 537.8H1324.5V546.8H1321.5ZM1323.5 533.8H1326.5V545.4H1323.5ZM1325.5 534.4H1328.5V549.6H1325.5ZM1327.5 533.5H1330.5V546.7H1327.5ZM1329.5 531.2H1332.5V546.2H1329.5ZM1331.5 533.4H1334.5V545.4H1331.5ZM1333.5 533.6H1336.5V543.1H1333.5ZM1335.5 525.3H1338.5V542.5H1335.5ZM1337.5 533.5H1340.5V544.9H1337.5ZM1339.5 528.8H1342.5V538.8H1339.5ZM1341.5 531.2H1344.5V543.6H1341.5ZM1343.5 528.7H1346.5V540.8H1343.5ZM1345.5 532.0H1348.5V543.5H1345.5ZM1347.5 530.8H1350.5V544.2H1347.5ZM1349.5 527.8H1352.5V542.3H1349.5ZM1351.5 534.3H1354.5V545.8H1351.5ZM1353.5 535.0H1356.5V546.6H1353.5ZM1355.5 535.5H1358.5V545.9H1355.5ZM1357.5 533.4H1360.5V540.4H1357.5ZM1359.5 536.2H1362.5V545.8H1359.5ZM1361.5 530.2H1364.5V547.2H1361.5ZM1363.5 537.8H1366.5V550.4H1363.5ZM1365.5 527.8H1368.5V548.1H1365.5ZM1367.5 542.1H1370.5V551.4H1367.5ZM1369.5 539.3H1372.5V552.3H1369.5ZM1371.5 539.0H1374.5V555.5H1371.5ZM1373.5 542.2H1376.5V555.1H1373.5ZM1375.5 540.6H1378.5V552.7H1375.5ZM1377.5 536.4H1380.5V557.5H1377.5ZM1379.5 541.2H1382.5V555.5H1379.5ZM1381.5 544.9H1384.5V554.2H1381.5ZM1383.5 550.5H1386.5V557.5H1383.5ZM1385.5 550.1H1388.5V557.5H1385.5ZM1387.5 543.5H1390.5V557.5H1387.5ZM1389.5 548.4H1392.5V560.9H1389.5ZM1391.5 550.7H1394.5V558.8H1391.5ZM1393.5 550.9H1396.5V562.8H1393.5ZM1395.5 550.8H1398.5V564.0H1395.5ZM1397.5 547.2H1400.5V566.4H1397.5ZM1399.5 544.2H1402.5V562.3H1399.5ZM1401.5 552.4H1404.5V563.1H1401.5ZM1403.5 552.5H1406.5V565.0H1403.5ZM1405.5 547.7H1408.5V563.7H1405.5ZM1407.5 553.9H1410.5V564.1H1407.5ZM1409.5 552.1H1412.5V562.1H1409.5ZM1411.5 552.1H1414.5V564.3H1411.5ZM1413.5 558.0H1416.5V566.0H1413.5ZM1415.5 548.1H1418.5V566.5H1415.5ZM1417.5 548.5H1420.5V563.4H1417.5ZM1419.5 554.4H1422.5V567.7H1419.5ZM1421.5 551.4H1424.5V561.1H1421.5ZM1423.5 551.7H1426.5V563.4H1423.5ZM1425.5 552.4H1428.5V562.7H1425.5ZM1427.5 555.0H1430.5V562.8H1427.5ZM1429.5 549.5H1432.5V560.0H1429.5ZM1431.5 554.7H1434.5V574.8H1431.5ZM1433.5 547.6H1436.5V565.3H1433.5ZM1435.5 548.8H1438.5V566.1H1435.5ZM1437.5 550.9H1440.5V565.4H1437.5ZM1439.5 554.4H1442.5V565.0H1439.5ZM1441.5 555.8H1444.5V568.2H1441.5ZM1443.5 556.5H1446.5V565.2H1443.5ZM1445.5 556.4H1448.5V567.8H1445.5ZM1447.5 554.2H1450.5V564.2H1447.5ZM1449.5 553.0H1452.5V563.2H1449.5ZM1451.5 553.9H1454.5V568.3H1451.5ZM1453.5 555.9H1456.5V576.4H1453.5ZM1455.5 550.9H1458.5V563.8H1455.5ZM1457.5 552.2H1460.5V569.8H1457.5ZM1459.5 556.4H1462.5V566.6H1459.5ZM1461.5 558.1H1464.5V566.9H1461.5ZM1463.5 556.4H1466.5V570.1H1463.5ZM1465.5 553.4H1468.5V564.9H1465.5ZM1467.5 558.7H1470.5V564.5H1467.5ZM1469.5 547.5H1472.5V568.6H1469.5ZM1471.5 553.6H1474.5V571.5H1471.5ZM1473.5 557.4H1476.5V566.5H1473.5ZM1475.5 554.1H1478.5V563.6H1475.5ZM1477.5 556.6H1480.5V567.2H1477.5ZM1479.5 557.0H1482.5V565.4H1479.5ZM1481.5 558.0H1484.5V571.8H1481.5ZM1483.5 555.7H1486.5V572.2H1483.5ZM1485.5 554.3H1488.5V567.6H1485.5ZM1487.5 554.6H1490.5V565.7H1487.5ZM1489.5 558.8H1492.5V568.8H1489.5ZM1491.5 552.3H1494.5V566.3H1491.5ZM1493.5 555.6H1496.5V569.5H1493.5ZM1495.5 558.3H1498.5V570.7H1495.5ZM1497.5 559.0H1500.5V568.6H1497.5ZM1499.5 554.2H1502.5V566.0H1499.5ZM1501.5 556.4H1504.5V567.6H1501.5ZM1503.5 554.5H1506.5V570.3H1503.5ZM1505.5 557.0H1508.5V569.1H1505.5ZM1507.5 552.8H1510.5V568.7H1507.5ZM1509.5 555.2H1512.5V570.1H1509.5ZM1511.5 552.4H1514.5V569.4H1511.5ZM1513.5 552.2H1516.5V570.3H1513.5ZM1515.5 556.2H1518.5V569.6H1515.5ZM1517.5 556.3H1520.5V566.8H1517.5ZM1519.5 553.1H1522.5V566.8H1519.5ZM1521.5 550.6H1524.5V568.2H1521.5ZM1523.5 551.5H1526.5V564.5H1523.5ZM1525.5 557.9H1528.5V565.3H1525.5ZM1527.5 557.7H1530.5V568.3H1527.5ZM1529.5 556.8H1532.5V570.5H1529.5ZM1531.5 558.1H1534.5V565.2H1531.5ZM1533.5 555.2H1536.5V565.4H1533.5ZM1535.5 552.6H1538.5V568.5H1535.5ZM1537.5 551.7H1540.5V567.8H1537.5ZM1539.5 558.3H1542.5V567.2H1539.5ZM1541.5 555.5H1544.5V571.2H1541.5ZM1543.5 557.6H1546.5V572.6H1543.5ZM1545.5 554.7H1548.5V567.3H1545.5ZM1547.5 556.8H1550.5V569.6H1547.5ZM1549.5 557.1H1552.5V569.9H1549.5ZM1551.5 552.4H1554.5V568.0H1551.5ZM1553.5 557.1H1556.5V566.5H1553.5ZM1555.5 553.5H1558.5V566.8H1555.5ZM1557.5 551.3H1560.5V568.1H1557.5ZM1559.5 558.4H1562.5V570.8H1559.5ZM1561.5 558.2H1564.5V569.3H1561.5ZM1563.5 557.6H1566.5V567.6H1563.5ZM1565.5 557.8H1568.5V572.2H1565.5ZM1567.5 549.0H1570.5V568.8H1567.5ZM1569.5 561.9H1572.5V571.5H1569.5ZM1571.5 557.0H1574.5V569.0H1571.5ZM1573.5 558.3H1576.5V564.7H1573.5ZM1575.5 557.6H1578.5V571.1H1575.5ZM1577.5 559.4H1580.5V571.6H1577.5ZM1579.5 559.0H1582.5V570.8H1579.5ZM1581.5 558.1H1584.5V574.7H1581.5ZM1583.5 557.7H1586.5V569.6H1583.5ZM1585.5 559.1H1588.5V569.7H1585.5ZM1587.5 554.4H1590.5V573.2H1587.5ZM1589.5 556.3H1592.5V566.4H1589.5ZM1591.5 554.9H1594.5V574.7H1591.5ZM1593.5 555.1H1596.5V566.8H1593.5ZM1595.5 559.4H1598.5V574.0H1595.5ZM1597.5 556.1H1600.5V570.6H1597.5ZM1599.5 559.5H1602.5V567.2H1599.5ZM1601.5 552.2H1604.5V567.7H1601.5ZM1603.5 553.6H1606.5V563.7H1603.5ZM1605.5 548.2H1608.5V570.0H1605.5ZM1607.5 555.3H1610.5V569.3H1607.5ZM1609.5 557.0H1612.5V575.7H1609.5ZM1611.5 555.5H1614.5V566.1H1611.5ZM1613.5 552.6H1616.5V567.9H1613.5ZM1615.5 551.2H1618.5V561.7H1615.5ZM1617.5 539.8H1620.5V554.2H1617.5ZM1619.5 543.1H1622.5V560.3H1619.5ZM1621.5 544.8H1624.5V557.6H1621.5ZM1623.5 548.3H1626.5V561.3H1623.5ZM1625.5 553.7H1628.5V563.5H1625.5ZM1627.5 551.7H1630.5V569.1H1627.5ZM1629.5 552.6H1632.5V561.5H1629.5ZM1631.5 552.3H1634.5V571.7H1631.5ZM1633.5 551.5H1636.5V569.5H1633.5ZM1635.5 554.5H1638.5V566.7H1635.5ZM1637.5 561.8H1640.5V569.4H1637.5ZM1639.5 558.8H1642.5V568.2H1639.5ZM1641.5 558.4H1644.5V568.2H1641.5ZM1643.5 554.6H1646.5V570.9H1643.5ZM1645.5 557.0H1648.5V574.5H1645.5ZM1647.5 557.3H1650.5V566.7H1647.5ZM1649.5 553.7H1652.5V573.2H1649.5ZM1651.5 552.7H1654.5V568.0H1651.5ZM1653.5 551.3H1656.5V570.0H1653.5ZM1655.5 547.6H1658.5V568.6H1655.5ZM1657.5 562.9H1660.5V573.7H1657.5ZM1659.5 555.2H1662.5V573.9H1659.5ZM1661.5 556.0H1664.5V566.1H1661.5ZM1663.5 556.0H1666.5V567.2H1663.5ZM1665.5 561.6H1668.5V573.6H1665.5ZM1667.5 548.3H1670.5V568.1H1667.5ZM1669.5 557.1H1672.5V567.6H1669.5ZM1671.5 554.9H1674.5V567.6H1671.5ZM1673.5 558.2H1676.5V569.3H1673.5ZM1675.5 558.9H1678.5V573.4H1675.5ZM1677.5 557.9H1680.5V576.7H1677.5ZM1679.5 560.7H1682.5V570.5H1679.5ZM1681.5 552.7H1684.5V569.7H1681.5ZM1683.5 559.8H1686.5V571.3H1683.5ZM1685.5 559.8H1688.5V574.0H1685.5ZM1687.5 559.5H1690.5V568.4H1687.5ZM1689.5 559.1H1692.5V573.1H1689.5ZM1691.5 557.0H1694.5V569.3H1691.5ZM1693.5 558.6H1696.5V568.6H1693.5ZM1695.5 556.3H1698.5V568.4H1695.5ZM1697.5 562.0H1700.5V576.3H1697.5ZM1699.5 560.4H1702.5V571.5H1699.5ZM1701.5 551.0H1704.5V570.9H1701.5ZM1703.5 555.7H1706.5V563.9H1703.5ZM1705.5 556.9H1708.5V574.3H1705.5ZM1707.5 556.8H1710.5V567.1H1707.5ZM1709.5 556.6H1712.5V570.3H1709.5ZM1711.5 561.0H1714.5V569.3H1711.5ZM1713.5 553.7H1716.5V570.5H1713.5ZM1715.5 559.0H1718.5V572.6H1715.5ZM1717.5 557.7H1720.5V567.9H1717.5ZM1719.5 562.1H1722.5V569.9H1719.5ZM1721.5 561.5H1724.5V573.3H1721.5ZM1723.5 557.0H1726.5V576.7H1723.5ZM1725.5 557.5H1728.5V576.5H1725.5ZM1727.5 557.2H1730.5V568.8H1727.5ZM1729.5 556.1H1732.5V566.2H1729.5ZM1731.5 559.7H1734.5V565.3H1731.5ZM1733.5 560.5H1736.5V569.5H1733.5ZM1735.5 557.2H1738.5V568.6H1735.5ZM1737.5 555.6H1740.5V567.4H1737.5ZM1739.5 559.1H1742.5V568.8H1739.5ZM1741.5 560.2H1744.5V569.6H1741.5ZM1743.5 554.1H1746.5V565.2H1743.5ZM1745.5 558.3H1748.5V570.7H1745.5ZM1747.5 555.2H1750.5V573.7H1747.5ZM1749.5 553.3H1752.5V566.1H1749.5ZM1751.5 557.1H1754.5V570.4H1751.5ZM1753.5 559.3H1756.5V568.8H1753.5ZM1755.5 559.0H1758.5V579.5H1755.5ZM1757.5 560.5H1760.5V569.6H1757.5ZM1759.5 559.4H1762.5V572.4H1759.5ZM1761.5 549.5H1764.5V568.1H1761.5ZM1763.5 557.4H1766.5V576.2H1763.5ZM1765.5 560.2H1768.5V570.5H1765.5ZM1767.5 555.3H1770.5V571.6H1767.5ZM1769.5 558.9H1772.5V569.5H1769.5ZM1771.5 559.1H1774.5V571.7H1771.5ZM1773.5 558.6H1776.5V579.6H1773.5ZM1775.5 555.6H1778.5V567.6H1775.5ZM1777.5 558.5H1780.5V570.7H1777.5ZM1779.5 558.5H1782.5V569.3H1779.5ZM1781.5 558.7H1784.5V572.4H1781.5ZM1783.5 558.3H1786.5V570.6H1783.5ZM1785.5 562.5H1788.5V570.0H1785.5ZM1787.5 562.1H1790.5V575.4H1787.5ZM1789.5 559.1H1792.5V575.1H1789.5ZM1791.5 561.9H1794.5V579.4H1791.5ZM1793.5 552.8H1796.5V579.6H1793.5ZM1795.5 552.8H1798.5V568.7H1795.5ZM1797.5 553.8H1800.5V572.5H1797.5ZM1799.5 556.9H1802.5V567.6H1799.5ZM1801.5 554.7H1804.5V572.5H1801.5ZM1803.5 554.3H1806.5V568.5H1803.5ZM1805.5 558.2H1808.5V567.1H1805.5ZM1807.5 558.8H1810.5V567.8H1807.5ZM1809.5 554.1H1812.5V570.7H1809.5ZM1811.5 559.5H1814.5V568.5H1811.5ZM1813.5 550.0H1816.5V568.6H1813.5ZM1815.5 553.9H1818.5V571.3H1815.5ZM1817.5 556.6H1820.5V570.1H1817.5ZM1819.5 559.2H1822.5V571.4H1819.5ZM1821.5 559.1H1824.5V569.5H1821.5ZM1823.5 556.5H1826.5V576.8H1823.5ZM1825.5 554.7H1828.5V569.3H1825.5ZM1827.5 548.2H1830.5V576.5H1827.5ZM1829.5 557.6H1832.5V571.4H1829.5ZM1831.5 551.1H1834.5V577.0H1831.5ZM1833.5 557.8H1836.5V575.8H1833.5ZM1835.5 556.1H1838.5V571.1H1835.5ZM1837.5 561.1H1840.5V567.4H1837.5ZM1839.5 554.8H1842.5V565.0H1839.5ZM1841.5 556.2H1844.5V568.1H1841.5ZM1843.5 560.1H1846.5V569.0H1843.5ZM1845.5 551.5H1848.5V563.1H1845.5ZM1847.5 557.5H1850.5V571.5H1847.5ZM1849.5 558.1H1852.5V566.8H1849.5ZM1851.5 552.6H1854.5V568.6H1851.5ZM1853.5 557.5H1856.5V568.5H1853.5ZM1855.5 558.2H1858.5V578.6H1855.5ZM1857.5 557.5H1860.5V570.0H1857.5ZM1859.5 555.1H1862.5V572.1H1859.5ZM1861.5 552.4H1864.5V571.8H1861.5ZM1863.5 557.0H1866.5V565.1H1863.5ZM1865.5 557.1H1868.5V569.6H1865.5ZM1867.5 553.9H1870.5V567.9H1867.5ZM1869.5 550.4H1872.5V567.7H1869.5ZM1871.5 556.5H1874.5V570.5H1871.5ZM1873.5 552.5H1876.5V570.3H1873.5ZM1875.5 554.1H1878.5V566.8H1875.5ZM1877.5 554.8H1880.5V568.0H1877.5ZM1879.5 552.5H1882.5V565.1H1879.5ZM1881.5 552.6H1884.5V573.2H1881.5ZM1883.5 556.2H1886.5V574.3H1883.5ZM1885.5 548.2H1888.5V569.0H1885.5ZM1887.5 551.5H1890.5V561.3H1887.5ZM1889.5 551.0H1892.5V565.0H1889.5ZM1891.5 552.4H1894.5V560.8H1891.5ZM1893.5 556.1H1896.5V563.4H1893.5ZM1895.5 550.9H1898.5V560.5H1895.5ZM1897.5 549.2H1900.5V559.5H1897.5ZM1899.5 554.7H1902.5V566.6H1899.5ZM1901.5 553.9H1904.5V566.5H1901.5ZM1903.5 550.2H1906.5V562.6H1903.5ZM1905.5 549.2H1908.5V563.9H1905.5ZM1907.5 552.7H1910.5V568.4H1907.5ZM1909.5 546.6H1912.5V561.0H1909.5ZM1911.5 547.1H1914.5V565.6H1911.5ZM1913.5 548.8H1916.5V560.0H1913.5ZM1915.5 549.9H1918.5V559.6H1915.5ZM1917.5 541.3H1920.5V555.3H1917.5ZM1919.5 542.2H1922.5V557.2H1919.5ZM1921.5 539.9H1924.5V556.9H1921.5ZM1923.5 546.3H1926.5V554.3H1923.5ZM1925.5 543.1H1928.5V552.5H1925.5ZM1927.5 543.1H1930.5V564.6H1927.5ZM1929.5 544.4H1932.5V554.2H1929.5ZM1931.5 548.5H1934.5V559.4H1931.5ZM1933.5 542.4H1936.5V555.7H1933.5ZM1935.5 542.5H1938.5V559.3H1935.5ZM1937.5 546.3H1940.5V559.3H1937.5ZM1939.5 546.0H1942.5V564.0H1939.5ZM1941.5 536.8H1944.5V562.8H1941.5ZM1943.5 542.7H1946.5V564.6H1943.5ZM1945.5 548.0H1948.5V560.1H1945.5ZM1947.5 546.8H1950.5V560.7H1947.5ZM1949.5 552.7H1952.5V558.0H1949.5ZM1951.5 551.1H1954.5V559.3H1951.5ZM1953.5 553.3H1956.5V567.5H1953.5ZM1955.5 553.5H1958.5V566.0H1955.5ZM1957.5 552.9H1960.5V567.0H1957.5ZM1959.5 553.3H1962.5V565.7H1959.5ZM1961.5 554.4H1964.5V566.4H1961.5ZM1963.5 553.6H1966.5V566.4H1963.5ZM1965.5 556.0H1968.5V568.0H1965.5ZM1967.5 546.9H1970.5V569.0H1967.5ZM1969.5 556.6H1972.5V568.1H1969.5ZM1971.5 553.3H1974.5V567.7H1971.5ZM1973.5 556.1H1976.5V568.3H1973.5ZM1975.5 560.3H1978.5V567.8H1975.5ZM1977.5 561.0H1980.5V568.2H1977.5ZM1979.5 561.8H1982.5V570.4H1979.5Z"/>
</g>
<rect x="157" y="20" width="1869" height="1193" fill="none" stroke="#000" stroke-width="6"/>
<path d="M204.3 1213V1203.0M322.6 1213V1190.0M440.9 1213V1203.0M559.2 1213V1190.0M677.5 1213V1203.0M795.8 1213V1190.0M914.1 1213V1203.0M1032.4 1213V1190.0M1150.6 1213V1203.0M1268.9 1213V1190.0M1387.2 1213V1203.0M1505.5 1213V1190.0M1623.8 1213V1203.0M1742.1 1213V1190.0M1860.4 1213V1203.0M1978.7 1213V1190.0" stroke="#000" stroke-width="6"/>
<text transform="translate(322.6 1301.0) scale(1.100 1)" font-family="Liberation Sans, sans-serif" font-size="79.5" font-weight="normal" text-anchor="middle">10</text>
<text transform="translate(559.2 1301.0) scale(1.100 1)" font-family="Liberation Sans, sans-serif" font-size="79.5" font-weight="normal" text-anchor="middle">20</text>
<text transform="translate(795.8 1301.0) scale(1.100 1)" font-family="Liberation Sans, sans-serif" font-size="79.5" font-weight="normal" text-anchor="middle">30</text>
<text transform="translate(1032.4 1301.0) scale(1.100 1)" font-family="Liberation Sans, sans-serif" font-size="79.5" font-weight="normal" text-anchor="middle">40</text>
<text transform="translate(1268.9 1301.0) scale(1.100 1)" font-family="Liberation Sans, sans-serif" font-size="79.5" font-weight="normal" text-anchor="middle">50</text>
<text transform="translate(1505.5 1301.0) scale(1.100 1)" font-family="Liberation Sans, sans-serif" font-size="79.5" font-weight="normal" text-anchor="middle">60</text>
<text transform="translate(1742.1 1301.0) scale(1.100 1)" font-family="Liberation Sans, sans-serif" font-size="79.5" font-weight="normal" text-anchor="middle">70</text>
<text transform="translate(1978.7 1301.0) scale(1.100 1)" font-family="Liberation Sans, sans-serif" font-size="79.5" font-weight="normal" text-anchor="middle">80</text>
<text transform="translate(975.5 1441.0) scale(1.120 1)" font-family="Liberation Sans, sans-serif" font-size="80.0" font-weight="normal" text-anchor="start">2 <tspan dx="-2.7">&#952;</tspan> <tspan dx="-2.7">(</tspan><tspan font-size="49" dy="-39">o</tspan><tspan dy="39" dx="-1.3">)</tspan></text>
<text transform="translate(72 858.5) rotate(-90) scale(1.008 1.16)" font-family="Liberation Sans, sans-serif" font-size="78">Intensity (a.u.)</text>
<text transform="translate(610.0 91.4) scale(1.090 1)" font-family="Liberation Sans, sans-serif" font-size="72.5" font-weight="bold" text-anchor="start">(002)</text>
<text transform="translate(1707.2 503.0) scale(1.070 1)" font-family="Liberation Sans, sans-serif" font-size="67.5" font-weight="normal" text-anchor="start">1000 <tspan font-size="39.5" dy="-33">o</tspan><tspan dy="33" dx="-1.5">C</tspan></text>
<text transform="translate(1723.5 726.8) scale(1.090 1)" font-family="Liberation Sans, sans-serif" font-size="67.5" font-weight="normal" text-anchor="start">900 <tspan font-size="39.5" dy="-33">o</tspan><tspan dy="33" dx="-1.5">C</tspan></text>
<text transform="translate(1735.2 864.0) scale(1.090 1)" font-family="Liberation Sans, sans-serif" font-size="67.5" font-weight="normal" text-anchor="start">800 <tspan font-size="39.5" dy="-33">o</tspan><tspan dy="33" dx="-1.5">C</tspan></text>
<text transform="translate(1733.0 1022.7) scale(1.090 1)" font-family="Liberation Sans, sans-serif" font-size="67.5" font-weight="normal" text-anchor="start">700 <tspan font-size="39.5" dy="-33">o</tspan><tspan dy="33" dx="-1.5">C</tspan></text>
<text transform="translate(1729.5 1171.6) scale(1.090 1)" font-family="Liberation Sans, sans-serif" font-size="67.5" font-weight="normal" text-anchor="start">500 <tspan font-size="39.5" dy="-33">o</tspan><tspan dy="33" dx="-1.5">C</tspan></text>
<text transform="translate(1575.0 102.0) scale(1.105 1)" font-family="Liberation Serif, sans-serif" font-size="72.0" font-weight="normal" text-anchor="start">Magnetite</text>
<text transform="translate(1577.7 178.0) scale(1.105 1)" font-family="Liberation Serif, sans-serif" font-size="72.0" font-weight="normal" text-anchor="start">Cohenite</text>
<text transform="translate(1573.0 240.8) scale(1.130 1)" font-family="Liberation Serif, sans-serif" font-size="72.0" font-weight="normal" text-anchor="start">Fe</text>
<text transform="translate(1575.0 314.9) scale(1.094 1)" font-family="Liberation Serif, sans-serif" font-size="65.4" font-weight="normal" text-anchor="start">Iron carbide</text>
<polygon points="1520.50,50.10 1526.17,67.01 1544.82,63.10 1531.84,76.10 1544.82,89.10 1526.17,85.19 1520.50,102.10 1514.83,85.19 1496.18,89.10 1509.16,76.10 1496.18,63.10 1514.83,67.01" fill="#000"/>
<polygon points="1523.30,126.00 1530.10,145.50 1551.05,152.00 1530.10,158.50 1523.30,178.00 1516.50,158.50 1495.55,152.00 1516.50,145.50" fill="#000"/><polygon points="1523.30,132.38 1528.47,147.19 1543.96,152.00 1528.47,156.81 1523.30,171.62 1518.13,156.81 1502.64,152.00 1518.13,147.19" fill="#fff"/><polygon points="1523.30,152.00 1523.30,126.00 1530.10,145.50" fill="#000"/><polygon points="1523.30,152.00 1551.05,152.00 1530.10,158.50" fill="#000"/><polygon points="1523.30,152.00 1523.30,178.00 1516.50,158.50" fill="#000"/><polygon points="1523.30,152.00 1495.55,152.00 1516.50,145.50" fill="#000"/><path d="M1523.30 126.00L1523.30 178.00M1495.55 152.00L1551.05 152.00" stroke="#000" stroke-width="1.50"/>
<polygon points="1524.40,200.00 1542.90,220.50 1524.40,241.00 1505.90,220.50" fill="#000"/>
<polygon points="1526.50,268.00 1536.70,277.30 1526.50,286.60 1516.30,277.30" fill="#000"/><polygon points="1511.30,282.20 1521.50,291.50 1511.30,300.80 1501.10,291.50" fill="#000"/><polygon points="1541.70,282.20 1551.90,291.50 1541.70,300.80 1531.50,291.50" fill="#000"/><polygon points="1526.50,296.40 1536.70,305.70 1526.50,315.00 1516.30,305.70" fill="#000"/>
<polygon points="1098.00,366.80 1107.60,375.40 1098.00,384.00 1088.40,375.40" fill="#000"/><polygon points="1083.50,379.80 1093.10,388.40 1083.50,397.00 1073.90,388.40" fill="#000"/><polygon points="1112.50,379.80 1122.10,388.40 1112.50,397.00 1102.90,388.40" fill="#000"/><polygon points="1098.00,392.80 1107.60,401.40 1098.00,410.00 1088.40,401.40" fill="#000"/>
<polygon points="1142.40,306.10 1161.10,326.70 1142.40,347.30 1123.70,326.70" fill="#000"/>
<polygon points="1359.30,459.40 1368.90,468.00 1359.30,476.60 1349.70,468.00" fill="#000"/><polygon points="1344.80,472.40 1354.40,481.00 1344.80,489.60 1335.20,481.00" fill="#000"/><polygon points="1373.80,472.40 1383.40,481.00 1373.80,489.60 1364.20,481.00" fill="#000"/><polygon points="1359.30,485.40 1368.90,494.00 1359.30,502.60 1349.70,494.00" fill="#000"/>
<polygon points="1626.70,476.80 1645.40,497.40 1626.70,518.00 1608.00,497.40" fill="#000"/>
<polygon points="976.60,966.25 983.30,985.50 1004.05,991.90 983.30,998.30 976.60,1017.55 969.90,998.30 949.15,991.90 969.90,985.50" fill="#000"/><polygon points="976.60,972.64 981.67,987.19 996.92,991.90 981.67,996.61 976.60,1011.16 971.53,996.61 956.28,991.90 971.53,987.19" fill="#fff"/><polygon points="976.60,991.90 976.60,966.25 983.30,985.50" fill="#000"/><polygon points="976.60,991.90 1004.05,991.90 983.30,998.30" fill="#000"/><polygon points="976.60,991.90 976.60,1017.55 969.90,998.30" fill="#000"/><polygon points="976.60,991.90 949.15,991.90 969.90,985.50" fill="#000"/><path d="M976.60 966.25L976.60 1017.55M949.15 991.90L1004.05 991.90" stroke="#000" stroke-width="1.50"/>
<polygon points="1103.60,942.85 1110.30,962.10 1131.05,968.50 1110.30,974.90 1103.60,994.15 1096.90,974.90 1076.15,968.50 1096.90,962.10" fill="#000"/><polygon points="1103.60,949.24 1108.67,963.79 1123.92,968.50 1108.67,973.21 1103.60,987.76 1098.53,973.21 1083.28,968.50 1098.53,963.79" fill="#fff"/><polygon points="1103.60,968.50 1103.60,942.85 1110.30,962.10" fill="#000"/><polygon points="1103.60,968.50 1131.05,968.50 1110.30,974.90" fill="#000"/><polygon points="1103.60,968.50 1103.60,994.15 1096.90,974.90" fill="#000"/><polygon points="1103.60,968.50 1076.15,968.50 1096.90,962.10" fill="#000"/><path d="M1103.60 942.85L1103.60 994.15M1076.15 968.50L1131.05 968.50" stroke="#000" stroke-width="1.50"/>
<polygon points="1183.60,964.45 1190.30,983.70 1211.05,990.10 1190.30,996.50 1183.60,1015.75 1176.90,996.50 1156.15,990.10 1176.90,983.70" fill="#000"/><polygon points="1183.60,970.84 1188.67,985.39 1203.92,990.10 1188.67,994.81 1183.60,1009.36 1178.53,994.81 1163.28,990.10 1178.53,985.39" fill="#fff"/><polygon points="1183.60,990.10 1183.60,964.45 1190.30,983.70" fill="#000"/><polygon points="1183.60,990.10 1211.05,990.10 1190.30,996.50" fill="#000"/><polygon points="1183.60,990.10 1183.60,1015.75 1176.90,996.50" fill="#000"/><polygon points="1183.60,990.10 1156.15,990.10 1176.90,983.70" fill="#000"/><path d="M1183.60 964.45L1183.60 1015.75M1156.15 990.10L1211.05 990.10" stroke="#000" stroke-width="1.50"/>
<polygon points="1231.70,981.55 1238.40,1000.80 1259.15,1007.20 1238.40,1013.60 1231.70,1032.85 1225.00,1013.60 1204.25,1007.20 1225.00,1000.80" fill="#000"/><polygon points="1231.70,987.94 1236.77,1002.49 1252.02,1007.20 1236.77,1011.91 1231.70,1026.46 1226.63,1011.91 1211.38,1007.20 1226.63,1002.49" fill="#fff"/><polygon points="1231.70,1007.20 1231.70,981.55 1238.40,1000.80" fill="#000"/><polygon points="1231.70,1007.20 1259.15,1007.20 1238.40,1013.60" fill="#000"/><polygon points="1231.70,1007.20 1231.70,1032.85 1225.00,1013.60" fill="#000"/><polygon points="1231.70,1007.20 1204.25,1007.20 1225.00,1000.80" fill="#000"/><path d="M1231.70 981.55L1231.70 1032.85M1204.25 1007.20L1259.15 1007.20" stroke="#000" stroke-width="1.50"/>
<polygon points="808.00,1106.40 813.29,1121.41 829.98,1118.15 818.58,1129.90 829.98,1141.65 813.29,1138.39 808.00,1153.40 802.71,1138.39 786.02,1141.65 797.42,1129.90 786.02,1118.15 802.71,1121.41" fill="#000"/>
<polygon points="931.80,1093.80 937.09,1108.81 953.78,1105.55 942.38,1117.30 953.78,1129.05 937.09,1125.79 931.80,1140.80 926.51,1125.79 909.82,1129.05 921.22,1117.30 909.82,1105.55 926.51,1108.81" fill="#000"/>
<polygon points="1438.80,1111.30 1444.09,1126.31 1460.78,1123.05 1449.38,1134.80 1460.78,1146.55 1444.09,1143.29 1438.80,1158.30 1433.51,1143.29 1416.82,1146.55 1428.22,1134.80 1416.82,1123.05 1433.51,1126.31" fill="#000"/>
<polygon points="1568.80,1111.30 1574.09,1126.31 1590.78,1123.05 1579.38,1134.80 1590.78,1146.55 1574.09,1143.29 1568.80,1158.30 1563.51,1143.29 1546.82,1146.55 1558.22,1134.80 1546.82,1123.05 1563.51,1126.31" fill="#000"/>
</svg></body></html>
